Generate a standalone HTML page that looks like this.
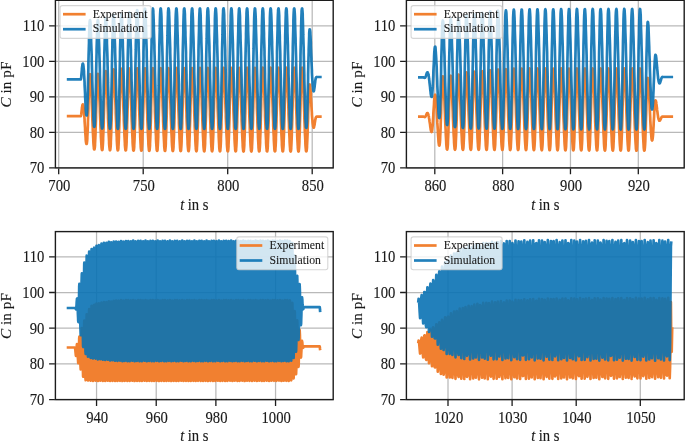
<!DOCTYPE html>
<html lang="en"><head><meta charset="utf-8"><title>C in pF vs t in s</title>
<style>
html,body{margin:0;padding:0;background:#fff;}
body{width:685px;height:441px;overflow:hidden;font-family:"Liberation Serif",serif;}
svg{display:block;will-change:transform;}
</style></head><body>
<svg width="685" height="441" viewBox="0 0 685 441">
<rect width="685" height="441" fill="#fff"/>
<defs>
<clipPath id="c1"><rect x="55.40" y="0.30" width="277.80" height="167.60"/></clipPath>
<clipPath id="c2"><rect x="406.40" y="0.30" width="277.80" height="167.60"/></clipPath>
<clipPath id="c3"><rect x="55.40" y="231.60" width="277.80" height="168.00"/></clipPath>
<clipPath id="c4"><rect x="406.40" y="231.60" width="277.80" height="168.00"/></clipPath>
</defs>
<path d="M58.70 0.30V167.90M143.20 0.30V167.90M227.70 0.30V167.90M312.20 0.30V167.90M55.40 167.90H333.20M55.40 132.38H333.20M55.40 96.85H333.20M55.40 61.33H333.20M55.40 25.80H333.20" stroke="#b9b9b9" stroke-width="1.25" fill="none"/>
<g clip-path="url(#c1)" fill="none" stroke-width="2.70" stroke-linejoin="round" stroke-linecap="butt">
<polyline stroke="#f18030" points="66.8,116.2 66.9,116.2 67.0,116.2 67.1,116.2 67.1,116.2 67.2,116.2 67.3,116.2 67.4,116.2 67.5,116.2 67.6,116.2 67.7,116.2 67.7,116.2 67.8,116.2 67.9,116.2 68.0,116.2 68.1,116.2 68.2,116.2 68.2,116.2 68.3,116.2 68.4,116.2 68.5,116.2 68.6,116.2 68.7,116.2 68.8,116.2 68.8,116.2 68.9,116.2 69.0,116.2 69.1,116.2 69.2,116.2 69.3,116.2 69.3,116.2 69.4,116.2 69.5,116.2 69.6,116.2 69.7,116.2 69.8,116.2 69.9,116.2 69.9,116.2 70.0,116.2 70.1,116.2 70.2,116.2 70.3,116.2 70.4,116.2 70.4,116.2 70.5,116.2 70.6,116.2 70.7,116.2 70.8,116.2 70.9,116.2 71.0,116.2 71.0,116.2 71.1,116.2 71.2,116.2 71.3,116.2 71.4,116.2 71.5,116.2 71.5,116.2 71.6,116.2 71.7,116.2 71.8,116.2 71.9,116.2 72.0,116.2 72.1,116.2 72.1,116.2 72.2,116.2 72.3,116.2 72.4,116.2 72.5,116.2 72.6,116.2 72.6,116.2 72.7,116.2 72.8,116.2 72.9,116.2 73.0,116.2 73.1,116.2 73.1,116.2 73.2,116.2 73.3,116.2 73.4,116.2 73.5,116.2 73.6,116.2 73.7,116.2 73.7,116.2 73.8,116.2 73.9,116.2 74.0,116.2 74.1,116.2 74.2,116.2 74.2,116.2 74.3,116.2 74.4,116.2 74.5,116.2 74.6,116.2 74.7,116.2 74.8,116.2 74.8,116.2 74.9,116.2 75.0,116.2 75.1,116.2 75.2,116.2 75.3,116.2 75.3,116.2 75.4,116.2 75.5,116.2 75.6,116.2 75.7,116.2 75.8,116.2 75.9,116.2 75.9,116.2 76.0,116.2 76.1,116.2 76.2,116.2 76.3,116.2 76.4,116.2 76.4,116.2 76.5,116.2 76.6,116.2 76.7,116.2 76.8,116.2 76.9,116.2 77.0,116.2 77.0,116.2 77.1,116.2 77.2,116.2 77.3,116.2 77.4,116.2 77.5,116.2 77.5,116.2 77.6,116.2 77.7,116.2 77.8,116.2 77.9,116.2 78.0,116.2 78.1,116.2 78.1,116.2 78.2,116.2 78.3,116.2 78.4,116.2 78.5,116.2 78.6,116.2 78.6,116.2 78.7,116.2 78.8,116.2 78.9,116.2 79.0,116.2 79.1,116.2 79.1,116.2 79.2,116.2 79.3,116.2 79.4,116.2 79.5,116.2 79.6,116.2 79.7,116.2 79.7,116.2 79.8,116.2 79.9,116.2 80.0,116.2 80.1,116.2 80.2,116.2 80.2,116.2 80.3,116.2 80.4,116.2 80.5,116.2 80.6,116.2 80.7,116.2 80.8,116.2 80.8,116.1 80.9,115.9 81.0,115.6 81.1,115.2 81.2,114.8 81.3,114.2 81.3,113.6 81.4,112.8 81.5,112.1 81.6,111.3 81.7,110.5 81.8,109.7 81.9,108.9 81.9,108.2 82.0,107.5 82.1,106.9 82.2,106.4 82.3,106.0 82.4,105.6 82.4,105.3 82.5,104.9 82.6,104.7 82.7,104.5 82.8,104.3 82.9,104.3 83.0,104.5 83.0,104.7 83.1,105.1 83.2,105.4 83.3,105.8 83.4,106.2 83.5,106.6 83.5,107.1 83.6,107.6 83.7,108.3 83.8,109.0 83.9,109.9 84.0,110.9 84.0,112.0 84.1,113.2 84.2,114.4 84.3,115.7 84.4,117.0 84.5,118.3 84.6,119.7 84.6,121.1 84.7,122.5 84.8,124.0 84.9,125.4 85.0,126.9 85.1,128.3 85.1,129.8 85.2,131.2 85.3,132.6 85.4,134.1 85.5,135.5 85.6,137.0 85.7,138.3 85.7,139.4 85.8,140.4 85.9,141.3 86.0,142.0 86.1,142.7 86.2,143.1 86.2,143.4 86.3,143.7 86.4,143.9 86.5,144.0 86.6,144.0 86.7,143.9 86.8,143.8 86.8,143.4 86.9,142.9 87.0,142.1 87.1,141.3 87.2,140.1 87.3,138.7 87.3,137.0 87.4,135.2 87.5,133.4 87.6,131.5 87.7,129.5 87.8,127.3 87.9,125.0 87.9,122.6 88.0,120.0 88.1,117.3 88.2,114.6 88.3,111.7 88.4,108.7 88.4,105.6 88.5,102.6 88.6,99.9 88.7,97.4 88.8,95.1 88.9,92.8 89.0,90.6 89.0,88.4 89.1,86.0 89.2,83.5 89.3,81.1 89.4,79.2 89.5,77.7 89.5,76.6 89.6,75.7 89.7,75.0 89.8,74.6 89.9,74.3 90.0,74.1 90.0,74.1 90.1,74.3 90.2,74.6 90.3,74.9 90.4,75.4 90.5,76.2 90.6,77.1 90.6,78.1 90.7,79.5 90.8,81.3 90.9,83.2 91.0,85.3 91.1,87.2 91.1,89.0 91.2,90.8 91.3,92.5 91.4,94.3 91.5,96.0 91.6,97.9 91.7,99.8 91.7,101.9 91.8,104.2 91.9,106.5 92.0,109.0 92.1,111.3 92.2,113.6 92.2,115.8 92.3,118.0 92.4,120.2 92.5,122.3 92.6,124.4 92.7,126.4 92.8,128.3 92.8,130.2 92.9,132.1 93.0,133.9 93.1,135.7 93.2,137.4 93.3,139.1 93.3,140.8 93.4,142.4 93.5,143.9 93.6,145.2 93.7,146.2 93.8,147.1 93.9,147.9 93.9,148.6 94.0,149.0 94.1,149.2 94.2,149.4 94.3,149.5 94.4,149.5 94.4,149.4 94.5,149.2 94.6,148.9 94.7,148.3 94.8,147.5 94.9,146.5 95.0,145.4 95.0,143.9 95.1,142.1 95.2,140.1 95.3,138.0 95.4,135.9 95.5,133.7 95.5,131.4 95.6,128.9 95.7,126.4 95.8,123.7 95.9,120.9 96.0,118.0 96.0,115.0 96.1,112.0 96.2,108.8 96.3,105.5 96.4,102.4 96.5,99.6 96.6,97.1 96.6,94.7 96.7,92.4 96.8,90.2 96.9,87.9 97.0,85.5 97.1,82.9 97.1,80.6 97.2,78.6 97.3,77.2 97.4,76.1 97.5,75.2 97.6,74.6 97.7,74.3 97.7,74.0 97.8,73.8 97.9,73.8 98.0,74.0 98.1,74.3 98.2,74.6 98.2,75.2 98.3,75.9 98.4,76.8 98.5,77.9 98.6,79.4 98.7,81.2 98.8,83.2 98.8,85.3 98.9,87.3 99.0,89.1 99.1,90.9 99.2,92.6 99.3,94.4 99.3,96.2 99.4,98.1 99.5,100.1 99.6,102.2 99.7,104.5 99.8,106.9 99.9,109.4 99.9,111.8 100.0,114.0 100.1,116.3 100.2,118.5 100.3,120.7 100.4,122.8 100.4,124.9 100.5,126.9 100.6,128.9 100.7,130.8 100.8,132.7 100.9,134.5 100.9,136.3 101.0,138.0 101.1,139.8 101.2,141.5 101.3,143.2 101.4,144.6 101.5,145.9 101.5,146.9 101.6,147.8 101.7,148.6 101.8,149.3 101.9,149.7 102.0,149.9 102.0,150.1 102.1,150.1 102.2,150.1 102.3,150.0 102.4,149.8 102.5,149.4 102.6,148.8 102.6,147.9 102.7,146.9 102.8,145.7 102.9,144.2 103.0,142.3 103.1,140.2 103.1,138.1 103.2,135.9 103.3,133.6 103.4,131.2 103.5,128.6 103.6,126.0 103.7,123.2 103.7,120.2 103.8,117.2 103.9,114.1 104.0,111.0 104.1,107.6 104.2,104.2 104.2,101.0 104.3,98.1 104.4,95.5 104.5,93.0 104.6,90.6 104.7,88.2 104.8,85.8 104.8,83.3 104.9,80.6 105.0,78.2 105.1,76.1 105.2,74.7 105.3,73.5 105.3,72.6 105.4,72.0 105.5,71.5 105.6,71.2 105.7,71.0 105.8,71.0 105.9,71.2 105.9,71.4 106.0,71.8 106.1,72.3 106.2,73.1 106.3,74.1 106.4,75.2 106.4,76.7 106.5,78.6 106.6,80.7 106.7,82.9 106.8,84.9 106.9,86.8 106.9,88.6 107.0,90.5 107.1,92.3 107.2,94.2 107.3,96.1 107.4,98.2 107.5,100.4 107.5,102.8 107.6,105.4 107.7,107.9 107.8,110.4 107.9,112.8 108.0,115.1 108.0,117.4 108.1,119.7 108.2,121.9 108.3,124.1 108.4,126.2 108.5,128.3 108.6,130.3 108.6,132.2 108.7,134.1 108.8,136.0 108.9,137.8 109.0,139.6 109.1,141.4 109.1,143.1 109.2,144.6 109.3,145.9 109.4,146.9 109.5,147.9 109.6,148.7 109.7,149.4 109.7,149.8 109.8,150.0 109.9,150.2 110.0,150.3 110.1,150.2 110.2,150.1 110.2,149.9 110.3,149.5 110.4,148.8 110.5,147.9 110.6,146.8 110.7,145.6 110.8,144.0 110.8,142.1 110.9,139.9 111.0,137.7 111.1,135.4 111.2,133.0 111.3,130.5 111.3,127.9 111.4,125.1 111.5,122.3 111.6,119.3 111.7,116.2 111.8,113.0 111.9,109.7 111.9,106.3 112.0,102.8 112.1,99.5 112.2,96.6 112.3,93.9 112.4,91.4 112.4,88.9 112.5,86.5 112.6,84.1 112.7,81.5 112.8,78.8 112.9,76.3 112.9,74.3 113.0,72.9 113.1,71.7 113.2,70.8 113.3,70.2 113.4,69.8 113.5,69.5 113.5,69.3 113.6,69.4 113.7,69.6 113.8,69.9 113.9,70.3 114.0,70.9 114.0,71.7 114.1,72.7 114.2,73.9 114.3,75.5 114.4,77.5 114.5,79.7 114.6,81.9 114.6,83.9 114.7,85.9 114.8,87.8 114.9,89.6 115.0,91.5 115.1,93.5 115.1,95.5 115.2,97.6 115.3,99.9 115.4,102.3 115.5,104.9 115.6,107.5 115.7,110.1 115.7,112.5 115.8,114.8 115.9,117.2 116.0,119.5 116.1,121.8 116.2,124.0 116.2,126.1 116.3,128.2 116.4,130.2 116.5,132.2 116.6,134.2 116.7,136.0 116.8,137.8 116.8,139.7 116.9,141.5 117.0,143.2 117.1,144.8 117.2,146.1 117.3,147.1 117.3,148.0 117.4,148.9 117.5,149.5 117.6,149.9 117.7,150.2 117.8,150.3 117.8,150.4 117.9,150.4 118.0,150.2 118.1,150.0 118.2,149.6 118.3,148.9 118.4,148.0 118.4,146.9 118.5,145.6 118.6,144.0 118.7,142.0 118.8,139.8 118.9,137.5 118.9,135.2 119.0,132.8 119.1,130.2 119.2,127.6 119.3,124.8 119.4,121.9 119.5,118.8 119.5,115.7 119.6,112.5 119.7,109.2 119.8,105.7 119.9,102.2 120.0,98.9 120.0,95.9 120.1,93.2 120.2,90.7 120.3,88.2 120.4,85.8 120.5,83.3 120.6,80.7 120.6,78.0 120.7,75.5 120.8,73.5 120.9,72.1 121.0,70.9 121.1,70.0 121.1,69.5 121.2,69.1 121.3,68.8 121.4,68.6 121.5,68.7 121.6,68.9 121.7,69.2 121.7,69.6 121.8,70.2 121.9,71.1 122.0,72.1 122.1,73.3 122.2,75.0 122.2,77.0 122.3,79.2 122.4,81.5 122.5,83.6 122.6,85.5 122.7,87.4 122.8,89.3 122.8,91.2 122.9,93.2 123.0,95.2 123.1,97.4 123.2,99.7 123.3,102.2 123.3,104.8 123.4,107.4 123.5,110.0 123.6,112.4 123.7,114.8 123.8,117.2 123.8,119.5 123.9,121.8 124.0,124.0 124.1,126.2 124.2,128.3 124.3,130.3 124.4,132.3 124.4,134.3 124.5,136.1 124.6,138.0 124.7,139.8 124.8,141.7 124.9,143.4 124.9,144.9 125.0,146.2 125.1,147.2 125.2,148.2 125.3,149.0 125.4,149.7 125.5,150.0 125.5,150.3 125.6,150.4 125.7,150.5 125.8,150.5 125.9,150.3 126.0,150.1 126.0,149.7 126.1,148.9 126.2,148.0 126.3,146.9 126.4,145.6 126.5,143.9 126.6,141.9 126.6,139.7 126.7,137.4 126.8,135.1 126.9,132.7 127.0,130.1 127.1,127.4 127.1,124.6 127.2,121.7 127.3,118.6 127.4,115.4 127.5,112.2 127.6,108.9 127.7,105.3 127.7,101.8 127.8,98.5 127.9,95.6 128.0,92.9 128.1,90.4 128.2,87.9 128.2,85.5 128.3,83.0 128.4,80.3 128.5,77.6 128.6,75.1 128.7,73.2 128.8,71.8 128.8,70.7 128.9,69.8 129.0,69.2 129.1,68.8 129.2,68.5 129.3,68.4 129.3,68.5 129.4,68.7 129.5,69.0 129.6,69.5 129.7,70.1 129.8,71.0 129.8,72.0 129.9,73.3 130.0,75.0 130.1,77.0 130.2,79.2 130.3,81.5 130.4,83.6 130.4,85.5 130.5,87.4 130.6,89.3 130.7,91.3 130.8,93.2 130.9,95.3 130.9,97.4 131.0,99.8 131.1,102.3 131.2,104.9 131.3,107.6 131.4,110.1 131.5,112.6 131.5,115.0 131.6,117.3 131.7,119.7 131.8,122.0 131.9,124.2 132.0,126.3 132.0,128.4 132.1,130.5 132.2,132.5 132.3,134.5 132.4,136.3 132.5,138.2 132.6,140.0 132.6,141.9 132.7,143.6 132.8,145.1 132.9,146.4 133.0,147.4 133.1,148.4 133.1,149.2 133.2,149.8 133.3,150.2 133.4,150.4 133.5,150.6 133.6,150.6 133.7,150.6 133.7,150.4 133.8,150.2 133.9,149.7 134.0,149.0 134.1,148.0 134.2,146.9 134.2,145.6 134.3,143.9 134.4,141.9 134.5,139.6 134.6,137.3 134.7,135.0 134.7,132.6 134.8,130.0 134.9,127.3 135.0,124.5 135.1,121.5 135.2,118.4 135.3,115.3 135.3,112.0 135.4,108.7 135.5,105.1 135.6,101.6 135.7,98.3 135.8,95.4 135.8,92.7 135.9,90.2 136.0,87.7 136.1,85.3 136.2,82.8 136.3,80.1 136.4,77.4 136.4,75.0 136.5,73.0 136.6,71.7 136.7,70.5 136.8,69.7 136.9,69.1 136.9,68.7 137.0,68.5 137.1,68.3 137.2,68.4 137.3,68.6 137.4,69.0 137.5,69.4 137.5,70.1 137.6,71.0 137.7,72.0 137.8,73.3 137.9,75.0 138.0,77.1 138.0,79.3 138.1,81.6 138.2,83.7 138.3,85.6 138.4,87.5 138.5,89.4 138.6,91.4 138.6,93.3 138.7,95.4 138.8,97.6 138.9,99.9 139.0,102.5 139.1,105.1 139.1,107.7 139.2,110.3 139.3,112.7 139.4,115.1 139.5,117.5 139.6,119.9 139.7,122.2 139.7,124.4 139.8,126.5 139.9,128.6 140.0,130.7 140.1,132.7 140.2,134.6 140.2,136.5 140.3,138.3 140.4,140.2 140.5,142.1 140.6,143.8 140.7,145.3 140.7,146.5 140.8,147.6 140.9,148.5 141.0,149.3 141.1,149.9 141.2,150.3 141.3,150.5 141.3,150.7 141.4,150.7 141.5,150.7 141.6,150.5 141.7,150.2 141.8,149.8 141.8,149.0 141.9,148.1 142.0,146.9 142.1,145.6 142.2,143.9 142.3,141.8 142.4,139.6 142.4,137.3 142.5,135.0 142.6,132.5 142.7,129.9 142.8,127.2 142.9,124.4 142.9,121.4 143.0,118.3 143.1,115.1 143.2,111.8 143.3,108.5 143.4,104.9 143.5,101.4 143.5,98.1 143.6,95.2 143.7,92.6 143.8,90.0 143.9,87.5 144.0,85.1 144.0,82.6 144.1,79.9 144.2,77.2 144.3,74.8 144.4,72.8 144.5,71.5 144.6,70.4 144.6,69.6 144.7,69.0 144.8,68.6 144.9,68.4 145.0,68.3 145.1,68.3 145.1,68.6 145.2,68.9 145.3,69.4 145.4,70.1 145.5,71.0 145.6,72.0 145.7,73.3 145.7,75.1 145.8,77.2 145.9,79.4 146.0,81.6 146.1,83.7 146.2,85.7 146.2,87.6 146.3,89.5 146.4,91.5 146.5,93.4 146.6,95.5 146.7,97.7 146.7,100.1 146.8,102.6 146.9,105.3 147.0,107.9 147.1,110.5 147.2,112.9 147.3,115.3 147.3,117.7 147.4,120.0 147.5,122.3 147.6,124.5 147.7,126.7 147.8,128.8 147.8,130.9 147.9,132.9 148.0,134.8 148.1,136.7 148.2,138.5 148.3,140.4 148.4,142.2 148.4,144.0 148.5,145.5 148.6,146.7 148.7,147.7 148.8,148.7 148.9,149.5 148.9,150.1 149.0,150.4 149.1,150.6 149.2,150.8 149.3,150.8 149.4,150.7 149.5,150.6 149.5,150.3 149.6,149.9 149.7,149.1 149.8,148.1 149.9,146.9 150.0,145.6 150.0,143.8 150.1,141.8 150.2,139.5 150.3,137.2 150.4,134.9 150.5,132.4 150.6,129.8 150.6,127.1 150.7,124.2 150.8,121.2 150.9,118.1 151.0,114.9 151.1,111.7 151.1,108.3 151.2,104.7 151.3,101.2 151.4,98.0 151.5,95.1 151.6,92.4 151.6,89.8 151.7,87.4 151.8,84.9 151.9,82.4 152.0,79.7 152.1,77.0 152.2,74.6 152.2,72.7 152.3,71.4 152.4,70.3 152.5,69.5 152.6,68.9 152.7,68.6 152.7,68.3 152.8,68.2 152.9,68.3 153.0,68.6 153.1,68.9 153.2,69.3 153.3,70.1 153.3,71.0 153.4,72.1 153.5,73.4 153.6,75.2 153.7,77.3 153.8,79.5 153.8,81.7 153.9,83.8 154.0,85.8 154.1,87.7 154.2,89.6 154.3,91.6 154.4,93.5 154.4,95.6 154.5,97.8 154.6,100.2 154.7,102.8 154.8,105.4 154.9,108.1 154.9,110.6 155.0,113.1 155.1,115.5 155.2,117.9 155.3,120.2 155.4,122.5 155.5,124.7 155.5,126.9 155.6,129.0 155.7,131.0 155.8,133.0 155.9,135.0 156.0,136.8 156.0,138.7 156.1,140.6 156.2,142.4 156.3,144.1 156.4,145.6 156.5,146.8 156.6,147.8 156.6,148.8 156.7,149.6 156.8,150.2 156.9,150.5 157.0,150.7 157.1,150.9 157.1,150.9 157.2,150.8 157.3,150.6 157.4,150.4 157.5,149.9 157.6,149.1 157.6,148.1 157.7,147.0 157.8,145.6 157.9,143.8 158.0,141.7 158.1,139.4 158.2,137.1 158.2,134.8 158.3,132.3 158.4,129.7 158.5,126.9 158.6,124.1 158.7,121.1 158.7,118.0 158.8,114.8 158.9,111.5 159.0,108.1 159.1,104.5 159.2,101.0 159.3,97.8 159.3,94.9 159.4,92.2 159.5,89.7 159.6,87.2 159.7,84.7 159.8,82.2 159.8,79.5 159.9,76.8 160.0,74.4 160.1,72.6 160.2,71.3 160.3,70.2 160.4,69.4 160.4,68.9 160.5,68.5 160.6,68.2 160.7,68.1 160.8,68.2 160.9,68.5 160.9,68.9 161.0,69.3 161.1,70.1 161.2,71.0 161.3,72.1 161.4,73.4 161.5,75.2 161.5,77.4 161.6,79.6 161.7,81.8 161.8,83.9 161.9,85.9 162.0,87.8 162.0,89.7 162.1,91.7 162.2,93.7 162.3,95.7 162.4,98.0 162.5,100.4 162.6,102.9 162.6,105.6 162.7,108.2 162.8,110.8 162.9,113.2 163.0,115.6 163.1,118.0 163.1,120.4 163.2,122.7 163.3,124.9 163.4,127.0 163.5,129.1 163.6,131.2 163.6,133.2 163.7,135.2 163.8,137.0 163.9,138.9 164.0,140.8 164.1,142.6 164.2,144.3 164.2,145.8 164.3,147.0 164.4,148.0 164.5,148.9 164.6,149.7 164.7,150.3 164.7,150.6 164.8,150.8 164.9,151.0 165.0,151.0 165.1,150.9 165.2,150.7 165.3,150.4 165.3,149.9 165.4,149.1 165.5,148.1 165.6,147.0 165.7,145.6 165.8,143.7 165.8,141.6 165.9,139.4 166.0,137.0 166.1,134.7 166.2,132.2 166.3,129.6 166.4,126.8 166.4,124.0 166.5,120.9 166.6,117.8 166.7,114.6 166.8,111.3 166.9,107.9 166.9,104.3 167.0,100.8 167.1,97.6 167.2,94.7 167.3,92.0 167.4,89.5 167.5,87.0 167.5,84.6 167.6,82.0 167.7,79.3 167.8,76.6 167.9,74.2 168.0,72.4 168.0,71.1 168.1,70.1 168.2,69.3 168.3,68.8 168.4,68.4 168.5,68.2 168.5,68.1 168.6,68.2 168.7,68.5 168.8,68.8 168.9,69.3 169.0,70.1 169.1,71.0 169.1,72.1 169.2,73.5 169.3,75.3 169.4,77.4 169.5,79.7 169.6,81.9 169.6,84.0 169.7,86.0 169.8,87.9 169.9,89.8 170.0,91.8 170.1,93.8 170.2,95.9 170.2,98.1 170.3,100.5 170.4,103.1 170.5,105.8 170.6,108.4 170.7,110.9 170.7,113.4 170.8,115.8 170.9,118.2 171.0,120.5 171.1,122.8 171.2,125.1 171.3,127.2 171.3,129.3 171.4,131.4 171.5,133.4 171.6,135.3 171.7,137.2 171.8,139.0 171.8,140.9 171.9,142.8 172.0,144.5 172.1,145.9 172.2,147.1 172.3,148.1 172.4,149.0 172.4,149.8 172.5,150.4 172.6,150.7 172.7,150.9 172.8,151.0 172.9,151.1 172.9,151.0 173.0,150.8 173.1,150.5 173.2,150.0 173.3,149.1 173.4,148.1 173.5,147.0 173.5,145.5 173.6,143.7 173.7,141.6 173.8,139.3 173.9,137.0 174.0,134.6 174.0,132.1 174.1,129.4 174.2,126.7 174.3,123.8 174.4,120.8 174.5,117.6 174.5,114.4 174.6,111.1 174.7,107.7 174.8,104.1 174.9,100.6 175.0,97.4 175.1,94.5 175.1,91.9 175.2,89.3 175.3,86.9 175.4,84.4 175.5,81.8 175.6,79.1 175.6,76.4 175.7,74.1 175.8,72.3 175.9,71.0 176.0,70.0 176.1,69.2 176.2,68.7 176.2,68.3 176.3,68.1 176.4,68.0 176.5,68.2 176.6,68.4 176.7,68.8 176.7,69.3 176.8,70.1 176.9,71.0 177.0,72.1 177.1,73.5 177.2,75.4 177.3,77.5 177.3,79.8 177.4,82.0 177.5,84.1 177.6,86.0 177.7,88.0 177.8,89.9 177.8,91.9 177.9,93.9 178.0,96.0 178.1,98.2 178.2,100.7 178.3,103.3 178.4,105.9 178.4,108.6 178.5,111.1 178.6,113.5 178.7,116.0 178.8,118.4 178.9,120.7 178.9,123.0 179.0,125.2 179.1,127.4 179.2,129.5 179.3,131.5 179.4,133.5 179.5,135.5 179.5,137.3 179.6,139.2 179.7,141.1 179.8,142.9 179.9,144.6 180.0,146.1 180.0,147.2 180.1,148.2 180.2,149.2 180.3,149.9 180.4,150.5 180.5,150.8 180.5,151.0 180.6,151.1 180.7,151.1 180.8,151.0 180.9,150.8 181.0,150.5 181.1,150.0 181.1,149.2 181.2,148.1 181.3,146.9 181.4,145.5 181.5,143.6 181.6,141.5 181.6,139.2 181.7,136.9 181.8,134.5 181.9,132.0 182.0,129.3 182.1,126.5 182.2,123.7 182.2,120.6 182.3,117.5 182.4,114.2 182.5,110.9 182.6,107.5 182.7,103.9 182.7,100.4 182.8,97.2 182.9,94.4 183.0,91.7 183.1,89.2 183.2,86.7 183.3,84.2 183.3,81.7 183.4,78.9 183.5,76.2 183.6,73.9 183.7,72.2 183.8,70.9 183.8,69.9 183.9,69.1 184.0,68.6 184.1,68.3 184.2,68.0 184.3,68.0 184.4,68.1 184.4,68.4 184.5,68.8 184.6,69.3 184.7,70.1 184.8,71.0 184.9,72.1 184.9,73.6 185.0,75.5 185.1,77.6 185.2,79.9 185.3,82.1 185.4,84.2 185.4,86.1 185.5,88.1 185.6,90.0 185.7,92.0 185.8,94.0 185.9,96.1 186.0,98.4 186.0,100.8 186.1,103.4 186.2,106.1 186.3,108.7 186.4,111.3 186.5,113.7 186.5,116.1 186.6,118.5 186.7,120.9 186.8,123.2 186.9,125.4 187.0,127.5 187.1,129.6 187.1,131.7 187.2,133.7 187.3,135.6 187.4,137.5 187.5,139.4 187.6,141.3 187.6,143.1 187.7,144.8 187.8,146.2 187.9,147.3 188.0,148.3 188.1,149.3 188.2,150.0 188.2,150.6 188.3,150.8 188.4,151.0 188.5,151.2 188.6,151.2 188.7,151.1 188.7,150.9 188.8,150.6 188.9,150.0 189.0,149.2 189.1,148.1 189.2,146.9 189.3,145.4 189.3,143.6 189.4,141.4 189.5,139.1 189.6,136.8 189.7,134.4 189.8,131.8 189.8,129.2 189.9,126.4 190.0,123.5 190.1,120.5 190.2,117.3 190.3,114.0 190.4,110.7 190.4,107.3 190.5,103.7 190.6,100.2 190.7,97.0 190.8,94.2 190.9,91.5 190.9,89.0 191.0,86.5 191.1,84.1 191.2,81.5 191.3,78.7 191.4,76.0 191.4,73.7 191.5,72.0 191.6,70.8 191.7,69.8 191.8,69.0 191.9,68.6 192.0,68.2 192.0,68.0 192.1,68.0 192.2,68.1 192.3,68.4 192.4,68.8 192.5,69.3 192.5,70.1 192.6,71.1 192.7,72.2 192.8,73.7 192.9,75.6 193.0,77.8 193.1,80.0 193.1,82.2 193.2,84.3 193.3,86.2 193.4,88.2 193.5,90.1 193.6,92.1 193.6,94.1 193.7,96.2 193.8,98.5 193.9,101.0 194.0,103.6 194.1,106.2 194.2,108.9 194.2,111.4 194.3,113.9 194.4,116.3 194.5,118.7 194.6,121.0 194.7,123.3 194.7,125.5 194.8,127.7 194.9,129.8 195.0,131.9 195.1,133.9 195.2,135.8 195.3,137.6 195.3,139.5 195.4,141.4 195.5,143.2 195.6,144.9 195.7,146.3 195.8,147.4 195.8,148.5 195.9,149.4 196.0,150.1 196.1,150.6 196.2,150.9 196.3,151.1 196.4,151.2 196.4,151.2 196.5,151.1 196.6,150.9 196.7,150.6 196.8,150.0 196.9,149.2 196.9,148.1 197.0,146.9 197.1,145.4 197.2,143.5 197.3,141.3 197.4,139.0 197.4,136.7 197.5,134.3 197.6,131.7 197.7,129.0 197.8,126.3 197.9,123.4 198.0,120.3 198.0,117.1 198.1,113.9 198.2,110.5 198.3,107.0 198.4,103.4 198.5,100.0 198.5,96.8 198.6,94.0 198.7,91.4 198.8,88.8 198.9,86.4 199.0,83.9 199.1,81.3 199.1,78.5 199.2,75.9 199.3,73.6 199.4,71.9 199.5,70.7 199.6,69.7 199.6,69.0 199.7,68.5 199.8,68.2 199.9,67.9 200.0,67.9 200.1,68.1 200.2,68.4 200.2,68.8 200.3,69.3 200.4,70.1 200.5,71.1 200.6,72.2 200.7,73.7 200.7,75.7 200.8,77.9 200.9,80.1 201.0,82.4 201.1,84.4 201.2,86.3 201.3,88.3 201.3,90.2 201.4,92.2 201.5,94.2 201.6,96.4 201.7,98.6 201.8,101.1 201.8,103.7 201.9,106.4 202.0,109.1 202.1,111.6 202.2,114.0 202.3,116.4 202.3,118.8 202.4,121.2 202.5,123.5 202.6,125.7 202.7,127.8 202.8,129.9 202.9,132.0 202.9,134.0 203.0,135.9 203.1,137.8 203.2,139.7 203.3,141.6 203.4,143.4 203.4,145.0 203.5,146.4 203.6,147.6 203.7,148.6 203.8,149.5 203.9,150.2 204.0,150.7 204.0,151.0 204.1,151.2 204.2,151.3 204.3,151.3 204.4,151.1 204.5,150.9 204.5,150.6 204.6,150.0 204.7,149.1 204.8,148.1 204.9,146.9 205.0,145.3 205.1,143.4 205.1,141.2 205.2,138.9 205.3,136.6 205.4,134.2 205.5,131.6 205.6,128.9 205.6,126.1 205.7,123.2 205.8,120.1 205.9,116.9 206.0,113.7 206.1,110.4 206.2,106.8 206.2,103.2 206.3,99.8 206.4,96.7 206.5,93.8 206.6,91.2 206.7,88.7 206.7,86.2 206.8,83.7 206.9,81.1 207.0,78.3 207.1,75.7 207.2,73.4 207.3,71.8 207.3,70.6 207.4,69.6 207.5,68.9 207.6,68.5 207.7,68.1 207.8,67.9 207.8,67.9 207.9,68.1 208.0,68.4 208.1,68.8 208.2,69.3 208.3,70.1 208.3,71.1 208.4,72.3 208.5,73.8 208.6,75.8 208.7,78.0 208.8,80.3 208.9,82.5 208.9,84.5 209.0,86.4 209.1,88.4 209.2,90.3 209.3,92.3 209.4,94.3 209.4,96.5 209.5,98.8 209.6,101.3 209.7,103.9 209.8,106.6 209.9,109.2 210.0,111.7 210.0,114.2 210.1,116.6 210.2,119.0 210.3,121.4 210.4,123.6 210.5,125.8 210.5,128.0 210.6,130.1 210.7,132.2 210.8,134.2 210.9,136.1 211.0,137.9 211.1,139.8 211.1,141.7 211.2,143.5 211.3,145.2 211.4,146.6 211.5,147.7 211.6,148.7 211.6,149.6 211.7,150.3 211.8,150.8 211.9,151.0 212.0,151.2 212.1,151.3 212.2,151.3 212.2,151.2 212.3,151.0 212.4,150.6 212.5,150.0 212.6,149.1 212.7,148.0 212.7,146.8 212.8,145.3 212.9,143.3 213.0,141.1 213.1,138.8 213.2,136.5 213.3,134.0 213.3,131.5 213.4,128.8 213.5,126.0 213.6,123.0 213.7,120.0 213.8,116.8 213.8,113.5 213.9,110.2 214.0,106.6 214.1,103.0 214.2,99.6 214.3,96.5 214.3,93.7 214.4,91.0 214.5,88.5 214.6,86.0 214.7,83.6 214.8,80.9 214.9,78.1 214.9,75.5 215.0,73.3 215.1,71.7 215.2,70.5 215.3,69.5 215.4,68.8 215.4,68.4 215.5,68.1 215.6,67.9 215.7,67.9 215.8,68.1 215.9,68.4 216.0,68.7 216.0,69.3 216.1,70.2 216.2,71.2 216.3,72.3 216.4,73.9 216.5,75.9 216.5,78.1 216.6,80.4 216.7,82.6 216.8,84.6 216.9,86.5 217.0,88.5 217.1,90.4 217.1,92.4 217.2,94.5 217.3,96.6 217.4,98.9 217.5,101.4 217.6,104.1 217.6,106.7 217.7,109.4 217.8,111.9 217.9,114.3 218.0,116.8 218.1,119.2 218.2,121.5 218.2,123.8 218.3,126.0 218.4,128.1 218.5,130.2 218.6,132.3 218.7,134.3 218.7,136.2 218.8,138.1 218.9,140.0 219.0,141.9 219.1,143.7 219.2,145.3 219.2,146.7 219.3,147.8 219.4,148.8 219.5,149.7 219.6,150.4 219.7,150.8 219.8,151.1 219.8,151.3 219.9,151.4 220.0,151.4 220.1,151.2 220.2,151.0 220.3,150.7 220.3,150.0 220.4,149.1 220.5,148.0 220.6,146.8 220.7,145.2 220.8,143.2 220.9,141.0 220.9,138.7 221.0,136.3 221.1,133.9 221.2,131.3 221.3,128.6 221.4,125.8 221.4,122.9 221.5,119.8 221.6,116.6 221.7,113.3 221.8,110.0 221.9,106.4 222.0,102.8 222.0,99.4 222.1,96.3 222.2,93.5 222.3,90.9 222.4,88.3 222.5,85.9 222.5,83.4 222.6,80.7 222.7,78.0 222.8,75.3 222.9,73.2 223.0,71.6 223.1,70.4 223.1,69.4 223.2,68.8 223.3,68.4 223.4,68.0 223.5,67.8 223.6,67.9 223.6,68.0 223.7,68.4 223.8,68.8 223.9,69.3 224.0,70.2 224.1,71.2 224.2,72.4 224.2,74.0 224.3,76.0 224.4,78.2 224.5,80.5 224.6,82.7 224.7,84.7 224.7,86.6 224.8,88.6 224.9,90.5 225.0,92.5 225.1,94.6 225.2,96.7 225.2,99.1 225.3,101.6 225.4,104.2 225.5,106.9 225.6,109.5 225.7,112.0 225.8,114.5 225.8,116.9 225.9,119.3 226.0,121.7 226.1,123.9 226.2,126.1 226.3,128.3 226.3,130.4 226.4,132.4 226.5,134.4 226.6,136.4 226.7,138.2 226.8,140.1 226.9,142.0 226.9,143.8 227.0,145.4 227.1,146.8 227.2,147.9 227.3,148.9 227.4,149.7 227.4,150.4 227.5,150.9 227.6,151.1 227.7,151.3 227.8,151.4 227.9,151.4 228.0,151.2 228.0,151.0 228.1,150.7 228.2,150.0 228.3,149.1 228.4,148.0 228.5,146.7 228.5,145.1 228.6,143.1 228.7,140.9 228.8,138.6 228.9,136.2 229.0,133.8 229.1,131.2 229.1,128.5 229.2,125.7 229.3,122.7 229.4,119.6 229.5,116.4 229.6,113.1 229.6,109.8 229.7,106.2 229.8,102.6 229.9,99.2 230.0,96.1 230.1,93.3 230.2,90.7 230.2,88.2 230.3,85.7 230.4,83.2 230.5,80.6 230.6,77.8 230.7,75.2 230.7,73.0 230.8,71.5 230.9,70.3 231.0,69.4 231.1,68.7 231.2,68.3 231.2,68.0 231.3,67.8 231.4,67.8 231.5,68.0 231.6,68.4 231.7,68.8 231.8,69.4 231.8,70.2 231.9,71.3 232.0,72.4 232.1,74.1 232.2,76.1 232.3,78.3 232.3,80.6 232.4,82.8 232.5,84.8 232.6,86.8 232.7,88.7 232.8,90.6 232.9,92.6 232.9,94.7 233.0,96.9 233.1,99.2 233.2,101.7 233.3,104.4 233.4,107.1 233.4,109.7 233.5,112.2 233.6,114.6 233.7,117.1 233.8,119.5 233.9,121.8 234.0,124.1 234.0,126.3 234.1,128.4 234.2,130.5 234.3,132.6 234.4,134.6 234.5,136.5 234.5,138.4 234.6,140.3 234.7,142.1 234.8,143.9 234.9,145.5 235.0,146.9 235.1,147.9 235.1,148.9 235.2,149.8 235.3,150.5 235.4,150.9 235.5,151.2 235.6,151.4 235.6,151.4 235.7,151.4 235.8,151.3 235.9,151.0 236.0,150.7 236.1,150.0 236.1,149.0 236.2,147.9 236.3,146.7 236.4,145.0 236.5,143.0 236.6,140.8 236.7,138.4 236.7,136.1 236.8,133.7 236.9,131.0 237.0,128.3 237.1,125.5 237.2,122.5 237.2,119.4 237.3,116.2 237.4,112.9 237.5,109.6 237.6,106.0 237.7,102.4 237.8,99.0 237.8,95.9 237.9,93.2 238.0,90.5 238.1,88.0 238.2,85.6 238.3,83.1 238.3,80.4 238.4,77.6 238.5,75.0 238.6,72.9 238.7,71.4 238.8,70.3 238.9,69.3 238.9,68.7 239.0,68.3 239.1,68.0 239.2,67.8 239.3,67.8 239.4,68.0 239.4,68.4 239.5,68.8 239.6,69.4 239.7,70.3 239.8,71.3 239.9,72.5 240.0,74.2 240.0,76.2 240.1,78.5 240.2,80.7 240.3,82.9 240.4,84.9 240.5,86.9 240.5,88.8 240.6,90.8 240.7,92.8 240.8,94.8 240.9,97.0 241.0,99.3 241.1,101.9 241.1,104.5 241.2,107.2 241.3,109.9 241.4,112.4 241.5,114.8 241.6,117.2 241.6,119.6 241.7,122.0 241.8,124.2 241.9,126.4 242.0,128.6 242.1,130.7 242.1,132.7 242.2,134.7 242.3,136.6 242.4,138.5 242.5,140.4 242.6,142.3 242.7,144.1 242.7,145.6 242.8,147.0 242.9,148.0 243.0,149.0 243.1,149.9 243.2,150.6 243.2,151.0 243.3,151.2 243.4,151.4 243.5,151.5 243.6,151.4 243.7,151.3 243.8,151.0 243.8,150.7 243.9,150.0 244.0,149.0 244.1,147.9 244.2,146.6 244.3,144.9 244.3,142.9 244.4,140.6 244.5,138.3 244.6,136.0 244.7,133.5 244.8,130.9 244.9,128.2 244.9,125.3 245.0,122.4 245.1,119.2 245.2,116.0 245.3,112.7 245.4,109.3 245.4,105.8 245.5,102.2 245.6,98.8 245.7,95.8 245.8,93.0 245.9,90.4 246.0,87.9 246.0,85.4 246.1,82.9 246.2,80.2 246.3,77.4 246.4,74.9 246.5,72.8 246.5,71.3 246.6,70.2 246.7,69.2 246.8,68.6 246.9,68.2 247.0,67.9 247.1,67.8 247.1,67.8 247.2,68.0 247.3,68.4 247.4,68.8 247.5,69.4 247.6,70.3 247.6,71.4 247.7,72.6 247.8,74.3 247.9,76.3 248.0,78.6 248.1,80.9 248.1,83.0 248.2,85.0 248.3,87.0 248.4,88.9 248.5,90.9 248.6,92.9 248.7,95.0 248.7,97.1 248.8,99.5 248.9,102.0 249.0,104.7 249.1,107.4 249.2,110.0 249.2,112.5 249.3,115.0 249.4,117.4 249.5,119.8 249.6,122.1 249.7,124.4 249.8,126.6 249.8,128.7 249.9,130.8 250.0,132.9 250.1,134.8 250.2,136.8 250.3,138.6 250.3,140.5 250.4,142.4 250.5,144.2 250.6,145.8 250.7,147.1 250.8,148.1 250.9,149.1 250.9,150.0 251.0,150.6 251.1,151.0 251.2,151.2 251.3,151.4 251.4,151.5 251.4,151.4 251.5,151.3 251.6,151.0 251.7,150.6 251.8,149.9 251.9,149.0 252.0,147.8 252.0,146.5 252.1,144.8 252.2,142.8 252.3,140.5 252.4,138.2 252.5,135.9 252.5,133.4 252.6,130.8 252.7,128.0 252.8,125.2 252.9,122.2 253.0,119.1 253.0,115.8 253.1,112.5 253.2,109.1 253.3,105.6 253.4,102.0 253.5,98.6 253.6,95.6 253.6,92.8 253.7,90.2 253.8,87.7 253.9,85.2 254.0,82.7 254.1,80.0 254.1,77.3 254.2,74.7 254.3,72.7 254.4,71.3 254.5,70.1 254.6,69.2 254.7,68.6 254.7,68.2 254.8,67.9 254.9,67.8 255.0,67.8 255.1,68.0 255.2,68.4 255.2,68.8 255.3,69.5 255.4,70.4 255.5,71.4 255.6,72.7 255.7,74.4 255.8,76.5 255.8,78.7 255.9,81.0 256.0,83.1 256.1,85.1 256.2,87.1 256.3,89.0 256.3,91.0 256.4,93.0 256.5,95.1 256.6,97.3 256.7,99.6 256.8,102.2 256.9,104.9 256.9,107.6 257.0,110.2 257.1,112.7 257.2,115.1 257.3,117.5 257.4,119.9 257.4,122.3 257.5,124.5 257.6,126.7 257.7,128.9 257.8,131.0 257.9,133.0 258.0,135.0 258.0,136.9 258.1,138.7 258.2,140.7 258.3,142.5 258.4,144.3 258.5,145.9 258.5,147.1 258.6,148.2 258.7,149.2 258.8,150.0 258.9,150.7 259.0,151.0 259.0,151.3 259.1,151.4 259.2,151.5 259.3,151.5 259.4,151.3 259.5,151.0 259.6,150.6 259.6,149.9 259.7,148.9 259.8,147.8 259.9,146.5 260.0,144.7 260.1,142.7 260.1,140.4 260.2,138.1 260.3,135.7 260.4,133.2 260.5,130.6 260.6,127.9 260.7,125.0 260.7,122.0 260.8,118.9 260.9,115.6 261.0,112.3 261.1,108.9 261.2,105.3 261.2,101.8 261.3,98.4 261.4,95.4 261.5,92.7 261.6,90.1 261.7,87.6 261.8,85.1 261.8,82.6 261.9,79.8 262.0,77.1 262.1,74.6 262.2,72.6 262.3,71.2 262.3,70.0 262.4,69.1 262.5,68.6 262.6,68.2 262.7,67.9 262.8,67.7 262.9,67.8 262.9,68.1 263.0,68.4 263.1,68.8 263.2,69.5 263.3,70.4 263.4,71.5 263.4,72.8 263.5,74.5 263.6,76.6 263.7,78.8 263.8,81.1 263.9,83.3 264.0,85.2 264.0,87.2 264.1,89.1 264.2,91.1 264.3,93.1 264.4,95.2 264.5,97.4 264.5,99.8 264.6,102.4 264.7,105.0 264.8,107.7 264.9,110.3 265.0,112.8 265.0,115.3 265.1,117.7 265.2,120.1 265.3,122.4 265.4,124.7 265.5,126.8 265.6,129.0 265.6,131.1 265.7,133.1 265.8,135.1 265.9,137.0 266.0,138.9 266.1,140.8 266.1,142.7 266.2,144.4 266.3,146.0 266.4,147.2 266.5,148.3 266.6,149.2 266.7,150.1 266.7,150.7 266.8,151.1 266.9,151.3 267.0,151.5 267.1,151.5 267.2,151.5 267.2,151.3 267.3,151.0 267.4,150.6 267.5,149.8 267.6,148.9 267.7,147.7 267.8,146.4 267.8,144.6 267.9,142.6 268.0,140.3 268.1,137.9 268.2,135.6 268.3,133.1 268.3,130.5 268.4,127.7 268.5,124.8 268.6,121.8 268.7,118.7 268.8,115.4 268.9,112.1 268.9,108.7 269.0,105.1 269.1,101.5 269.2,98.2 269.3,95.3 269.4,92.5 269.4,89.9 269.5,87.4 269.6,84.9 269.7,82.4 269.8,79.7 269.9,76.9 269.9,74.4 270.0,72.5 270.1,71.1 270.2,70.0 270.3,69.1 270.4,68.5 270.5,68.1 270.5,67.9 270.6,67.7 270.7,67.8 270.8,68.1 270.9,68.4 271.0,68.9 271.0,69.5 271.1,70.5 271.2,71.5 271.3,72.8 271.4,74.6 271.5,76.7 271.6,79.0 271.6,81.2 271.7,83.4 271.8,85.4 271.9,87.3 272.0,89.3 272.1,91.2 272.1,93.2 272.2,95.3 272.3,97.5 272.4,99.9 272.5,102.5 272.6,105.2 272.7,107.9 272.7,110.5 272.8,113.0 272.9,115.4 273.0,117.8 273.1,120.2 273.2,122.5 273.2,124.8 273.3,127.0 273.4,129.1 273.5,131.2 273.6,133.3 273.7,135.2 273.8,137.1 273.8,139.0 273.9,140.9 274.0,142.8 274.1,144.5 274.2,146.1 274.3,147.3 274.3,148.3 274.4,149.3 274.5,150.1 274.6,150.8 274.7,151.1 274.8,151.3 274.9,151.5 274.9,151.5 275.0,151.5 275.1,151.3 275.2,151.0 275.3,150.6 275.4,149.8 275.4,148.8 275.5,147.7 275.6,146.3 275.7,144.5 275.8,142.4 275.9,140.1 275.9,137.8 276.0,135.4 276.1,132.9 276.2,130.3 276.3,127.5 276.4,124.7 276.5,121.6 276.5,118.5 276.6,115.2 276.7,111.9 276.8,108.5 276.9,104.9 277.0,101.3 277.0,98.0 277.1,95.1 277.2,92.4 277.3,89.8 277.4,87.3 277.5,84.8 277.6,82.3 277.6,79.5 277.7,76.8 277.8,74.3 277.9,72.4 278.0,71.0 278.1,69.9 278.1,69.0 278.2,68.5 278.3,68.1 278.4,67.8 278.5,67.7 278.6,67.8 278.7,68.1 278.7,68.4 278.8,68.9 278.9,69.6 279.0,70.5 279.1,71.6 279.2,72.9 279.2,74.7 279.3,76.8 279.4,79.1 279.5,81.4 279.6,83.5 279.7,85.5 279.8,87.4 279.8,89.4 279.9,91.3 280.0,93.4 280.1,95.5 280.2,97.7 280.3,100.1 280.3,102.7 280.4,105.4 280.5,108.0 280.6,110.6 280.7,113.1 280.8,115.6 280.9,118.0 280.9,120.4 281.0,122.7 281.1,124.9 281.2,127.1 281.3,129.3 281.4,131.3 281.4,133.4 281.5,135.4 281.6,137.2 281.7,139.1 281.8,141.0 281.9,142.9 281.9,144.6 282.0,146.1 282.1,147.4 282.2,148.4 282.3,149.4 282.4,150.2 282.5,150.8 282.5,151.1 282.6,151.3 282.7,151.5 282.8,151.5 282.9,151.5 283.0,151.3 283.0,151.0 283.1,150.5 283.2,149.8 283.3,148.7 283.4,147.6 283.5,146.2 283.6,144.4 283.6,142.3 283.7,140.0 283.8,137.7 283.9,135.3 284.0,132.8 284.1,130.1 284.1,127.4 284.2,124.5 284.3,121.5 284.4,118.3 284.5,115.1 284.6,111.7 284.7,108.3 284.7,104.7 284.8,101.1 284.9,97.8 285.0,94.9 285.1,92.2 285.2,89.6 285.2,87.1 285.3,84.6 285.4,82.1 285.5,79.3 285.6,76.6 285.7,74.1 285.8,72.3 285.8,70.9 285.9,69.8 286.0,69.0 286.1,68.5 286.2,68.1 286.3,67.8 286.3,67.7 286.4,67.8 286.5,68.1 286.6,68.5 286.7,68.9 286.8,69.6 286.8,70.6 286.9,71.7 287.0,73.0 287.1,74.8 287.2,77.0 287.3,79.2 287.4,81.5 287.4,83.6 287.5,85.6 287.6,87.5 287.7,89.5 287.8,91.5 287.9,93.5 287.9,95.6 288.0,97.8 288.1,100.2 288.2,102.8 288.3,105.5 288.4,108.2 288.5,110.8 288.5,113.3 288.6,115.7 288.7,118.1 288.8,120.5 288.9,122.8 289.0,125.1 289.0,127.2 289.1,129.4 289.2,131.5 289.3,133.5 289.4,135.5 289.5,137.4 289.6,139.2 289.6,141.1 289.7,143.0 289.8,144.7 289.9,146.2 290.0,147.4 290.1,148.5 290.1,149.4 290.2,150.2 290.3,150.8 290.4,151.1 290.5,151.4 290.6,151.5 290.7,151.6 290.7,151.5 290.8,151.3 290.9,151.0 291.0,150.5 291.1,149.7 291.2,148.7 291.2,147.5 291.3,146.1 291.4,144.3 291.5,142.2 291.6,139.9 291.7,137.5 291.8,135.2 291.8,132.6 291.9,130.0 292.0,127.2 292.1,124.3 292.2,121.3 292.3,118.1 292.3,114.9 292.4,111.5 292.5,108.1 292.6,104.5 292.7,100.9 292.8,97.7 292.8,94.7 292.9,92.0 293.0,89.5 293.1,87.0 293.2,84.5 293.3,81.9 293.4,79.2 293.4,76.4 293.5,74.0 293.6,72.2 293.7,70.9 293.8,69.8 293.9,68.9 293.9,68.4 294.0,68.1 294.1,67.8 294.2,67.7 294.3,67.8 294.4,68.1 294.5,68.5 294.5,68.9 294.6,69.7 294.7,70.6 294.8,71.7 294.9,73.1 295.0,75.0 295.0,77.1 295.1,79.4 295.2,81.6 295.3,83.7 295.4,85.7 295.5,87.7 295.6,89.6 295.6,91.6 295.7,93.6 295.8,95.7 295.9,98.0 296.0,100.4 296.1,103.0 296.1,105.7 296.2,108.4 296.3,110.9 296.4,113.4 296.5,115.9 296.6,118.3 296.7,120.6 296.7,123.0 296.8,125.2 296.9,127.4 297.0,129.5 297.1,131.6 297.2,133.6 297.2,135.6 297.3,137.5 297.4,139.4 297.5,141.3 297.6,143.1 297.7,144.8 297.8,146.3 297.8,147.5 297.9,148.5 298.0,149.5 298.1,150.3 298.2,150.9 298.3,151.2 298.3,151.4 298.4,151.5 298.5,151.6 298.6,151.5 298.7,151.3 298.8,151.0 298.8,150.5 298.9,149.7 299.0,148.6 299.1,147.5 299.2,146.0 299.3,144.2 299.4,142.0 299.4,139.7 299.5,137.4 299.6,135.0 299.7,132.5 299.8,129.8 299.9,127.0 299.9,124.1 300.0,121.1 300.1,117.9 300.2,114.7 300.3,111.3 300.4,107.9 300.5,104.3 300.5,100.7 300.6,97.5 300.7,94.6 300.8,91.9 300.9,89.3 301.0,86.8 301.0,84.3 301.1,81.8 301.2,79.0 301.3,76.3 301.4,73.9 301.5,72.1 301.6,70.8 301.6,69.7 301.7,68.9 301.8,68.4 301.9,68.1 302.0,67.8 302.1,67.7 302.1,67.9 302.2,68.1 302.3,68.5 302.4,69.0 302.5,69.8 302.6,70.8 302.7,71.9 302.7,73.4 302.8,75.3 302.9,77.5 303.0,79.8 303.1,82.1 303.2,84.3 303.2,86.3 303.3,88.3 303.4,90.3 303.5,92.3 303.6,94.4 303.7,96.6 303.7,98.8 303.8,101.3 303.9,104.0 304.0,106.7 304.1,109.4 304.2,112.0 304.3,114.4 304.3,116.9 304.4,119.3 304.5,121.7 304.6,124.0 304.7,126.2 304.8,128.3 304.8,130.4 304.9,132.5 305.0,134.5 305.1,136.4 305.2,138.2 305.3,140.0 305.4,141.9 305.4,143.6 305.5,145.3 305.6,146.7 305.7,147.8 305.8,148.8 305.9,149.7 305.9,150.4 306.0,150.9 306.1,151.2 306.2,151.4 306.3,151.4 306.4,151.4 306.5,151.3 306.5,151.0 306.6,150.7 306.7,150.1 306.8,149.3 306.9,148.3 307.0,147.1 307.0,145.7 307.1,144.0 307.2,141.9 307.3,139.8 307.4,137.7 307.5,135.5 307.6,133.2 307.6,130.9 307.7,128.4 307.8,125.9 307.9,123.3 308.0,120.6 308.1,117.9 308.1,115.1 308.2,112.3 308.3,109.3 308.4,106.5 308.5,104.0 308.6,101.8 308.7,99.8 308.7,97.9 308.8,96.1 308.9,94.3 309.0,92.5 309.1,90.5 309.2,88.7 309.2,87.1 309.3,86.0 309.4,85.3 309.5,84.8 309.6,84.5 309.7,84.4 309.7,84.4 309.8,84.5 309.9,84.7 310.0,85.1 310.1,85.5 310.2,86.1 310.3,86.8 310.3,87.6 310.4,88.6 310.5,89.6 310.6,90.9 310.7,92.4 310.8,94.1 310.8,95.8 310.9,97.4 311.0,98.9 311.1,100.4 311.2,101.8 311.3,103.1 311.4,104.5 311.4,105.8 311.5,107.2 311.6,108.6 311.7,110.0 311.8,111.5 311.9,113.0 311.9,114.4 312.0,115.7 312.1,116.9 312.2,118.0 312.3,119.1 312.4,120.1 312.5,121.1 312.5,121.9 312.6,122.7 312.7,123.5 312.8,124.2 312.9,124.8 313.0,125.4 313.0,125.8 313.1,126.3 313.2,126.7 313.3,127.1 313.4,127.4 313.5,127.6 313.6,127.7 313.6,127.7 313.7,127.7 313.8,127.6 313.9,127.4 314.0,127.2 314.1,126.8 314.1,126.5 314.2,126.1 314.3,125.7 314.4,125.3 314.5,124.9 314.6,124.4 314.7,123.9 314.7,123.3 314.8,122.8 314.9,122.3 315.0,121.7 315.1,121.1 315.2,120.6 315.2,120.1 315.3,119.7 315.4,119.3 315.5,118.9 315.6,118.5 315.7,118.2 315.7,117.9 315.8,117.7 315.9,117.5 316.0,117.3 316.1,117.2 316.2,117.1 316.3,117.0 316.3,116.9 316.4,116.9 316.5,116.8 316.6,116.8 316.7,116.8 316.8,116.8 316.8,116.7 316.9,116.7 317.0,116.7 317.1,116.7 317.2,116.7 317.3,116.7 317.4,116.7 317.4,116.7 317.5,116.7 317.6,116.7 317.7,116.7 317.8,116.7 317.9,116.7 317.9,116.7 318.0,116.7 318.1,116.7 318.2,116.7 318.3,116.7 318.4,116.7 318.5,116.7 318.5,116.7 318.6,116.7 318.7,116.7 318.8,116.7 318.9,116.7 319.0,116.7 319.0,116.7 319.1,116.7 319.2,116.7 319.3,116.7 319.4,116.7 319.5,116.7 319.6,116.7 319.6,116.7 319.7,116.7 319.8,116.7 319.9,116.7 320.0,116.7 320.1,116.7 320.1,116.7 320.2,116.7 320.3,116.7 320.4,116.7 320.5,116.7 320.6,116.7 320.6,116.7 320.7,116.7 320.8,116.7 320.9,116.7 321.0,116.7 321.1,116.7 321.2,116.7 321.2,116.7 321.3,116.7 321.4,116.7 321.5,116.7 321.6,116.7 321.7,116.7"/>
<polyline stroke="#0a72b4" stroke-opacity="0.90" points="66.8,79.4 66.9,79.4 67.0,79.4 67.1,79.4 67.1,79.4 67.2,79.4 67.3,79.4 67.4,79.4 67.5,79.4 67.6,79.4 67.7,79.4 67.7,79.4 67.8,79.4 67.9,79.4 68.0,79.4 68.1,79.4 68.2,79.4 68.2,79.4 68.3,79.4 68.4,79.4 68.5,79.4 68.6,79.4 68.7,79.4 68.8,79.4 68.8,79.4 68.9,79.4 69.0,79.4 69.1,79.4 69.2,79.4 69.3,79.4 69.3,79.4 69.4,79.4 69.5,79.4 69.6,79.4 69.7,79.4 69.8,79.4 69.9,79.4 69.9,79.4 70.0,79.4 70.1,79.4 70.2,79.4 70.3,79.4 70.4,79.4 70.4,79.4 70.5,79.4 70.6,79.4 70.7,79.4 70.8,79.4 70.9,79.4 71.0,79.4 71.0,79.4 71.1,79.4 71.2,79.4 71.3,79.4 71.4,79.4 71.5,79.4 71.5,79.4 71.6,79.4 71.7,79.4 71.8,79.4 71.9,79.4 72.0,79.4 72.1,79.4 72.1,79.4 72.2,79.4 72.3,79.4 72.4,79.4 72.5,79.4 72.6,79.4 72.6,79.4 72.7,79.4 72.8,79.4 72.9,79.4 73.0,79.4 73.1,79.4 73.1,79.4 73.2,79.4 73.3,79.4 73.4,79.4 73.5,79.4 73.6,79.4 73.7,79.4 73.7,79.4 73.8,79.4 73.9,79.4 74.0,79.4 74.1,79.4 74.2,79.4 74.2,79.4 74.3,79.4 74.4,79.4 74.5,79.4 74.6,79.4 74.7,79.4 74.8,79.4 74.8,79.4 74.9,79.4 75.0,79.4 75.1,79.4 75.2,79.4 75.3,79.4 75.3,79.4 75.4,79.4 75.5,79.4 75.6,79.4 75.7,79.4 75.8,79.4 75.9,79.4 75.9,79.4 76.0,79.4 76.1,79.4 76.2,79.4 76.3,79.4 76.4,79.4 76.4,79.4 76.5,79.4 76.6,79.4 76.7,79.4 76.8,79.4 76.9,79.4 77.0,79.4 77.0,79.4 77.1,79.4 77.2,79.4 77.3,79.4 77.4,79.4 77.5,79.4 77.5,79.4 77.6,79.4 77.7,79.4 77.8,79.4 77.9,79.4 78.0,79.4 78.1,79.4 78.1,79.4 78.2,79.4 78.3,79.4 78.4,79.4 78.5,79.4 78.6,79.4 78.6,79.4 78.7,79.4 78.8,79.4 78.9,79.4 79.0,79.4 79.1,79.4 79.1,79.4 79.2,79.4 79.3,79.4 79.4,79.4 79.5,79.4 79.6,79.4 79.7,79.4 79.7,79.4 79.8,79.4 79.9,79.4 80.0,79.4 80.1,79.4 80.2,79.4 80.2,79.4 80.3,79.4 80.4,79.4 80.5,79.4 80.6,79.4 80.7,79.4 80.8,79.4 80.8,79.3 80.9,79.0 81.0,78.7 81.1,78.2 81.2,77.6 81.3,76.9 81.3,76.0 81.4,75.0 81.5,74.0 81.6,72.9 81.7,71.9 81.8,70.8 81.9,69.8 81.9,68.8 82.0,67.9 82.1,67.1 82.2,66.5 82.3,65.9 82.4,65.4 82.4,64.8 82.5,64.4 82.6,64.0 82.7,63.7 82.8,63.5 82.9,63.5 83.0,63.6 83.0,63.9 83.1,64.4 83.2,64.8 83.3,65.2 83.4,65.7 83.5,66.3 83.5,66.9 83.6,67.6 83.7,68.4 83.8,69.3 83.9,70.3 84.0,71.6 84.0,73.0 84.1,74.6 84.2,76.2 84.3,77.8 84.4,79.5 84.5,81.2 84.6,83.0 84.6,84.8 84.7,86.6 84.8,88.5 84.9,90.3 85.0,92.2 85.1,94.1 85.1,96.0 85.2,97.9 85.3,99.7 85.4,101.6 85.5,103.6 85.6,105.5 85.7,107.2 85.7,108.8 85.8,110.1 85.9,111.3 86.0,112.4 86.1,113.3 86.2,114.0 86.2,114.4 86.3,114.9 86.4,115.2 86.5,115.4 86.6,115.5 86.7,115.5 86.8,115.4 86.8,114.9 86.9,114.2 87.0,113.3 87.1,112.2 87.2,110.7 87.3,108.7 87.3,106.5 87.4,104.1 87.5,101.7 87.6,99.1 87.7,96.3 87.8,93.4 87.9,90.3 87.9,87.0 88.0,83.5 88.1,79.8 88.2,76.0 88.3,72.1 88.4,68.0 88.4,63.7 88.5,59.6 88.6,55.9 88.7,52.4 88.8,49.2 88.9,46.1 89.0,43.0 89.0,39.9 89.1,36.6 89.2,33.1 89.3,29.9 89.4,27.1 89.5,25.1 89.5,23.5 89.6,22.3 89.7,21.4 89.8,20.8 89.9,20.4 90.0,20.1 90.0,20.2 90.1,20.4 90.2,20.8 90.3,21.3 90.4,22.0 90.5,23.0 90.6,24.3 90.6,25.8 90.7,27.7 90.8,30.2 90.9,33.0 91.0,35.9 91.1,38.6 91.1,41.1 91.2,43.6 91.3,46.1 91.4,48.5 91.5,51.0 91.6,53.6 91.7,56.4 91.7,59.3 91.8,62.5 91.9,65.9 92.0,69.3 92.1,72.7 92.2,75.9 92.2,79.0 92.3,82.1 92.4,85.2 92.5,88.2 92.6,91.1 92.7,93.9 92.8,96.7 92.8,99.4 92.9,102.1 93.0,104.7 93.1,107.1 93.2,109.5 93.3,112.0 93.3,114.4 93.4,116.8 93.5,118.9 93.6,120.6 93.7,122.1 93.8,123.4 93.9,124.5 93.9,125.5 94.0,126.1 94.1,126.4 94.2,126.7 94.3,126.8 94.4,126.8 94.4,126.7 94.5,126.4 94.6,126.0 94.7,125.2 94.8,124.1 94.9,122.7 95.0,121.1 95.0,119.1 95.1,116.6 95.2,113.8 95.3,110.8 95.4,107.8 95.5,104.7 95.5,101.4 95.6,98.0 95.7,94.4 95.8,90.6 95.9,86.7 96.0,82.5 96.0,78.4 96.1,74.1 96.2,69.5 96.3,64.9 96.4,60.5 96.5,56.6 96.6,53.0 96.6,49.6 96.7,46.4 96.8,43.2 96.9,40.0 97.0,36.6 97.1,33.0 97.1,29.7 97.2,26.9 97.3,25.0 97.4,23.4 97.5,22.2 97.6,21.3 97.7,20.8 97.7,20.4 97.8,20.1 97.9,20.2 98.0,20.4 98.1,20.8 98.2,21.3 98.2,22.1 98.3,23.2 98.4,24.5 98.5,26.1 98.6,28.2 98.7,30.8 98.8,33.6 98.8,36.6 98.9,39.4 99.0,42.0 99.1,44.5 99.2,47.0 99.3,49.5 99.3,52.1 99.4,54.8 99.5,57.6 99.6,60.6 99.7,63.8 99.8,67.3 99.9,70.7 99.9,74.1 100.0,77.4 100.1,80.5 100.2,83.7 100.3,86.8 100.4,89.8 100.4,92.8 100.5,95.6 100.6,98.4 100.7,101.2 100.8,103.8 100.9,106.4 100.9,108.9 101.0,111.3 101.1,113.8 101.2,116.3 101.3,118.6 101.4,120.7 101.5,122.5 101.5,123.9 101.6,125.2 101.7,126.3 101.8,127.2 101.9,127.8 102.0,128.1 102.0,128.4 102.1,128.5 102.2,128.4 102.3,128.2 102.4,127.9 102.5,127.5 102.6,126.6 102.6,125.4 102.7,123.9 102.8,122.3 102.9,120.1 103.0,117.5 103.1,114.6 103.1,111.5 103.2,108.5 103.3,105.3 103.4,101.8 103.5,98.3 103.6,94.5 103.7,90.7 103.7,86.6 103.8,82.3 103.9,78.0 104.0,73.6 104.1,68.9 104.2,64.1 104.2,59.6 104.3,55.6 104.4,51.9 104.5,48.4 104.6,45.1 104.7,41.8 104.8,38.5 104.8,34.9 104.9,31.3 105.0,27.8 105.1,25.0 105.2,23.0 105.3,21.4 105.3,20.1 105.4,19.3 105.5,18.7 105.6,18.3 105.7,18.0 105.8,18.0 105.9,18.3 105.9,18.7 106.0,19.2 106.1,20.0 106.2,21.1 106.3,22.4 106.4,24.0 106.4,26.2 106.5,28.8 106.6,31.8 106.7,34.8 106.8,37.6 106.9,40.2 106.9,42.8 107.0,45.4 107.1,47.9 107.2,50.6 107.3,53.3 107.4,56.2 107.5,59.2 107.5,62.6 107.6,66.1 107.7,69.7 107.8,73.2 107.9,76.5 108.0,79.7 108.0,82.9 108.1,86.1 108.2,89.2 108.3,92.3 108.4,95.2 108.5,98.0 108.6,100.8 108.6,103.6 108.7,106.2 108.8,108.8 108.9,111.3 109.0,113.8 109.1,116.3 109.1,118.7 109.2,120.9 109.3,122.7 109.4,124.1 109.5,125.4 109.6,126.6 109.7,127.5 109.7,128.1 109.8,128.4 109.9,128.6 110.0,128.7 110.1,128.7 110.2,128.5 110.2,128.2 110.3,127.7 110.4,126.7 110.5,125.4 110.6,123.9 110.7,122.2 110.8,120.0 110.8,117.2 110.9,114.2 111.0,111.0 111.1,107.9 111.2,104.5 111.3,101.0 111.3,97.3 111.4,93.5 111.5,89.4 111.6,85.2 111.7,80.8 111.8,76.3 111.9,71.8 111.9,66.9 112.0,62.0 112.1,57.4 112.2,53.3 112.3,49.5 112.4,45.9 112.4,42.5 112.5,39.1 112.6,35.7 112.7,32.0 112.8,28.2 112.9,24.7 112.9,21.8 113.0,19.8 113.1,18.2 113.2,16.9 113.3,16.1 113.4,15.5 113.5,15.1 113.5,14.8 113.6,14.9 113.7,15.1 113.8,15.6 113.9,16.1 114.0,17.0 114.0,18.2 114.1,19.6 114.2,21.2 114.3,23.5 114.4,26.3 114.5,29.3 114.6,32.4 114.6,35.4 114.7,38.1 114.8,40.7 114.9,43.4 115.0,46.0 115.1,48.8 115.1,51.6 115.2,54.5 115.3,57.8 115.4,61.2 115.5,64.9 115.6,68.5 115.7,72.1 115.7,75.5 115.8,78.8 115.9,82.1 116.0,85.4 116.1,88.6 116.2,91.7 116.2,94.7 116.3,97.6 116.4,100.5 116.5,103.3 116.6,106.0 116.7,108.6 116.8,111.2 116.8,113.8 116.9,116.3 117.0,118.8 117.1,120.9 117.2,122.7 117.3,124.2 117.3,125.5 117.4,126.7 117.5,127.6 117.6,128.2 117.7,128.5 117.8,128.7 117.8,128.8 117.9,128.8 118.0,128.5 118.1,128.2 118.2,127.7 118.3,126.7 118.4,125.4 118.4,123.8 118.5,122.1 118.6,119.7 118.7,116.9 118.8,113.9 118.9,110.6 118.9,107.4 119.0,104.1 119.1,100.5 119.2,96.7 119.3,92.8 119.4,88.7 119.5,84.4 119.5,80.0 119.6,75.5 119.7,70.8 119.8,65.9 119.9,61.0 120.0,56.3 120.0,52.2 120.1,48.4 120.2,44.8 120.3,41.4 120.4,38.0 120.5,34.5 120.6,30.8 120.6,27.0 120.7,23.4 120.8,20.6 120.9,18.6 121.0,17.0 121.1,15.8 121.1,14.9 121.2,14.4 121.3,14.0 121.4,13.7 121.5,13.8 121.6,14.1 121.7,14.5 121.7,15.1 121.8,16.0 121.9,17.2 122.0,18.6 122.1,20.3 122.2,22.7 122.2,25.5 122.3,28.6 122.4,31.7 122.5,34.7 122.6,37.4 122.7,40.1 122.8,42.7 122.8,45.4 122.9,48.2 123.0,51.0 123.1,54.1 123.2,57.3 123.3,60.8 123.3,64.5 123.4,68.2 123.5,71.8 123.6,75.2 123.7,78.6 123.8,81.9 123.8,85.2 123.9,88.4 124.0,91.5 124.1,94.6 124.2,97.5 124.3,100.4 124.4,103.2 124.4,106.0 124.5,108.6 124.6,111.2 124.7,113.8 124.8,116.4 124.9,118.8 124.9,121.0 125.0,122.8 125.1,124.2 125.2,125.6 125.3,126.7 125.4,127.6 125.5,128.2 125.5,128.5 125.6,128.7 125.7,128.8 125.8,128.7 125.9,128.5 126.0,128.2 126.0,127.6 126.1,126.6 126.2,125.2 126.3,123.7 126.4,121.9 126.5,119.5 126.6,116.6 126.6,113.5 126.7,110.3 126.8,107.0 126.9,103.6 127.0,99.9 127.1,96.1 127.1,92.2 127.2,88.0 127.3,83.7 127.4,79.2 127.5,74.6 127.6,69.9 127.7,64.9 127.7,59.9 127.8,55.2 127.9,51.1 128.0,47.2 128.1,43.6 128.2,40.1 128.2,36.7 128.3,33.2 128.4,29.4 128.5,25.5 128.6,22.0 128.7,19.2 128.8,17.2 128.8,15.6 128.9,14.4 129.0,13.5 129.1,13.0 129.2,12.5 129.3,12.3 129.3,12.4 129.4,12.7 129.5,13.2 129.6,13.7 129.7,14.7 129.8,15.9 129.8,17.4 129.9,19.1 130.0,21.5 130.1,24.4 130.2,27.5 130.3,30.7 130.4,33.6 130.4,36.4 130.5,39.1 130.6,41.8 130.7,44.5 130.8,47.3 130.9,50.2 130.9,53.2 131.0,56.5 131.1,60.1 131.2,63.8 131.3,67.6 131.4,71.2 131.5,74.7 131.5,78.1 131.6,81.5 131.7,84.8 131.8,88.0 131.9,91.2 132.0,94.2 132.0,97.2 132.1,100.2 132.2,103.0 132.3,105.8 132.4,108.4 132.5,111.0 132.6,113.7 132.6,116.3 132.7,118.8 132.8,121.0 132.9,122.8 133.0,124.2 133.1,125.6 133.1,126.8 133.2,127.7 133.3,128.2 133.4,128.5 133.5,128.7 133.6,128.8 133.7,128.7 133.7,128.5 133.8,128.1 133.9,127.5 134.0,126.5 134.1,125.1 134.2,123.5 134.2,121.6 134.3,119.2 134.4,116.2 134.5,113.0 134.6,109.7 134.7,106.4 134.7,102.9 134.8,99.2 134.9,95.3 135.0,91.3 135.1,87.0 135.2,82.6 135.3,78.0 135.3,73.3 135.4,68.5 135.5,63.4 135.6,58.4 135.7,53.6 135.8,49.4 135.8,45.5 135.9,41.9 136.0,38.3 136.1,34.8 136.2,31.2 136.3,27.3 136.4,23.4 136.4,19.9 136.5,17.0 136.6,15.1 136.7,13.4 136.8,12.2 136.9,11.4 136.9,10.8 137.0,10.4 137.1,10.2 137.2,10.3 137.3,10.6 137.4,11.1 137.5,11.7 137.5,12.6 137.6,13.9 137.7,15.4 137.8,17.2 137.9,19.7 138.0,22.6 138.0,25.8 138.1,29.1 138.2,32.1 138.3,34.9 138.4,37.6 138.5,40.4 138.6,43.1 138.6,46.0 138.7,48.9 138.8,52.1 138.9,55.5 139.0,59.1 139.1,62.9 139.1,66.7 139.2,70.4 139.3,73.9 139.4,77.4 139.5,80.8 139.6,84.2 139.7,87.5 139.7,90.7 139.8,93.8 139.9,96.9 140.0,99.8 140.1,102.7 140.2,105.5 140.2,108.2 140.3,110.9 140.4,113.6 140.5,116.3 140.6,118.8 140.7,121.0 140.7,122.8 140.8,124.2 140.9,125.6 141.0,126.8 141.1,127.7 141.2,128.2 141.3,128.5 141.3,128.7 141.4,128.8 141.5,128.7 141.6,128.5 141.7,128.1 141.8,127.5 141.8,126.4 141.9,124.9 142.0,123.3 142.1,121.4 142.2,118.9 142.3,115.9 142.4,112.6 142.4,109.2 142.5,105.9 142.6,102.3 142.7,98.5 142.8,94.6 142.9,90.5 142.9,86.2 143.0,81.6 143.1,77.0 143.2,72.3 143.3,67.4 143.4,62.2 143.5,57.1 143.5,52.3 143.6,48.1 143.7,44.2 143.8,40.5 143.9,36.9 144.0,33.3 144.0,29.7 144.1,25.7 144.2,21.8 144.3,18.2 144.4,15.4 144.5,13.5 144.6,11.9 144.6,10.7 144.7,9.9 144.8,9.3 144.9,8.9 145.0,8.7 145.1,8.9 145.1,9.2 145.2,9.7 145.3,10.4 145.4,11.4 145.5,12.7 145.6,14.2 145.7,16.1 145.7,18.7 145.8,21.7 145.9,25.0 146.0,28.2 146.1,31.2 146.2,34.1 146.2,36.9 146.3,39.6 146.4,42.5 146.5,45.4 146.6,48.4 146.7,51.5 146.7,55.0 146.8,58.7 146.9,62.5 147.0,66.4 147.1,70.1 147.2,73.6 147.3,77.2 147.3,80.6 147.4,84.0 147.5,87.4 147.6,90.6 147.7,93.7 147.8,96.8 147.8,99.8 147.9,102.7 148.0,105.5 148.1,108.3 148.2,110.9 148.3,113.7 148.4,116.3 148.4,118.8 148.5,121.0 148.6,122.8 148.7,124.3 148.8,125.7 148.9,126.9 148.9,127.7 149.0,128.2 149.1,128.5 149.2,128.8 149.3,128.8 149.4,128.7 149.5,128.4 149.5,128.1 149.6,127.4 149.7,126.3 149.8,124.8 149.9,123.2 150.0,121.2 150.0,118.6 150.1,115.6 150.2,112.3 150.3,109.0 150.4,105.6 150.5,102.0 150.6,98.2 150.6,94.2 150.7,90.1 150.8,85.7 150.9,81.2 151.0,76.5 151.1,71.8 151.1,66.9 151.2,61.7 151.3,56.6 151.4,51.8 151.5,47.6 151.6,43.7 151.6,40.0 151.7,36.4 151.8,32.9 151.9,29.2 152.0,25.2 152.1,21.3 152.2,17.8 152.2,15.0 152.3,13.1 152.4,11.5 152.5,10.3 152.6,9.6 152.7,9.0 152.7,8.6 152.8,8.5 152.9,8.6 153.0,9.0 153.1,9.5 153.2,10.2 153.3,11.2 153.3,12.5 153.4,14.1 153.5,16.0 153.6,18.6 153.7,21.7 153.8,24.9 153.8,28.2 153.9,31.2 154.0,34.1 154.1,36.9 154.2,39.6 154.3,42.5 154.4,45.4 154.4,48.4 154.5,51.6 154.6,55.1 154.7,58.8 154.8,62.6 154.9,66.5 154.9,70.2 155.0,73.8 155.1,77.3 155.2,80.7 155.3,84.2 155.4,87.5 155.5,90.7 155.5,93.9 155.6,96.9 155.7,99.9 155.8,102.8 155.9,105.7 156.0,108.4 156.0,111.1 156.1,113.8 156.2,116.5 156.3,119.0 156.4,121.1 156.5,122.9 156.6,124.4 156.6,125.7 156.7,126.9 156.8,127.8 156.9,128.2 157.0,128.5 157.1,128.8 157.1,128.8 157.2,128.7 157.3,128.4 157.4,128.1 157.5,127.3 157.6,126.2 157.6,124.7 157.7,123.1 157.8,121.1 157.9,118.5 158.0,115.4 158.1,112.1 158.2,108.7 158.2,105.4 158.3,101.7 158.4,97.9 158.5,93.9 158.6,89.8 158.7,85.4 158.7,80.9 158.8,76.2 158.9,71.4 159.0,66.5 159.1,61.3 159.2,56.2 159.3,51.5 159.3,47.3 159.4,43.4 159.5,39.7 159.6,36.1 159.7,32.6 159.8,28.9 159.8,24.9 159.9,21.0 160.0,17.5 160.1,14.8 160.2,12.9 160.3,11.4 160.4,10.2 160.4,9.4 160.5,8.9 160.6,8.5 160.7,8.4 160.8,8.6 160.9,8.9 160.9,9.5 161.0,10.1 161.1,11.2 161.2,12.6 161.3,14.1 161.4,16.1 161.5,18.7 161.5,21.8 161.6,25.1 161.7,28.3 161.8,31.3 161.9,34.2 162.0,37.0 162.0,39.8 162.1,42.6 162.2,45.5 162.3,48.6 162.4,51.8 162.5,55.3 162.6,59.0 162.6,62.9 162.7,66.7 162.8,70.4 162.9,73.9 163.0,77.5 163.1,80.9 163.1,84.4 163.2,87.7 163.3,90.9 163.4,94.0 163.5,97.1 163.6,100.1 163.6,103.0 163.7,105.8 163.8,108.5 163.9,111.2 164.0,114.0 164.1,116.6 164.2,119.1 164.2,121.3 164.3,123.0 164.4,124.5 164.5,125.8 164.6,127.0 164.7,127.8 164.7,128.2 164.8,128.6 164.9,128.8 165.0,128.8 165.1,128.7 165.2,128.4 165.3,128.0 165.3,127.3 165.4,126.1 165.5,124.6 165.6,123.0 165.7,120.9 165.8,118.3 165.8,115.2 165.9,111.9 166.0,108.5 166.1,105.1 166.2,101.5 166.3,97.7 166.4,93.7 166.4,89.5 166.5,85.2 166.6,80.6 166.7,75.9 166.8,71.2 166.9,66.2 166.9,61.0 167.0,55.9 167.1,51.2 167.2,47.1 167.3,43.2 167.4,39.5 167.5,35.9 167.5,32.3 167.6,28.7 167.7,24.7 167.8,20.8 167.9,17.3 168.0,14.7 168.0,12.8 168.1,11.3 168.2,10.1 168.3,9.4 168.4,8.9 168.5,8.5 168.5,8.4 168.6,8.6 168.7,9.0 168.8,9.5 168.9,10.2 169.0,11.3 169.1,12.6 169.1,14.2 169.2,16.2 169.3,18.9 169.4,22.0 169.5,25.3 169.6,28.5 169.6,31.5 169.7,34.3 169.8,37.1 169.9,39.9 170.0,42.8 170.1,45.7 170.2,48.7 170.2,52.0 170.3,55.5 170.4,59.2 170.5,63.1 170.6,66.9 170.7,70.6 170.7,74.2 170.8,77.7 170.9,81.1 171.0,84.6 171.1,87.9 171.2,91.1 171.3,94.2 171.3,97.3 171.4,100.3 171.5,103.2 171.6,106.0 171.7,108.7 171.8,111.4 171.8,114.1 171.9,116.8 172.0,119.2 172.1,121.4 172.2,123.1 172.3,124.5 172.4,125.9 172.4,127.0 172.5,127.8 172.6,128.3 172.7,128.6 172.8,128.8 172.9,128.8 172.9,128.7 173.0,128.4 173.1,128.0 173.2,127.2 173.3,126.0 173.4,124.5 173.5,122.9 173.5,120.8 173.6,118.1 173.7,115.0 173.8,111.7 173.9,108.4 174.0,104.9 174.0,101.3 174.1,97.4 174.2,93.4 174.3,89.3 174.4,84.9 174.5,80.3 174.5,75.6 174.6,70.9 174.7,65.9 174.8,60.7 174.9,55.6 175.0,51.0 175.1,46.8 175.1,42.9 175.2,39.3 175.3,35.7 175.4,32.1 175.5,28.4 175.6,24.4 175.6,20.5 175.7,17.1 175.8,14.6 175.9,12.7 176.0,11.2 176.1,10.1 176.2,9.4 176.2,8.9 176.3,8.5 176.4,8.4 176.5,8.6 176.6,9.0 176.7,9.5 176.7,10.2 176.8,11.3 176.9,12.7 177.0,14.3 177.1,16.4 177.2,19.1 177.3,22.2 177.3,25.5 177.4,28.7 177.5,31.7 177.6,34.5 177.7,37.3 177.8,40.1 177.8,42.9 177.9,45.9 178.0,48.9 178.1,52.2 178.2,55.7 178.3,59.5 178.4,63.3 178.4,67.2 178.5,70.8 178.6,74.4 178.7,77.9 178.8,81.4 178.9,84.8 178.9,88.1 179.0,91.3 179.1,94.4 179.2,97.5 179.3,100.5 179.4,103.4 179.5,106.2 179.5,108.9 179.6,111.6 179.7,114.3 179.8,116.9 179.9,119.4 180.0,121.5 180.0,123.2 180.1,124.6 180.2,126.0 180.3,127.1 180.4,127.9 180.5,128.3 180.5,128.6 180.6,128.8 180.7,128.8 180.8,128.7 180.9,128.4 181.0,128.0 181.1,127.2 181.1,126.0 181.2,124.4 181.3,122.8 181.4,120.6 181.5,117.9 181.6,114.8 181.6,111.5 181.7,108.2 181.8,104.7 181.9,101.1 182.0,97.2 182.1,93.2 182.2,89.0 182.2,84.6 182.3,80.0 182.4,75.3 182.5,70.6 182.6,65.6 182.7,60.4 182.7,55.3 182.8,50.7 182.9,46.6 183.0,42.7 183.1,39.0 183.2,35.5 183.3,31.9 183.3,28.2 183.4,24.2 183.5,20.3 183.6,16.9 183.7,14.4 183.8,12.6 183.8,11.1 183.9,10.0 184.0,9.3 184.1,8.8 184.2,8.5 184.3,8.4 184.4,8.6 184.4,9.0 184.5,9.6 184.6,10.3 184.7,11.4 184.8,12.8 184.9,14.4 184.9,16.5 185.0,19.3 185.1,22.4 185.2,25.7 185.3,28.9 185.4,31.9 185.4,34.7 185.5,37.5 185.6,40.3 185.7,43.1 185.8,46.1 185.9,49.1 186.0,52.4 186.0,55.9 186.1,59.7 186.2,63.6 186.3,67.4 186.4,71.1 186.5,74.6 186.5,78.1 186.6,81.6 186.7,85.0 186.8,88.3 186.9,91.5 187.0,94.6 187.1,97.6 187.1,100.6 187.2,103.5 187.3,106.3 187.4,109.0 187.5,111.7 187.6,114.5 187.6,117.1 187.7,119.5 187.8,121.6 187.9,123.2 188.0,124.7 188.1,126.0 188.2,127.2 188.2,127.9 188.3,128.3 188.4,128.6 188.5,128.8 188.6,128.8 188.7,128.6 188.7,128.3 188.8,127.9 188.9,127.1 189.0,125.9 189.1,124.3 189.2,122.6 189.3,120.5 189.3,117.8 189.4,114.6 189.5,111.3 189.6,108.0 189.7,104.5 189.8,100.8 189.8,97.0 189.9,92.9 190.0,88.8 190.1,84.3 190.2,79.8 190.3,75.1 190.4,70.3 190.4,65.2 190.5,60.0 190.6,55.0 190.7,50.4 190.8,46.3 190.9,42.5 190.9,38.8 191.0,35.3 191.1,31.7 191.2,27.9 191.3,24.0 191.4,20.1 191.4,16.8 191.5,14.3 191.6,12.5 191.7,11.0 191.8,10.0 191.9,9.3 192.0,8.8 192.0,8.5 192.1,8.4 192.2,8.6 192.3,9.1 192.4,9.6 192.5,10.4 192.5,11.5 192.6,12.9 192.7,14.5 192.8,16.7 192.9,19.4 193.0,22.6 193.1,25.9 193.1,29.1 193.2,32.0 193.3,34.9 193.4,37.6 193.5,40.4 193.6,43.3 193.6,46.2 193.7,49.3 193.8,52.6 193.9,56.1 194.0,59.9 194.1,63.8 194.2,67.6 194.2,71.3 194.3,74.8 194.4,78.3 194.5,81.8 194.6,85.2 194.7,88.5 194.7,91.7 194.8,94.8 194.9,97.8 195.0,100.8 195.1,103.7 195.2,106.5 195.3,109.2 195.3,111.9 195.4,114.6 195.5,117.3 195.6,119.7 195.7,121.7 195.8,123.3 195.8,124.8 195.9,126.1 196.0,127.2 196.1,127.9 196.2,128.3 196.3,128.6 196.4,128.8 196.4,128.8 196.5,128.6 196.6,128.3 196.7,127.9 196.8,127.0 196.9,125.8 196.9,124.2 197.0,122.5 197.1,120.3 197.2,117.6 197.3,114.4 197.4,111.1 197.4,107.8 197.5,104.3 197.6,100.6 197.7,96.7 197.8,92.7 197.9,88.5 198.0,84.1 198.0,79.5 198.1,74.8 198.2,70.0 198.3,64.9 198.4,59.7 198.5,54.7 198.5,50.2 198.6,46.1 198.7,42.3 198.8,38.6 198.9,35.0 199.0,31.5 199.1,27.7 199.1,23.7 199.2,19.9 199.3,16.6 199.4,14.2 199.5,12.4 199.6,11.0 199.6,9.9 199.7,9.3 199.8,8.8 199.9,8.5 200.0,8.4 200.1,8.7 200.2,9.1 200.2,9.6 200.3,10.4 200.4,11.6 200.5,13.0 200.6,14.6 200.7,16.8 200.7,19.6 200.8,22.8 200.9,26.1 201.0,29.3 201.1,32.2 201.2,35.0 201.3,37.8 201.3,40.6 201.4,43.5 201.5,46.4 201.6,49.5 201.7,52.8 201.8,56.4 201.8,60.2 201.9,64.0 202.0,67.8 202.1,71.5 202.2,75.0 202.3,78.5 202.3,82.0 202.4,85.4 202.5,88.7 202.6,91.9 202.7,95.0 202.8,98.0 202.9,101.0 202.9,103.9 203.0,106.7 203.1,109.3 203.2,112.1 203.3,114.8 203.4,117.4 203.4,119.8 203.5,121.8 203.6,123.4 203.7,124.9 203.8,126.2 203.9,127.3 204.0,128.0 204.0,128.3 204.1,128.6 204.2,128.8 204.3,128.8 204.4,128.6 204.5,128.3 204.5,127.9 204.6,127.0 204.7,125.7 204.8,124.1 204.9,122.4 205.0,120.2 205.1,117.4 205.1,114.2 205.2,110.9 205.3,107.6 205.4,104.1 205.5,100.4 205.6,96.5 205.6,92.4 205.7,88.2 205.8,83.8 205.9,79.2 206.0,74.5 206.1,69.7 206.2,64.6 206.2,59.4 206.3,54.4 206.4,49.9 206.5,45.9 206.6,42.0 206.7,38.4 206.7,34.8 206.8,31.3 206.9,27.5 207.0,23.5 207.1,19.7 207.2,16.4 207.3,14.1 207.3,12.3 207.4,10.9 207.5,9.9 207.6,9.2 207.7,8.7 207.8,8.4 207.8,8.4 207.9,8.7 208.0,9.1 208.1,9.7 208.2,10.5 208.3,11.7 208.3,13.1 208.4,14.7 208.5,17.0 208.6,19.8 208.7,23.0 208.8,26.3 208.9,29.4 208.9,32.4 209.0,35.2 209.1,38.0 209.2,40.8 209.3,43.6 209.4,46.6 209.4,49.7 209.5,53.0 209.6,56.6 209.7,60.4 209.8,64.2 209.9,68.1 210.0,71.7 210.0,75.2 210.1,78.7 210.2,82.2 210.3,85.6 210.4,88.9 210.5,92.0 210.5,95.1 210.6,98.2 210.7,101.2 210.8,104.0 210.9,106.8 211.0,109.5 211.1,112.2 211.1,114.9 211.2,117.6 211.3,119.9 211.4,121.9 211.5,123.5 211.6,125.0 211.6,126.3 211.7,127.3 211.8,128.0 211.9,128.4 212.0,128.6 212.1,128.8 212.2,128.8 212.2,128.6 212.3,128.3 212.4,127.8 212.5,126.9 212.6,125.6 212.7,124.0 212.7,122.3 212.8,120.0 212.9,117.2 213.0,114.0 213.1,110.7 213.2,107.3 213.3,103.9 213.3,100.1 213.4,96.2 213.5,92.2 213.6,88.0 213.7,83.5 213.8,78.9 213.8,74.2 213.9,69.4 214.0,64.3 214.1,59.1 214.2,54.1 214.3,49.7 214.3,45.6 214.4,41.8 214.5,38.2 214.6,34.6 214.7,31.0 214.8,27.2 214.9,23.2 214.9,19.4 215.0,16.3 215.1,14.0 215.2,12.2 215.3,10.8 215.4,9.8 215.4,9.2 215.5,8.7 215.6,8.4 215.7,8.4 215.8,8.7 215.9,9.2 216.0,9.7 216.0,10.5 216.1,11.7 216.2,13.2 216.3,14.9 216.4,17.1 216.5,20.0 216.5,23.2 216.6,26.5 216.7,29.6 216.8,32.5 216.9,35.4 217.0,38.1 217.1,41.0 217.1,43.8 217.2,46.8 217.3,49.9 217.4,53.2 217.5,56.8 217.6,60.6 217.6,64.5 217.7,68.3 217.8,71.9 217.9,75.4 218.0,78.9 218.1,82.4 218.2,85.8 218.2,89.1 218.3,92.2 218.4,95.3 218.5,98.4 218.6,101.3 218.7,104.2 218.7,107.0 218.8,109.7 218.9,112.4 219.0,115.1 219.1,117.7 219.2,120.1 219.2,122.0 219.3,123.6 219.4,125.0 219.5,126.3 219.6,127.4 219.7,128.0 219.8,128.4 219.8,128.7 219.9,128.8 220.0,128.8 220.1,128.6 220.2,128.3 220.3,127.8 220.3,126.8 220.4,125.5 220.5,123.9 220.6,122.2 220.7,119.9 220.8,117.0 220.9,113.8 220.9,110.5 221.0,107.1 221.1,103.6 221.2,99.9 221.3,96.0 221.4,92.0 221.4,87.7 221.5,83.3 221.6,78.6 221.7,73.9 221.8,69.1 221.9,64.0 222.0,58.8 222.0,53.9 222.1,49.4 222.2,45.4 222.3,41.6 222.4,38.0 222.5,34.4 222.5,30.8 222.6,27.0 222.7,23.0 222.8,19.2 222.9,16.1 223.0,13.9 223.1,12.1 223.1,10.7 223.2,9.8 223.3,9.2 223.4,8.7 223.5,8.4 223.6,8.4 223.6,8.7 223.7,9.2 223.8,9.7 223.9,10.6 224.0,11.8 224.1,13.3 224.2,15.0 224.2,17.3 224.3,20.2 224.4,23.4 224.5,26.7 224.6,29.8 224.7,32.7 224.7,35.5 224.8,38.3 224.9,41.1 225.0,44.0 225.1,47.0 225.2,50.1 225.2,53.4 225.3,57.0 225.4,60.8 225.5,64.7 225.6,68.5 225.7,72.1 225.8,75.6 225.8,79.1 225.9,82.6 226.0,86.0 226.1,89.2 226.2,92.4 226.3,95.5 226.3,98.5 226.4,101.5 226.5,104.4 226.6,107.1 226.7,109.8 226.8,112.6 226.9,115.3 226.9,117.9 227.0,120.2 227.1,122.1 227.2,123.7 227.3,125.1 227.4,126.4 227.4,127.4 227.5,128.1 227.6,128.4 227.7,128.7 227.8,128.8 227.9,128.8 228.0,128.6 228.0,128.2 228.1,127.7 228.2,126.8 228.3,125.4 228.4,123.8 228.5,122.1 228.5,119.7 228.6,116.9 228.7,113.6 228.8,110.3 228.9,106.9 229.0,103.4 229.1,99.7 229.1,95.8 229.2,91.7 229.3,87.5 229.4,83.0 229.5,78.4 229.6,73.6 229.6,68.8 229.7,63.7 229.8,58.5 229.9,53.6 230.0,49.2 230.1,45.2 230.2,41.4 230.2,37.8 230.3,34.2 230.4,30.6 230.5,26.8 230.6,22.8 230.7,19.0 230.7,15.9 230.8,13.8 230.9,12.0 231.0,10.7 231.1,9.7 231.2,9.1 231.2,8.7 231.3,8.4 231.4,8.4 231.5,8.7 231.6,9.2 231.7,9.8 231.8,10.7 231.8,11.9 231.9,13.4 232.0,15.1 232.1,17.4 232.2,20.4 232.3,23.6 232.3,26.9 232.4,30.0 232.5,32.9 232.6,35.7 232.7,38.5 232.8,41.3 232.9,44.2 232.9,47.1 233.0,50.3 233.1,53.6 233.2,57.3 233.3,61.1 233.4,64.9 233.4,68.7 233.5,72.3 233.6,75.9 233.7,79.3 233.8,82.8 233.9,86.2 234.0,89.4 234.0,92.6 234.1,95.7 234.2,98.7 234.3,101.7 234.4,104.5 234.5,107.3 234.5,110.0 234.6,112.7 234.7,115.4 234.8,118.0 234.9,120.3 235.0,122.2 235.1,123.8 235.1,125.2 235.2,126.5 235.3,127.5 235.4,128.1 235.5,128.4 235.6,128.7 235.6,128.8 235.7,128.8 235.8,128.5 235.9,128.2 236.0,127.7 236.1,126.7 236.1,125.3 236.2,123.7 236.3,121.9 236.4,119.6 236.5,116.7 236.6,113.4 236.7,110.1 236.7,106.7 236.8,103.2 236.9,99.5 237.0,95.5 237.1,91.5 237.2,87.2 237.2,82.7 237.3,78.1 237.4,73.4 237.5,68.5 237.6,63.4 237.7,58.2 237.8,53.3 237.8,48.9 237.9,44.9 238.0,41.2 238.1,37.5 238.2,34.0 238.3,30.4 238.3,26.5 238.4,22.5 238.5,18.8 238.6,15.8 238.7,13.7 238.8,12.0 238.9,10.6 238.9,9.7 239.0,9.1 239.1,8.7 239.2,8.4 239.3,8.5 239.4,8.8 239.4,9.2 239.5,9.8 239.6,10.7 239.7,12.0 239.8,13.5 239.9,15.2 240.0,17.6 240.0,20.5 240.1,23.8 240.2,27.0 240.3,30.2 240.4,33.1 240.5,35.9 240.5,38.6 240.6,41.5 240.7,44.3 240.8,47.3 240.9,50.5 241.0,53.8 241.1,57.5 241.1,61.3 241.2,65.2 241.3,69.0 241.4,72.5 241.5,76.1 241.6,79.6 241.6,83.0 241.7,86.4 241.8,89.6 241.9,92.8 242.0,95.9 242.1,98.9 242.1,101.9 242.2,104.7 242.3,107.5 242.4,110.1 242.5,112.9 242.6,115.6 242.7,118.1 242.7,120.4 242.8,122.3 242.9,123.9 243.0,125.3 243.1,126.5 243.2,127.5 243.2,128.1 243.3,128.4 243.4,128.7 243.5,128.8 243.6,128.8 243.7,128.5 243.8,128.2 243.8,127.6 243.9,126.6 244.0,125.3 244.1,123.6 244.2,121.8 244.3,119.4 244.3,116.5 244.4,113.2 244.5,109.9 244.6,106.5 244.7,103.0 244.8,99.2 244.9,95.3 244.9,91.2 245.0,86.9 245.1,82.4 245.2,77.8 245.3,73.1 245.4,68.2 245.4,63.1 245.5,57.9 245.6,53.0 245.7,48.7 245.8,44.7 245.9,40.9 246.0,37.3 246.0,33.8 246.1,30.2 246.2,26.3 246.3,22.3 246.4,18.6 246.5,15.6 246.5,13.5 246.6,11.9 246.7,10.5 246.8,9.6 246.9,9.1 247.0,8.6 247.1,8.4 247.1,8.5 247.2,8.8 247.3,9.3 247.4,9.9 247.5,10.8 247.6,12.1 247.6,13.6 247.7,15.3 247.8,17.8 247.9,20.7 248.0,24.0 248.1,27.2 248.1,30.4 248.2,33.2 248.3,36.0 248.4,38.8 248.5,41.6 248.6,44.5 248.7,47.5 248.7,50.6 248.8,54.0 248.9,57.7 249.0,61.5 249.1,65.4 249.2,69.2 249.2,72.7 249.3,76.3 249.4,79.8 249.5,83.2 249.6,86.6 249.7,89.8 249.8,93.0 249.8,96.1 249.9,99.1 250.0,102.0 250.1,104.9 250.2,107.6 250.3,110.3 250.3,113.0 250.4,115.7 250.5,118.3 250.6,120.6 250.7,122.4 250.8,124.0 250.9,125.4 250.9,126.6 251.0,127.6 251.1,128.1 251.2,128.5 251.3,128.7 251.4,128.8 251.4,128.7 251.5,128.5 251.6,128.2 251.7,127.6 251.8,126.6 251.9,125.2 252.0,123.5 252.0,121.7 252.1,119.2 252.2,116.3 252.3,113.0 252.4,109.7 252.5,106.3 252.5,102.8 252.6,99.0 252.7,95.0 252.8,91.0 252.9,86.7 253.0,82.2 253.0,77.5 253.1,72.8 253.2,67.9 253.3,62.7 253.4,57.6 253.5,52.7 253.6,48.4 253.6,44.5 253.7,40.7 253.8,37.1 253.9,33.6 254.0,29.9 254.1,26.0 254.1,22.1 254.2,18.4 254.3,15.5 254.4,13.4 254.5,11.8 254.6,10.5 254.7,9.6 254.7,9.0 254.8,8.6 254.9,8.4 255.0,8.5 255.1,8.8 255.2,9.3 255.2,9.9 255.3,10.9 255.4,12.1 255.5,13.7 255.6,15.5 255.7,17.9 255.8,20.9 255.8,24.2 255.9,27.4 256.0,30.5 256.1,33.4 256.2,36.2 256.3,39.0 256.3,41.8 256.4,44.7 256.5,47.7 256.6,50.8 256.7,54.3 256.8,57.9 256.9,61.8 256.9,65.6 257.0,69.4 257.1,73.0 257.2,76.5 257.3,80.0 257.4,83.4 257.4,86.8 257.5,90.0 257.6,93.2 257.7,96.2 257.8,99.3 257.9,102.2 258.0,105.1 258.0,107.8 258.1,110.5 258.2,113.2 258.3,115.9 258.4,118.4 258.5,120.7 258.5,122.5 258.6,124.0 258.7,125.5 258.8,126.7 258.9,127.6 259.0,128.1 259.0,128.5 259.1,128.7 259.2,128.8 259.3,128.7 259.4,128.5 259.5,128.1 259.6,127.5 259.6,126.5 259.7,125.1 259.8,123.4 259.9,121.6 260.0,119.1 260.1,116.1 260.1,112.8 260.2,109.5 260.3,106.1 260.4,102.5 260.5,98.8 260.6,94.8 260.7,90.7 260.7,86.4 260.8,81.9 260.9,77.2 261.0,72.5 261.1,67.6 261.2,62.4 261.2,57.3 261.3,52.5 261.4,48.2 261.5,44.2 261.6,40.5 261.7,36.9 261.8,33.3 261.8,29.7 261.9,25.8 262.0,21.8 262.1,18.2 262.2,15.3 262.3,13.3 262.3,11.7 262.4,10.4 262.5,9.6 262.6,9.0 262.7,8.6 262.8,8.4 262.9,8.5 262.9,8.8 263.0,9.3 263.1,10.0 263.2,10.9 263.3,12.2 263.4,13.8 263.4,15.6 263.5,18.1 263.6,21.1 263.7,24.4 263.8,27.6 263.9,30.7 264.0,33.6 264.0,36.4 264.1,39.2 264.2,42.0 264.3,44.9 264.4,47.9 264.5,51.0 264.5,54.5 264.6,58.2 264.7,62.0 264.8,65.9 264.9,69.6 265.0,73.2 265.0,76.7 265.1,80.2 265.2,83.6 265.3,87.0 265.4,90.2 265.5,93.3 265.6,96.4 265.6,99.4 265.7,102.4 265.8,105.2 265.9,107.9 266.0,110.6 266.1,113.4 266.1,116.1 266.2,118.6 266.3,120.8 266.4,122.6 266.5,124.1 266.6,125.5 266.7,126.7 266.7,127.7 266.8,128.2 266.9,128.5 267.0,128.7 267.1,128.8 267.2,128.7 267.2,128.5 267.3,128.1 267.4,127.5 267.5,126.4 267.6,125.0 267.7,123.3 267.8,121.4 267.8,118.9 267.9,115.9 268.0,112.6 268.1,109.3 268.2,105.9 268.3,102.3 268.3,98.5 268.4,94.6 268.5,90.5 268.6,86.1 268.7,81.6 268.8,77.0 268.9,72.2 268.9,67.3 269.0,62.1 269.1,57.0 269.2,52.2 269.3,47.9 269.4,44.0 269.4,40.3 269.5,36.7 269.6,33.1 269.7,29.5 269.8,25.6 269.9,21.6 269.9,18.0 270.0,15.2 270.1,13.2 270.2,11.6 270.3,10.3 270.4,9.5 270.5,9.0 270.5,8.6 270.6,8.4 270.7,8.5 270.8,8.9 270.9,9.4 271.0,10.0 271.0,11.0 271.1,12.3 271.2,13.9 271.3,15.7 271.4,18.3 271.5,21.3 271.6,24.6 271.6,27.8 271.7,30.9 271.8,33.7 271.9,36.5 272.0,39.3 272.1,42.1 272.1,45.0 272.2,48.1 272.3,51.2 272.4,54.7 272.5,58.4 272.6,62.2 272.7,66.1 272.7,69.8 272.8,73.4 272.9,76.9 273.0,80.4 273.1,83.8 273.2,87.2 273.2,90.4 273.3,93.5 273.4,96.6 273.5,99.6 273.6,102.6 273.7,105.4 273.8,108.1 273.8,110.8 273.9,113.5 274.0,116.2 274.1,118.7 274.2,120.9 274.3,122.7 274.3,124.2 274.4,125.6 274.5,126.8 274.6,127.7 274.7,128.2 274.8,128.5 274.9,128.7 274.9,128.8 275.0,128.7 275.1,128.5 275.2,128.1 275.3,127.4 275.4,126.3 275.4,124.9 275.5,123.2 275.6,121.3 275.7,118.7 275.8,115.7 275.9,112.4 275.9,109.1 276.0,105.7 276.1,102.1 276.2,98.3 276.3,94.3 276.4,90.2 276.5,85.9 276.5,81.3 276.6,76.7 276.7,71.9 276.8,67.0 276.9,61.8 277.0,56.7 277.0,51.9 277.1,47.7 277.2,43.8 277.3,40.1 277.4,36.5 277.5,32.9 277.6,29.3 277.6,25.3 277.7,21.4 277.8,17.8 277.9,15.0 278.0,13.1 278.1,11.5 278.1,10.3 278.2,9.5 278.3,9.0 278.4,8.6 278.5,8.4 278.6,8.5 278.7,8.9 278.7,9.4 278.8,10.1 278.9,11.1 279.0,12.4 279.1,14.0 279.2,15.9 279.2,18.4 279.3,21.5 279.4,24.8 279.5,28.0 279.6,31.1 279.7,33.9 279.8,36.7 279.8,39.5 279.9,42.3 280.0,45.2 280.1,48.2 280.2,51.4 280.3,54.9 280.3,58.6 280.4,62.5 280.5,66.3 280.6,70.0 280.7,73.6 280.8,77.1 280.9,80.6 280.9,84.0 281.0,87.4 281.1,90.6 281.2,93.7 281.3,96.8 281.4,99.8 281.4,102.7 281.5,105.6 281.6,108.3 281.7,111.0 281.8,113.7 281.9,116.4 281.9,118.9 282.0,121.1 282.1,122.8 282.2,124.3 282.3,125.7 282.4,126.9 282.5,127.7 282.5,128.2 282.6,128.5 282.7,128.8 282.8,128.8 282.9,128.7 283.0,128.4 283.0,128.1 283.1,127.4 283.2,126.3 283.3,124.8 283.4,123.1 283.5,121.2 283.6,118.6 283.6,115.5 283.7,112.2 283.8,108.9 283.9,105.5 284.0,101.9 284.1,98.1 284.1,94.1 284.2,90.0 284.3,85.6 284.4,81.1 284.5,76.4 284.6,71.6 284.7,66.7 284.7,61.5 284.8,56.4 284.9,51.7 285.0,47.5 285.1,43.5 285.2,39.8 285.2,36.3 285.3,32.7 285.4,29.0 285.5,25.1 285.6,21.1 285.7,17.6 285.8,14.9 285.8,13.0 285.9,11.4 286.0,10.2 286.1,9.5 286.2,8.9 286.3,8.5 286.3,8.4 286.4,8.5 286.5,8.9 286.6,9.4 286.7,10.1 286.8,11.1 286.8,12.5 286.9,14.1 287.0,16.0 287.1,18.6 287.2,21.7 287.3,24.9 287.4,28.2 287.4,31.2 287.5,34.1 287.6,36.9 287.7,39.7 287.8,42.5 287.9,45.4 287.9,48.4 288.0,51.6 288.1,55.1 288.2,58.8 288.3,62.7 288.4,66.5 288.5,70.3 288.5,73.8 288.6,77.3 288.7,80.8 288.8,84.2 288.9,87.6 289.0,90.8 289.0,93.9 289.1,97.0 289.2,100.0 289.3,102.9 289.4,105.7 289.5,108.4 289.6,111.1 289.6,113.9 289.7,116.5 289.8,119.0 289.9,121.2 290.0,122.9 290.1,124.4 290.1,125.8 290.2,126.9 290.3,127.8 290.4,128.2 290.5,128.5 290.6,128.8 290.7,128.8 290.7,128.7 290.8,128.4 290.9,128.0 291.0,127.3 291.1,126.2 291.2,124.7 291.2,123.0 291.3,121.0 291.4,118.4 291.5,115.3 291.6,112.0 291.7,108.7 291.8,105.3 291.8,101.7 291.9,97.8 292.0,93.8 292.1,89.7 292.2,85.3 292.3,80.8 292.3,76.1 292.4,71.4 292.5,66.4 292.6,61.2 292.7,56.1 292.8,51.4 292.8,47.2 292.9,43.3 293.0,39.6 293.1,36.0 293.2,32.5 293.3,28.8 293.4,24.8 293.4,20.9 293.5,17.4 293.6,14.8 293.7,12.9 293.8,11.3 293.9,10.2 293.9,9.4 294.0,8.9 294.1,8.5 294.2,8.4 294.3,8.6 294.4,9.0 294.5,9.5 294.5,10.2 294.6,11.2 294.7,12.6 294.8,14.2 294.9,16.1 295.0,18.8 295.0,21.9 295.1,25.1 295.2,28.4 295.3,31.4 295.4,34.2 295.5,37.0 295.6,39.8 295.6,42.7 295.7,45.6 295.8,48.6 295.9,51.8 296.0,55.3 296.1,59.1 296.1,62.9 296.2,66.8 296.3,70.5 296.4,74.0 296.5,77.5 296.6,81.0 296.7,84.4 296.7,87.8 296.8,91.0 296.9,94.1 297.0,97.2 297.1,100.2 297.2,103.1 297.2,105.9 297.3,108.6 297.4,111.3 297.5,114.0 297.6,116.7 297.7,119.2 297.8,121.3 297.8,123.0 297.9,124.5 298.0,125.8 298.1,127.0 298.2,127.8 298.3,128.3 298.3,128.6 298.4,128.8 298.5,128.8 298.6,128.7 298.7,128.4 298.8,128.0 298.8,127.3 298.9,126.1 299.0,124.6 299.1,122.9 299.2,120.9 299.3,118.2 299.4,115.2 299.4,111.8 299.5,108.5 299.6,105.1 299.7,101.4 299.8,97.6 299.9,93.6 299.9,89.4 300.0,85.1 300.1,80.5 300.2,75.8 300.3,71.1 300.4,66.1 300.5,60.9 300.5,55.8 300.6,51.1 300.7,47.0 300.8,43.1 300.9,39.4 301.0,35.8 301.0,32.3 301.1,28.6 301.2,24.6 301.3,20.7 301.4,17.2 301.5,14.6 301.6,12.8 301.6,11.3 301.7,10.1 301.8,9.4 301.9,8.9 302.0,8.5 302.1,8.4 302.1,8.6 302.2,9.0 302.3,9.5 302.4,10.3 302.5,11.4 302.6,12.8 302.7,14.4 302.7,16.5 302.8,19.2 302.9,22.4 303.0,25.7 303.1,29.0 303.2,32.1 303.2,34.9 303.3,37.8 303.4,40.6 303.5,43.5 303.6,46.5 303.7,49.6 303.7,52.9 303.8,56.4 303.9,60.2 304.0,64.1 304.1,67.9 304.2,71.6 304.3,75.1 304.3,78.6 304.4,82.1 304.5,85.5 304.6,88.8 304.7,91.9 304.8,95.0 304.8,98.0 304.9,100.9 305.0,103.8 305.1,106.5 305.2,109.1 305.3,111.7 305.4,114.3 305.4,116.9 305.5,119.2 305.6,121.2 305.7,122.8 305.8,124.2 305.9,125.4 305.9,126.5 306.0,127.2 306.1,127.5 306.2,127.7 306.3,127.8 306.4,127.8 306.5,127.5 306.5,127.1 306.6,126.6 306.7,125.8 306.8,124.5 306.9,123.0 307.0,121.3 307.0,119.3 307.1,116.7 307.2,113.8 307.3,110.6 307.4,107.5 307.5,104.4 307.6,101.0 307.6,97.6 307.7,94.0 307.8,90.3 307.9,86.5 308.0,82.6 308.1,78.6 308.1,74.5 308.2,70.4 308.3,66.1 308.4,62.0 308.5,58.3 308.6,55.1 308.7,52.1 308.7,49.3 308.8,46.7 308.9,44.1 309.0,41.4 309.1,38.5 309.2,35.8 309.2,33.5 309.3,31.9 309.4,30.9 309.5,30.1 309.6,29.5 309.7,29.4 309.7,29.3 309.8,29.4 309.9,29.7 310.0,30.2 310.1,30.9 310.2,31.7 310.3,32.6 310.3,33.8 310.4,35.2 310.5,36.7 310.6,38.5 310.7,40.7 310.8,43.1 310.8,45.5 310.9,47.9 311.0,50.1 311.1,52.2 311.2,54.2 311.3,56.1 311.4,58.1 311.4,60.0 311.5,62.0 311.6,64.0 311.7,66.0 311.8,68.2 311.9,70.3 311.9,72.3 312.0,74.2 312.1,75.9 312.2,77.5 312.3,79.1 312.4,80.6 312.5,81.9 312.5,83.2 312.6,84.3 312.7,85.4 312.8,86.4 312.9,87.2 313.0,88.0 313.0,88.7 313.1,89.4 313.2,90.0 313.3,90.5 313.4,91.0 313.5,91.3 313.6,91.4 313.6,91.4 313.7,91.4 313.8,91.2 313.9,91.0 314.0,90.6 314.1,90.2 314.1,89.8 314.2,89.3 314.3,88.7 314.4,88.1 314.5,87.5 314.6,86.9 314.7,86.2 314.7,85.5 314.8,84.8 314.9,84.1 315.0,83.3 315.1,82.6 315.2,81.9 315.2,81.2 315.3,80.6 315.4,80.1 315.5,79.6 315.6,79.1 315.7,78.7 315.7,78.4 315.8,78.1 315.9,77.8 316.0,77.6 316.1,77.5 316.2,77.3 316.3,77.2 316.3,77.2 316.4,77.1 316.5,77.1 316.6,77.0 316.7,77.0 316.8,77.0 316.8,77.0 316.9,77.0 317.0,77.0 317.1,77.0 317.2,77.0 317.3,77.0 317.4,77.0 317.4,77.0 317.5,77.0 317.6,77.0 317.7,77.0 317.8,77.0 317.9,77.0 317.9,77.0 318.0,77.0 318.1,77.0 318.2,77.0 318.3,77.0 318.4,77.0 318.5,77.0 318.5,77.0 318.6,77.0 318.7,77.0 318.8,77.0 318.9,77.0 319.0,77.0 319.0,77.0 319.1,77.0 319.2,77.0 319.3,77.0 319.4,77.0 319.5,77.0 319.6,77.0 319.6,77.0 319.7,77.0 319.8,77.0 319.9,77.0 320.0,77.0 320.1,77.0 320.1,77.0 320.2,77.0 320.3,77.0 320.4,77.0 320.5,77.0 320.6,77.0 320.6,77.0 320.7,77.0 320.8,77.0 320.9,77.0 321.0,77.0 321.1,77.0 321.2,77.0 321.2,77.0 321.3,77.0 321.4,77.0 321.5,77.0 321.6,77.0 321.7,77.0"/>
</g>
<rect x="55.40" y="0.30" width="277.80" height="167.60" fill="none" stroke="#1c1c1c" stroke-width="1.4"/>
<path d="M58.70 168.40v5.8M143.20 168.40v5.8M227.70 168.40v5.8M312.20 168.40v5.8M54.90 167.90h-5.8M54.90 132.38h-5.8M54.90 96.85h-5.8M54.90 61.33h-5.8M54.90 25.80h-5.8" stroke="#1c1c1c" stroke-width="1.3" fill="none"/>
<g font-family="'Liberation Serif', serif" font-size="14.67" fill="#1a1a1a" stroke="#1a1a1a" stroke-width="0.12">
<text transform="translate(59.30 190.90) scale(1 1.090)" text-anchor="middle" word-spacing="-0.2">700</text>
<text transform="translate(143.80 190.90) scale(1 1.090)" text-anchor="middle" word-spacing="-0.2">750</text>
<text transform="translate(228.30 190.90) scale(1 1.090)" text-anchor="middle" word-spacing="-0.2">800</text>
<text transform="translate(312.80 190.90) scale(1 1.090)" text-anchor="middle" word-spacing="-0.2">850</text>
<text transform="translate(44.30 173.30) scale(1 1.090)" text-anchor="end" word-spacing="-0.2">70</text>
<text transform="translate(44.30 137.78) scale(1 1.090)" text-anchor="end" word-spacing="-0.2">80</text>
<text transform="translate(44.30 102.25) scale(1 1.090)" text-anchor="end" word-spacing="-0.2">90</text>
<text transform="translate(44.30 66.73) scale(1 1.090)" text-anchor="end" word-spacing="-0.2">100</text>
<text transform="translate(44.30 31.20) scale(1 1.090)" text-anchor="end" word-spacing="-0.2">110</text>
<text transform="translate(194.30 209.70) scale(1 1.090)" text-anchor="middle" word-spacing="-0.2"><tspan font-style="italic">t</tspan> in s</text>
<text transform="translate(10.70 84.60) rotate(-90) scale(1.035 1)" text-anchor="middle" word-spacing="0.2"><tspan font-style="italic">C</tspan> in pF</text>
</g>
<rect x="60.10" y="5.60" width="91.00" height="32.80" rx="2.2" ry="2.2" fill="#fff" fill-opacity="0.8" stroke="#ccc" stroke-opacity="0.8" stroke-width="1.07"/>
<path d="M63.00 14.20h22.6" stroke="#f18030" stroke-width="2.70"/>
<path d="M63.00 29.20h22.6" stroke="#0a72b4" stroke-opacity="0.90" stroke-width="2.70"/>
<g font-family="'Liberation Serif', serif" font-size="11.73" fill="#1a1a1a" stroke="#1a1a1a" stroke-width="0.1">
<text x="92.80" y="17.50">Experiment</text>
<text x="92.80" y="32.40">Simulation</text>
</g>
<path d="M434.80 0.30V167.90M502.63 0.30V167.90M570.47 0.30V167.90M638.30 0.30V167.90M406.40 167.90H684.20M406.40 132.38H684.20M406.40 96.85H684.20M406.40 61.33H684.20M406.40 25.80H684.20" stroke="#b9b9b9" stroke-width="1.25" fill="none"/>
<g clip-path="url(#c2)" fill="none" stroke-width="2.70" stroke-linejoin="round" stroke-linecap="butt">
<polyline stroke="#f18030" points="418.0,116.6 418.2,116.6 418.4,116.6 418.5,116.6 418.7,116.6 418.9,116.6 419.0,116.6 419.2,116.6 419.4,116.6 419.5,116.6 419.7,116.6 419.9,116.6 420.0,116.6 420.2,116.6 420.4,116.6 420.6,116.6 420.7,116.6 420.9,116.6 421.1,116.6 421.2,116.6 421.4,116.6 421.6,116.6 421.7,116.6 421.9,116.6 422.1,116.6 422.3,116.6 422.4,116.6 422.6,116.6 422.8,116.6 422.9,116.6 423.1,116.6 423.3,116.6 423.4,116.6 423.6,116.6 423.8,116.7 423.9,116.8 424.1,116.9 424.3,116.9 424.5,117.0 424.6,117.0 424.8,117.1 425.0,117.0 425.1,116.9 425.3,116.8 425.5,116.5 425.6,116.2 425.8,115.9 426.0,115.6 426.2,115.1 426.3,114.6 426.5,114.2 426.7,113.9 426.8,113.6 427.0,113.3 427.2,113.2 427.3,113.1 427.5,113.0 427.7,113.1 427.8,113.4 428.0,113.8 428.2,114.3 428.4,114.8 428.5,115.3 428.7,116.0 428.9,116.8 429.0,117.9 429.2,118.9 429.4,120.0 429.5,121.2 429.7,122.4 429.9,123.5 430.1,124.8 430.2,126.0 430.4,127.3 430.6,128.5 430.7,129.5 430.9,130.3 431.1,131.0 431.2,131.4 431.4,131.8 431.6,132.0 431.7,131.9 431.9,131.5 432.1,130.7 432.3,129.4 432.4,127.9 432.6,126.1 432.8,124.0 432.9,121.6 433.1,118.8 433.3,115.8 433.4,112.6 433.6,109.8 433.8,107.2 434.0,104.6 434.1,101.7 434.3,99.0 434.5,97.3 434.6,96.1 434.8,95.3 435.0,94.8 435.1,94.7 435.3,94.9 435.5,95.5 435.6,96.7 435.8,98.8 436.0,101.0 436.2,103.0 436.3,105.1 436.5,107.3 436.7,109.8 436.8,112.9 437.0,116.2 437.2,119.3 437.3,122.4 437.5,125.4 437.7,128.4 437.9,131.2 438.0,134.0 438.2,136.7 438.4,139.5 438.5,141.7 438.7,143.4 438.9,144.6 439.0,145.3 439.2,145.6 439.4,145.6 439.5,145.3 439.7,144.2 439.9,142.5 440.1,139.7 440.2,136.1 440.4,132.4 440.6,128.1 440.7,123.4 440.9,118.2 441.1,112.6 441.2,106.6 441.4,101.1 441.6,96.4 441.8,92.1 441.9,87.6 442.1,82.9 442.3,79.7 442.4,77.7 442.6,76.8 442.8,76.3 442.9,76.4 443.1,77.0 443.3,78.3 443.4,80.2 443.6,83.3 443.8,87.2 444.0,90.9 444.1,94.2 444.3,97.7 444.5,101.4 444.6,105.6 444.8,110.3 445.0,114.8 445.1,119.1 445.3,123.3 445.5,127.3 445.7,131.0 445.8,134.6 446.0,138.0 446.2,141.3 446.3,144.3 446.5,146.5 446.7,148.1 446.8,149.1 447.0,149.5 447.2,149.6 447.3,149.3 447.5,148.4 447.7,146.6 447.9,144.1 448.0,140.3 448.2,136.2 448.4,131.8 448.5,126.9 448.7,121.5 448.9,115.8 449.0,109.7 449.2,103.5 449.4,98.3 449.6,93.7 449.7,89.3 449.9,84.5 450.1,80.3 450.2,77.9 450.4,76.4 450.6,75.7 450.7,75.6 450.9,76.0 451.1,76.9 451.2,78.5 451.4,81.0 451.6,84.7 451.8,88.6 451.9,92.1 452.1,95.6 452.3,99.2 452.4,103.1 452.6,107.7 452.8,112.4 452.9,116.8 453.1,121.1 453.3,125.2 453.5,129.1 453.6,132.8 453.8,136.3 454.0,139.6 454.1,142.9 454.3,145.5 454.5,147.4 454.6,148.8 454.8,149.5 455.0,149.7 455.1,149.6 455.3,149.1 455.5,147.7 455.7,145.6 455.8,142.4 456.0,138.3 456.2,134.1 456.3,129.3 456.5,124.1 456.7,118.5 456.8,112.6 457.0,106.1 457.2,100.3 457.4,95.4 457.5,90.9 457.7,86.2 457.9,81.4 458.0,78.0 458.2,76.0 458.4,75.0 458.5,74.5 458.7,74.6 458.9,75.2 459.1,76.5 459.2,78.4 459.4,81.6 459.6,85.6 459.7,89.4 459.9,92.9 460.1,96.4 460.2,100.2 460.4,104.5 460.6,109.3 460.7,113.9 460.9,118.3 461.1,122.6 461.3,126.7 461.4,130.5 461.6,134.2 461.8,137.7 461.9,141.1 462.1,144.2 462.3,146.5 462.4,148.2 462.6,149.3 462.8,149.7 463.0,149.8 463.1,149.4 463.3,148.6 463.5,146.7 463.6,144.1 463.8,140.3 464.0,136.0 464.1,131.4 464.3,126.3 464.5,120.7 464.6,114.8 464.8,108.4 465.0,101.9 465.2,96.4 465.3,91.6 465.5,87.0 465.7,82.0 465.8,77.5 466.0,74.9 466.2,73.3 466.3,72.6 466.5,72.3 466.7,72.8 466.9,73.6 467.0,75.3 467.2,77.8 467.4,81.7 467.5,85.9 467.7,89.5 467.9,93.1 468.0,96.9 468.2,101.0 468.4,105.7 468.5,110.7 468.7,115.3 468.9,119.8 469.1,124.1 469.2,128.1 469.4,132.0 469.6,135.6 469.7,139.1 469.9,142.6 470.1,145.4 470.2,147.4 470.4,148.9 470.6,149.5 470.8,149.8 470.9,149.7 471.1,149.2 471.3,147.8 471.4,145.6 471.6,142.3 471.8,138.1 471.9,133.7 472.1,128.8 472.3,123.4 472.4,117.5 472.6,111.4 472.8,104.7 473.0,98.6 473.1,93.5 473.3,88.8 473.5,84.0 473.6,78.9 473.8,75.3 474.0,73.3 474.1,72.2 474.3,71.7 474.5,71.8 474.7,72.4 474.8,73.7 475.0,75.7 475.2,79.0 475.3,83.2 475.5,87.2 475.7,90.8 475.8,94.5 476.0,98.4 476.2,102.9 476.3,107.9 476.5,112.7 476.7,117.3 476.9,121.7 477.0,125.9 477.2,129.9 477.4,133.7 477.5,137.3 477.7,140.8 477.9,144.0 478.0,146.4 478.2,148.2 478.4,149.3 478.6,149.8 478.7,149.9 478.9,149.5 479.1,148.7 479.2,146.8 479.4,144.2 479.6,140.3 479.7,136.0 479.9,131.3 480.1,126.2 480.2,120.5 480.4,114.5 480.6,108.0 480.8,101.4 480.9,95.8 481.1,90.9 481.3,86.3 481.4,81.2 481.6,76.6 481.8,73.9 481.9,72.3 482.1,71.5 482.3,71.3 482.5,71.7 482.6,72.6 482.8,74.3 483.0,76.8 483.1,80.7 483.3,84.9 483.5,88.6 483.6,92.3 483.8,96.0 484.0,100.2 484.1,105.0 484.3,110.0 484.5,114.7 484.7,119.2 484.8,123.6 485.0,127.7 485.2,131.6 485.3,135.4 485.5,138.9 485.7,142.4 485.8,145.3 486.0,147.3 486.2,148.9 486.4,149.6 486.5,149.9 486.7,149.8 486.9,149.3 487.0,147.9 487.2,145.7 487.4,142.4 487.5,138.1 487.7,133.7 487.9,128.7 488.0,123.2 488.2,117.3 488.4,111.0 488.6,104.2 488.7,97.9 488.9,92.7 489.1,87.9 489.2,83.0 489.4,77.9 489.6,74.1 489.7,71.9 489.9,70.8 490.1,70.2 490.3,70.4 490.4,71.0 490.6,72.3 490.8,74.3 490.9,77.5 491.1,81.8 491.3,85.8 491.4,89.5 491.6,93.3 491.8,97.2 491.9,101.8 492.1,106.8 492.3,111.8 492.5,116.4 492.6,121.0 492.8,125.3 493.0,129.4 493.1,133.3 493.3,136.9 493.5,140.5 493.6,143.8 493.8,146.3 494.0,148.1 494.2,149.3 494.3,149.8 494.5,149.9 494.7,149.6 494.8,148.7 495.0,146.9 495.2,144.3 495.3,140.4 495.5,135.9 495.7,131.1 495.8,125.9 496.0,120.1 496.2,113.9 496.4,107.4 496.5,100.6 496.7,94.8 496.9,89.8 497.0,85.0 497.2,79.8 497.4,75.1 497.5,72.3 497.7,70.5 497.9,69.8 498.1,69.5 498.2,69.9 498.4,70.8 498.6,72.5 498.7,75.0 498.9,78.9 499.1,83.3 499.2,87.1 499.4,90.9 499.6,94.7 499.8,98.9 499.9,103.8 500.1,109.0 500.3,113.8 500.4,118.4 500.6,122.9 500.8,127.1 500.9,131.2 501.1,135.0 501.3,138.6 501.4,142.2 501.6,145.2 501.8,147.2 502.0,148.9 502.1,149.6 502.3,149.9 502.5,149.8 502.6,149.4 502.8,148.0 503.0,145.8 503.1,142.5 503.3,138.2 503.5,133.6 503.7,128.6 503.8,123.1 504.0,117.1 504.2,110.7 504.3,103.9 504.5,97.4 504.7,92.1 504.8,87.2 505.0,82.3 505.2,77.1 505.3,73.2 505.5,71.0 505.7,69.8 505.9,69.2 506.0,69.3 506.2,69.9 506.4,71.2 506.5,73.2 506.7,76.5 506.9,80.8 507.0,84.9 507.2,88.7 507.4,92.4 507.6,96.5 507.7,101.0 507.9,106.2 508.1,111.2 508.2,115.9 508.4,120.5 508.6,124.9 508.7,129.0 508.9,133.0 509.1,136.7 509.2,140.3 509.4,143.7 509.6,146.2 509.8,148.1 509.9,149.4 510.1,149.9 510.3,150.0 510.4,149.7 510.6,148.9 510.8,147.0 510.9,144.4 511.1,140.5 511.3,136.0 511.5,131.2 511.6,125.9 511.8,120.1 512.0,113.9 512.1,107.3 512.3,100.3 512.5,94.5 512.6,89.4 512.8,84.6 513.0,79.3 513.1,74.4 513.3,71.5 513.5,69.7 513.7,68.9 513.8,68.6 514.0,69.1 514.2,69.9 514.3,71.6 514.5,74.1 514.7,78.0 514.8,82.4 515.0,86.3 515.2,90.1 515.4,94.0 515.5,98.2 515.7,103.2 515.9,108.4 516.0,113.3 516.2,118.0 516.4,122.5 516.5,126.8 516.7,130.9 516.9,134.7 517.0,138.4 517.2,142.0 517.4,145.1 517.6,147.2 517.7,148.9 517.9,149.7 518.1,150.0 518.2,149.9 518.4,149.5 518.6,148.1 518.7,145.9 518.9,142.7 519.1,138.3 519.3,133.7 519.4,128.7 519.6,123.1 519.8,117.0 519.9,110.6 520.1,103.7 520.3,97.2 520.4,91.8 520.6,86.9 520.8,81.9 520.9,76.6 521.1,72.6 521.3,70.3 521.5,69.1 521.6,68.5 521.8,68.6 522.0,69.2 522.1,70.4 522.3,72.5 522.5,75.7 522.6,80.0 522.8,84.2 523.0,88.0 523.2,91.9 523.3,95.9 523.5,100.5 523.7,105.7 523.8,110.8 524.0,115.5 524.2,120.2 524.3,124.6 524.5,128.8 524.7,132.8 524.8,136.5 525.0,140.2 525.2,143.7 525.4,146.2 525.5,148.1 525.7,149.4 525.9,149.9 526.0,150.1 526.2,149.8 526.4,149.0 526.5,147.2 526.7,144.6 526.9,140.7 527.1,136.2 527.2,131.4 527.4,126.1 527.6,120.3 527.7,114.0 527.9,107.4 528.1,100.5 528.2,94.5 528.4,89.4 528.6,84.5 528.7,79.3 528.9,74.4 529.1,71.4 529.3,69.6 529.4,68.7 529.6,68.4 529.8,68.8 529.9,69.7 530.1,71.3 530.3,73.8 530.4,77.7 530.6,82.1 530.8,86.1 531.0,89.9 531.1,93.8 531.3,98.0 531.5,103.0 531.6,108.2 531.8,113.1 532.0,117.8 532.1,122.4 532.3,126.7 532.5,130.8 532.6,134.7 532.8,138.3 533.0,142.0 533.2,145.1 533.3,147.2 533.5,148.9 533.7,149.8 533.8,150.1 534.0,150.1 534.2,149.6 534.3,148.3 534.5,146.1 534.7,142.9 534.9,138.6 535.0,134.0 535.2,128.9 535.4,123.4 535.5,117.4 535.7,111.0 535.9,104.1 536.0,97.4 536.2,92.0 536.4,87.1 536.5,82.1 536.7,76.8 536.9,72.7 537.1,70.4 537.2,69.1 537.4,68.5 537.6,68.6 537.7,69.2 537.9,70.4 538.1,72.4 538.2,75.5 538.4,79.9 538.6,84.1 538.8,87.9 538.9,91.7 539.1,95.8 539.3,100.3 539.4,105.5 539.6,110.6 539.8,115.4 539.9,120.1 540.1,124.5 540.3,128.7 540.5,132.7 540.6,136.5 540.8,140.2 541.0,143.6 541.1,146.2 541.3,148.2 541.5,149.5 541.6,150.0 541.8,150.2 542.0,149.9 542.1,149.2 542.3,147.4 542.5,144.9 542.7,141.0 542.8,136.5 543.0,131.7 543.2,126.4 543.3,120.6 543.5,114.3 543.7,107.7 543.8,100.8 544.0,94.7 544.2,89.6 544.4,84.8 544.5,79.6 544.7,74.6 544.9,71.5 545.0,69.6 545.2,68.8 545.4,68.4 545.5,68.8 545.7,69.6 545.9,71.3 546.0,73.7 546.2,77.6 546.4,82.0 546.6,86.0 546.7,89.8 546.9,93.7 547.1,97.9 547.2,102.8 547.4,108.0 547.6,112.9 547.7,117.7 547.9,122.3 548.1,126.6 548.3,130.7 548.4,134.6 548.6,138.3 548.8,141.9 548.9,145.1 549.1,147.3 549.3,149.0 549.4,149.9 549.6,150.2 549.8,150.2 549.9,149.7 550.1,148.5 550.3,146.3 550.5,143.2 550.6,138.9 550.8,134.3 551.0,129.2 551.1,123.7 551.3,117.7 551.5,111.3 551.6,104.4 551.8,97.7 552.0,92.2 552.2,87.3 552.3,82.4 552.5,77.0 552.7,72.8 552.8,70.5 553.0,69.2 553.2,68.5 553.3,68.5 553.5,69.1 553.7,70.3 553.8,72.3 554.0,75.4 554.2,79.7 554.4,84.0 554.5,87.8 554.7,91.6 554.9,95.6 555.0,100.2 555.2,105.3 555.4,110.5 555.5,115.3 555.7,120.0 555.9,124.4 556.1,128.6 556.2,132.6 556.4,136.4 556.6,140.1 556.7,143.6 556.9,146.3 557.1,148.2 557.2,149.6 557.4,150.1 557.6,150.3 557.7,150.0 557.9,149.3 558.1,147.6 558.3,145.1 558.4,141.3 558.6,136.7 558.8,132.0 558.9,126.7 559.1,120.9 559.3,114.7 559.4,108.1 559.6,101.1 559.8,95.0 560.0,89.8 560.1,85.0 560.3,79.8 560.5,74.7 560.6,71.6 560.8,69.7 561.0,68.8 561.1,68.4 561.3,68.8 561.5,69.6 561.6,71.2 561.8,73.6 562.0,77.4 562.2,81.8 562.3,85.8 562.5,89.6 562.7,93.5 562.8,97.7 563.0,102.6 563.2,107.9 563.3,112.8 563.5,117.6 563.7,122.2 563.9,126.5 564.0,130.6 564.2,134.5 564.4,138.2 564.5,141.9 564.7,145.1 564.9,147.3 565.0,149.0 565.2,149.9 565.4,150.3 565.5,150.3 565.7,149.9 565.9,148.6 566.1,146.5 566.2,143.4 566.4,139.2 566.6,134.6 566.7,129.5 566.9,124.0 567.1,118.0 567.2,111.6 567.4,104.7 567.6,98.0 567.8,92.5 567.9,87.5 568.1,82.6 568.3,77.2 568.4,72.9 568.6,70.5 568.8,69.2 568.9,68.5 569.1,68.5 569.3,69.1 569.4,70.2 569.6,72.2 569.8,75.3 570.0,79.5 570.1,83.8 570.3,87.7 570.5,91.5 570.6,95.5 570.8,100.0 571.0,105.2 571.1,110.3 571.3,115.1 571.5,119.8 571.7,124.3 571.8,128.5 572.0,132.6 572.2,136.3 572.3,140.0 572.5,143.6 572.7,146.3 572.8,148.2 573.0,149.7 573.2,150.2 573.3,150.4 573.5,150.2 573.7,149.5 573.9,147.7 574.0,145.3 574.2,141.5 574.4,137.0 574.5,132.3 574.7,127.0 574.9,121.2 575.0,115.0 575.2,108.4 575.4,101.4 575.6,95.3 575.7,90.1 575.9,85.2 576.1,80.0 576.2,74.9 576.4,71.7 576.6,69.7 576.7,68.8 576.9,68.4 577.1,68.8 577.2,69.5 577.4,71.1 577.6,73.4 577.8,77.2 577.9,81.7 578.1,85.7 578.3,89.5 578.4,93.4 578.6,97.6 578.8,102.5 578.9,107.7 579.1,112.7 579.3,117.4 579.5,122.0 579.6,126.4 579.8,130.5 580.0,134.5 580.1,138.1 580.3,141.8 580.5,145.1 580.6,147.3 580.8,149.1 581.0,150.0 581.2,150.4 581.3,150.4 581.5,150.0 581.7,148.8 581.8,146.7 582.0,143.7 582.2,139.4 582.3,134.8 582.5,129.8 582.7,124.3 582.8,118.3 583.0,111.9 583.2,105.0 583.4,98.3 583.5,92.7 583.7,87.7 583.9,82.8 584.0,77.5 584.2,73.1 584.4,70.6 584.5,69.2 584.7,68.6 584.9,68.5 585.1,69.1 585.2,70.2 585.4,72.1 585.6,75.1 585.7,79.4 585.9,83.7 586.1,87.5 586.2,91.4 586.4,95.4 586.6,99.9 586.7,105.0 586.9,110.2 587.1,115.0 587.3,119.7 587.4,124.2 587.6,128.4 587.8,132.5 587.9,136.3 588.1,140.0 588.3,143.5 588.4,146.3 588.6,148.3 588.8,149.7 589.0,150.3 589.1,150.5 589.3,150.3 589.5,149.6 589.6,147.9 589.8,145.5 590.0,141.8 590.1,137.3 590.3,132.5 590.5,127.3 590.6,121.5 590.8,115.3 591.0,108.7 591.2,101.7 591.3,95.5 591.5,90.3 591.7,85.4 591.8,80.3 592.0,75.1 592.2,71.8 592.3,69.8 592.5,68.9 592.7,68.4 592.9,68.7 593.0,69.5 593.2,71.0 593.4,73.3 593.5,77.1 593.7,81.5 593.9,85.6 594.0,89.4 594.2,93.3 594.4,97.5 594.5,102.3 594.7,107.5 594.9,112.5 595.1,117.3 595.2,121.9 595.4,126.3 595.6,130.4 595.7,134.4 595.9,138.1 596.1,141.8 596.2,145.0 596.4,147.3 596.6,149.1 596.8,150.1 596.9,150.5 597.1,150.5 597.3,150.1 597.4,149.0 597.6,146.9 597.8,143.9 597.9,139.7 598.1,135.1 598.3,130.1 598.4,124.6 598.6,118.6 598.8,112.2 599.0,105.4 599.1,98.6 599.3,92.9 599.5,87.9 599.6,83.0 599.8,77.7 600.0,73.2 600.1,70.7 600.3,69.2 600.5,68.6 600.7,68.5 600.8,69.1 601.0,70.1 601.2,72.0 601.3,75.0 601.5,79.2 601.7,83.5 601.8,87.4 602.0,91.2 602.2,95.2 602.3,99.7 602.5,104.8 602.7,110.0 602.9,114.9 603.0,119.6 603.2,124.1 603.4,128.3 603.5,132.4 603.7,136.2 603.9,139.9 604.0,143.5 604.2,146.3 604.4,148.3 604.6,149.7 604.7,150.3 604.9,150.6 605.1,150.4 605.2,149.7 605.4,148.1 605.6,145.7 605.7,142.0 605.9,137.5 606.1,132.8 606.2,127.5 606.4,121.8 606.6,115.6 606.8,109.0 606.9,102.0 607.1,95.8 607.3,90.5 607.4,85.6 607.6,80.5 607.8,75.3 607.9,71.9 608.1,69.9 608.3,68.9 608.5,68.4 608.6,68.7 608.8,69.5 609.0,71.0 609.1,73.2 609.3,76.9 609.5,81.4 609.6,85.4 609.8,89.2 610.0,93.1 610.1,97.3 610.3,102.1 610.5,107.4 610.7,112.4 610.8,117.2 611.0,121.8 611.2,126.2 611.3,130.3 611.5,134.3 611.7,138.0 611.8,141.7 612.0,145.0 612.2,147.3 612.4,149.1 612.5,150.1 612.7,150.5 612.9,150.6 613.0,150.2 613.2,149.1 613.4,147.0 613.5,144.1 613.7,139.9 613.9,135.3 614.0,130.3 614.2,124.9 614.4,118.9 614.6,112.5 614.7,105.7 614.9,98.8 615.1,93.2 615.2,88.1 615.4,83.3 615.6,77.9 615.7,73.3 615.9,70.8 616.1,69.3 616.3,68.6 616.4,68.5 616.6,69.0 616.8,70.1 616.9,72.0 617.1,74.8 617.3,79.0 617.4,83.4 617.6,87.3 617.8,91.1 617.9,95.1 618.1,99.5 618.3,104.6 618.5,109.8 618.6,114.7 618.8,119.4 619.0,123.9 619.1,128.2 619.3,132.3 619.5,136.1 619.6,139.8 619.8,143.4 620.0,146.2 620.2,148.2 620.3,149.8 620.5,150.4 620.7,150.6 620.8,150.4 621.0,149.8 621.2,148.2 621.3,145.9 621.5,142.2 621.7,137.7 621.9,133.0 622.0,127.8 622.2,122.1 622.4,115.9 622.5,109.3 622.7,102.3 622.9,96.0 623.0,90.7 623.2,85.8 623.4,80.7 623.5,75.5 623.7,72.0 623.9,69.9 624.1,68.9 624.2,68.4 624.4,68.7 624.6,69.4 624.7,70.9 624.9,73.1 625.1,76.7 625.2,81.2 625.4,85.3 625.6,89.1 625.8,93.0 625.9,97.1 626.1,101.9 626.3,107.2 626.4,112.2 626.6,117.0 626.8,121.6 626.9,126.0 627.1,130.2 627.3,134.2 627.4,137.9 627.6,141.6 627.8,144.9 628.0,147.2 628.1,149.1 628.3,150.2 628.5,150.6 628.6,150.6 628.8,150.2 629.0,149.2 629.1,147.2 629.3,144.3 629.5,140.1 629.7,135.6 629.8,130.6 630.0,125.1 630.2,119.2 630.3,112.8 630.5,106.0 630.7,99.1 630.8,93.4 631.0,88.3 631.2,83.5 631.3,78.1 631.5,73.5 631.7,70.9 631.9,69.3 632.0,68.6 632.2,68.5 632.4,69.0 632.5,70.0 632.7,71.9 632.9,74.7 633.0,78.9 633.2,83.2 633.4,87.1 633.6,90.9 633.7,94.9 633.9,99.4 634.1,104.4 634.2,109.7 634.4,114.5 634.6,119.3 634.7,123.8 634.9,128.1 635.1,132.1 635.2,136.0 635.4,139.7 635.6,143.3 635.8,146.2 635.9,148.2 636.1,149.7 636.3,150.4 636.4,150.7 636.6,150.5 636.8,149.9 636.9,148.3 637.1,146.0 637.3,142.4 637.5,137.9 637.6,133.2 637.8,128.0 638.0,122.3 638.1,116.1 638.3,109.6 638.5,102.6 638.6,96.2 638.8,90.9 639.0,86.0 639.1,80.9 639.3,75.7 639.5,72.1 639.7,70.0 639.8,68.9 640.0,68.4 640.2,68.7 640.3,69.4 640.5,70.8 640.7,73.1 640.8,76.7 641.0,81.2 641.2,85.3 641.4,89.2 641.5,93.1 641.7,97.3 641.9,102.1 642.0,107.4 642.2,112.5 642.4,117.3 642.5,121.9 642.7,126.3 642.9,130.4 643.0,134.4 643.2,138.0 643.4,141.7 643.6,145.0 643.7,147.3 643.9,149.1 644.1,150.2 644.2,150.6 644.4,150.6 644.6,150.3 644.7,149.3 644.9,147.3 645.1,144.6 645.3,140.7 645.4,136.4 645.6,131.8 645.8,126.7 645.9,121.3 646.1,115.5 646.3,109.4 646.4,103.3 646.6,98.2 646.8,93.9 646.9,89.7 647.1,85.3 647.3,81.4 647.5,79.4 647.6,78.3 647.8,78.0 648.0,78.1 648.1,78.8 648.3,79.9 648.5,81.8 648.6,84.3 648.8,88.0 649.0,91.8 649.2,95.2 649.3,98.5 649.5,101.8 649.7,105.4 649.8,109.4 650.0,113.4 650.2,117.1 650.3,120.6 650.5,123.9 650.7,126.9 650.8,129.7 651.0,132.2 651.2,134.6 651.4,136.8 651.5,138.5 651.7,139.6 651.9,140.3 652.0,140.5 652.2,140.4 652.4,140.0 652.5,139.3 652.7,138.1 652.9,136.4 653.1,134.1 653.2,131.3 653.4,128.5 653.6,125.6 653.7,122.5 653.9,119.3 654.1,116.0 654.2,112.7 654.4,109.8 654.6,107.6 654.7,105.6 654.9,103.8 655.1,101.9 655.3,100.8 655.4,100.4 655.6,100.4 655.8,100.7 655.9,101.2 656.1,101.9 656.3,102.8 656.4,103.9 656.6,105.4 656.8,107.0 657.0,108.5 657.1,109.9 657.3,111.1 657.5,112.4 657.6,113.6 657.8,114.9 658.0,116.1 658.1,117.1 658.3,117.9 658.5,118.6 658.6,119.2 658.8,119.7 659.0,120.1 659.2,120.4 659.3,120.7 659.5,120.7 659.7,120.7 659.8,120.6 660.0,120.4 660.2,120.1 660.3,119.8 660.5,119.5 660.7,119.1 660.9,118.7 661.0,118.3 661.2,117.9 661.4,117.6 661.5,117.3 661.7,117.1 661.9,116.9 662.0,116.8 662.2,116.7 662.4,116.7 662.6,116.7 662.7,116.7 662.9,116.7 663.1,116.7 663.2,116.7 663.4,116.7 663.6,116.7 663.7,116.7 663.9,116.7 664.1,116.7 664.2,116.7 664.4,116.7 664.6,116.7 664.8,116.7 664.9,116.7 665.1,116.7 665.3,116.7 665.4,116.7 665.6,116.7 665.8,116.7 665.9,116.7 666.1,116.7 666.3,116.7 666.5,116.7 666.6,116.7 666.8,116.7 667.0,116.7 667.1,116.7 667.3,116.7 667.5,116.7 667.6,116.7 667.8,116.7 668.0,116.7 668.1,116.7 668.3,116.7 668.5,116.7 668.7,116.7 668.8,116.7 669.0,116.7 669.2,116.7 669.3,116.7 669.5,116.7 669.7,116.7 669.8,116.7 670.0,116.7 670.2,116.7 670.4,116.7 670.5,116.7 670.7,116.7 670.9,116.7 671.0,116.7 671.2,116.7 671.4,116.7 671.5,116.7 671.7,116.7 671.9,116.7 672.0,116.7 672.2,116.7 672.4,116.7 672.6,116.7 672.7,116.7 672.9,116.7 673.1,116.7"/>
<polyline stroke="#0a72b4" stroke-opacity="0.90" points="418.0,77.3 418.2,77.3 418.4,77.3 418.5,77.3 418.7,77.3 418.9,77.3 419.0,77.3 419.2,77.3 419.4,77.3 419.5,77.3 419.7,77.3 419.9,77.3 420.0,77.3 420.2,77.3 420.4,77.3 420.6,77.3 420.7,77.3 420.9,77.3 421.1,77.3 421.2,77.3 421.4,77.3 421.6,77.3 421.7,77.3 421.9,77.3 422.1,77.3 422.3,77.3 422.4,77.3 422.6,77.3 422.8,77.3 422.9,77.3 423.1,77.3 423.3,77.3 423.4,77.3 423.6,77.4 423.8,77.5 423.9,77.5 424.1,77.7 424.3,77.7 424.5,77.8 424.6,77.9 424.8,77.9 425.0,77.8 425.1,77.6 425.3,77.4 425.5,77.1 425.6,76.7 425.8,76.2 426.0,75.8 426.2,75.2 426.3,74.5 426.5,73.9 426.7,73.5 426.8,73.1 427.0,72.7 427.2,72.5 427.3,72.3 427.5,72.3 427.7,72.3 427.8,72.7 428.0,73.2 428.2,73.8 428.4,74.4 428.5,75.1 428.7,75.9 428.9,77.0 429.0,78.3 429.2,79.7 429.4,81.1 429.5,82.6 429.7,84.2 429.9,85.7 430.1,87.3 430.2,88.9 430.4,90.6 430.6,92.2 430.7,93.5 430.9,94.7 431.1,95.6 431.2,96.2 431.4,96.7 431.6,96.9 431.7,96.9 431.9,96.4 432.1,95.4 432.3,93.7 432.4,91.6 432.6,89.2 432.8,86.4 432.9,83.2 433.1,79.5 433.3,75.4 433.4,71.1 433.6,67.3 433.8,63.7 434.0,60.2 434.1,56.2 434.3,52.5 434.5,50.2 434.6,48.5 434.8,47.4 435.0,46.7 435.1,46.6 435.3,46.7 435.5,47.6 435.6,49.3 435.8,52.1 436.0,55.2 436.2,58.0 436.3,60.8 436.5,63.9 436.7,67.5 436.8,71.8 437.0,76.3 437.2,80.7 437.3,85.0 437.5,89.3 437.7,93.4 437.9,97.5 438.0,101.4 438.2,105.3 438.4,109.1 438.5,112.3 438.7,114.6 438.9,116.5 439.0,117.4 439.2,117.9 439.4,118.0 439.5,117.6 439.7,116.0 439.9,113.6 440.1,109.8 440.2,104.8 440.4,99.5 440.6,93.5 440.7,86.9 440.9,79.6 441.1,71.8 441.2,63.3 441.4,55.6 441.6,49.0 441.8,42.9 441.9,36.5 442.1,29.9 442.3,25.3 442.4,22.6 442.6,21.2 442.8,20.5 442.9,20.7 443.1,21.5 443.3,23.2 443.4,25.9 443.6,30.3 443.8,35.9 444.0,41.0 444.1,45.8 444.3,50.7 444.5,55.9 444.6,61.9 444.8,68.6 445.0,75.0 445.1,81.1 445.3,87.1 445.5,92.8 445.7,98.1 445.8,103.3 446.0,108.1 446.2,112.9 446.3,117.2 446.5,120.4 446.7,122.8 446.8,124.3 447.0,124.9 447.2,125.1 447.3,124.7 447.5,123.4 447.7,120.9 447.9,117.4 448.0,112.1 448.2,106.2 448.4,99.9 448.5,92.9 448.7,85.2 448.9,77.0 449.0,68.2 449.2,59.2 449.4,51.8 449.6,45.2 449.7,38.8 449.9,31.9 450.1,25.8 450.2,22.3 450.4,20.1 450.6,19.2 450.7,18.9 450.9,19.6 451.1,20.8 451.2,23.2 451.4,26.7 451.6,32.2 451.8,37.9 451.9,43.0 452.1,48.0 452.3,53.2 452.4,59.0 452.6,65.7 452.8,72.5 452.9,78.9 453.1,85.2 453.3,91.2 453.5,96.8 453.6,102.2 453.8,107.3 454.0,112.2 454.1,117.0 454.3,120.9 454.5,123.6 454.6,125.7 454.8,126.7 455.0,127.1 455.1,126.9 455.3,126.2 455.5,124.1 455.7,121.1 455.8,116.5 456.0,110.6 456.2,104.4 456.3,97.5 456.5,90.0 456.7,81.8 456.8,73.2 457.0,63.8 457.2,55.3 457.4,48.2 457.5,41.6 457.7,34.9 457.9,27.8 458.0,22.9 458.2,20.0 458.4,18.6 458.5,17.8 458.7,18.1 458.9,19.0 459.1,20.8 459.2,23.6 459.4,28.3 459.6,34.2 459.7,39.7 459.9,44.8 460.1,50.0 460.2,55.5 460.4,61.8 460.6,68.9 460.7,75.6 460.9,82.1 461.1,88.3 461.3,94.3 461.4,99.9 461.6,105.3 461.8,110.3 461.9,115.3 462.1,119.9 462.3,123.2 462.4,125.8 462.6,127.3 462.8,127.9 463.0,128.1 463.1,127.6 463.3,126.3 463.5,123.7 463.6,119.9 463.8,114.4 464.0,108.2 464.1,101.4 464.3,94.1 464.5,86.0 464.6,77.3 464.8,68.1 465.0,58.6 465.2,50.6 465.3,43.7 465.5,37.0 465.7,29.7 465.8,23.1 466.0,19.3 466.2,17.0 466.3,16.0 466.5,15.7 466.7,16.3 466.9,17.6 467.0,20.0 467.2,23.7 467.4,29.3 467.5,35.3 467.7,40.7 467.9,45.9 468.0,51.3 468.2,57.3 468.4,64.3 468.5,71.5 468.7,78.2 468.9,84.7 469.1,91.0 469.2,96.9 469.4,102.5 469.6,107.8 469.7,112.9 469.9,117.9 470.1,122.0 470.2,124.9 470.4,127.1 470.6,128.1 470.8,128.5 470.9,128.3 471.1,127.6 471.3,125.5 471.4,122.4 471.6,117.6 471.8,111.4 471.9,105.0 472.1,97.8 472.3,90.0 472.4,81.4 472.6,72.4 472.8,62.7 473.0,53.7 473.1,46.2 473.3,39.4 473.5,32.4 473.6,25.0 473.8,19.7 474.0,16.7 474.1,15.1 474.3,14.3 474.5,14.5 474.7,15.4 474.8,17.3 475.0,20.2 475.2,25.0 475.3,31.1 475.5,36.9 475.7,42.2 475.8,47.6 476.0,53.3 476.2,59.8 476.3,67.1 476.5,74.2 476.7,80.8 476.9,87.3 477.0,93.5 477.2,99.4 477.4,104.9 477.5,110.1 477.7,115.3 477.9,120.1 478.0,123.5 478.2,126.2 478.4,127.8 478.6,128.5 478.7,128.6 478.9,128.1 479.1,126.9 479.2,124.1 479.4,120.3 479.6,114.6 479.7,108.2 479.9,101.4 480.1,93.8 480.2,85.5 480.4,76.5 480.6,67.1 480.8,57.3 480.9,49.1 481.1,41.9 481.3,35.0 481.4,27.5 481.6,20.7 481.8,16.7 481.9,14.3 482.1,13.2 482.3,12.9 482.5,13.5 482.6,14.7 482.8,17.2 483.0,20.9 483.1,26.6 483.3,32.8 483.5,38.3 483.6,43.7 483.8,49.2 484.0,55.4 484.1,62.5 484.3,69.8 484.5,76.7 484.7,83.4 484.8,89.9 485.0,96.0 485.2,101.8 485.3,107.2 485.5,112.5 485.7,117.6 485.8,121.9 486.0,124.9 486.2,127.2 486.4,128.2 486.5,128.7 486.7,128.5 486.9,127.8 487.0,125.7 487.2,122.5 487.4,117.7 487.5,111.4 487.7,104.8 487.9,97.4 488.0,89.4 488.2,80.6 488.4,71.4 488.6,61.3 488.7,52.1 488.9,44.3 489.1,37.3 489.2,30.1 489.4,22.5 489.6,17.0 489.7,13.8 489.9,12.1 490.1,11.3 490.3,11.5 490.4,12.4 490.6,14.3 490.8,17.3 490.9,22.1 491.1,28.4 491.3,34.3 491.4,39.8 491.6,45.3 491.8,51.2 491.9,57.9 492.1,65.3 492.3,72.6 492.5,79.5 492.6,86.2 492.8,92.5 493.0,98.5 493.1,104.2 493.3,109.6 493.5,114.9 493.6,119.8 493.8,123.4 494.0,126.1 494.2,127.9 494.3,128.6 494.5,128.7 494.7,128.3 494.8,127.0 495.0,124.3 495.2,120.5 495.3,114.7 495.5,108.2 495.7,101.2 495.8,93.4 496.0,85.0 496.2,75.9 496.4,66.3 496.5,56.3 496.7,47.8 496.9,40.5 497.0,33.5 497.2,25.9 497.4,18.9 497.5,14.7 497.7,12.2 497.9,11.1 498.1,10.7 498.2,11.4 498.4,12.6 498.6,15.1 498.7,18.8 498.9,24.6 499.1,31.0 499.2,36.6 499.4,42.1 499.6,47.8 499.8,54.0 499.9,61.2 500.1,68.7 500.3,75.7 500.4,82.6 500.6,89.2 500.8,95.3 500.9,101.3 501.1,106.8 501.3,112.1 501.4,117.4 501.6,121.8 501.8,124.8 502.0,127.2 502.1,128.3 502.3,128.8 502.5,128.6 502.6,127.9 502.8,125.9 503.0,122.7 503.1,117.9 503.3,111.6 503.5,104.9 503.7,97.5 503.8,89.4 504.0,80.6 504.2,71.3 504.3,61.2 504.5,51.8 504.7,44.0 504.8,36.9 505.0,29.7 505.2,21.9 505.3,16.2 505.5,13.0 505.7,11.3 505.9,10.4 506.0,10.6 506.2,11.5 506.4,13.3 506.5,16.3 506.7,21.1 506.9,27.4 507.0,33.4 507.2,39.0 507.4,44.5 507.6,50.4 507.7,57.1 507.9,64.6 508.1,72.0 508.2,78.9 508.4,85.7 508.6,92.1 508.7,98.1 508.9,103.9 509.1,109.3 509.2,114.7 509.4,119.7 509.6,123.4 509.8,126.1 509.9,128.0 510.1,128.7 510.3,128.9 510.4,128.4 510.6,127.2 510.8,124.5 510.9,120.7 511.1,114.9 511.3,108.3 511.5,101.3 511.6,93.5 511.8,85.1 512.0,75.9 512.1,66.2 512.3,56.1 512.5,47.4 512.6,40.0 512.8,32.9 513.0,25.3 513.1,18.1 513.3,13.8 513.5,11.2 513.7,10.1 513.8,9.6 514.0,10.3 514.2,11.5 514.3,14.0 514.5,17.6 514.7,23.4 514.8,29.9 515.0,35.6 515.2,41.1 515.4,46.8 515.5,53.1 515.7,60.3 515.9,67.9 516.0,75.1 516.2,82.0 516.4,88.6 516.5,94.9 516.7,100.9 516.9,106.5 517.0,111.9 517.2,117.2 517.4,121.7 517.6,124.8 517.7,127.2 517.9,128.4 518.1,128.9 518.2,128.8 518.4,128.1 518.6,126.1 518.7,122.9 518.9,118.2 519.1,111.8 519.3,105.1 519.4,97.6 519.6,89.5 519.8,80.6 519.9,71.2 520.1,61.1 520.3,51.5 520.4,43.6 520.6,36.4 520.8,29.2 520.9,21.4 521.1,15.5 521.3,12.2 521.5,10.4 521.6,9.5 521.8,9.6 522.0,10.5 522.1,12.3 522.3,15.3 522.5,20.0 522.6,26.4 522.8,32.5 523.0,38.1 523.2,43.7 523.3,49.6 523.5,56.3 523.7,63.9 523.8,71.4 524.0,78.3 524.2,85.2 524.3,91.7 524.5,97.8 524.7,103.6 524.8,109.1 525.0,114.5 525.2,119.6 525.4,123.3 525.5,126.1 525.7,128.0 525.9,128.8 526.0,129.0 526.2,128.5 526.4,127.4 526.5,124.7 526.7,121.0 526.9,115.2 527.1,108.6 527.2,101.6 527.4,93.8 527.6,85.3 527.7,76.1 527.9,66.4 528.1,56.2 528.2,47.5 528.4,40.0 528.6,32.9 528.7,25.3 528.9,18.0 529.1,13.6 529.3,11.0 529.4,9.8 529.6,9.3 529.8,9.9 529.9,11.1 530.1,13.6 530.3,17.1 530.4,22.9 530.6,29.4 530.8,35.2 531.0,40.7 531.1,46.4 531.3,52.7 531.5,59.9 531.6,67.5 531.8,74.7 532.0,81.7 532.1,88.3 532.3,94.6 532.5,100.7 532.6,106.3 532.8,111.7 533.0,117.1 533.2,121.6 533.3,124.8 533.5,127.3 533.7,128.5 533.8,129.0 534.0,128.9 534.2,128.2 534.3,126.3 534.5,123.2 534.7,118.5 534.9,112.1 535.0,105.4 535.2,98.0 535.4,89.9 535.5,81.0 535.7,71.6 535.9,61.5 536.0,51.8 536.2,43.8 536.4,36.6 536.5,29.3 536.7,21.5 536.9,15.5 537.1,12.1 537.2,10.2 537.4,9.3 537.6,9.4 537.7,10.3 537.9,12.1 538.1,15.0 538.2,19.7 538.4,26.0 538.6,32.2 538.8,37.8 538.9,43.4 539.1,49.3 539.3,56.0 539.4,63.6 539.6,71.1 539.8,78.1 539.9,84.9 540.1,91.4 540.3,97.6 540.5,103.5 540.6,109.0 540.8,114.4 541.0,119.5 541.1,123.3 541.3,126.1 541.5,128.1 541.6,128.8 541.8,129.1 542.0,128.7 542.1,127.6 542.3,124.9 542.5,121.3 542.7,115.6 542.8,109.0 543.0,101.9 543.2,94.2 543.3,85.7 543.5,76.5 543.7,66.8 543.8,56.6 544.0,47.8 544.2,40.2 544.4,33.1 544.5,25.5 544.7,18.2 544.9,13.7 545.0,10.9 545.2,9.7 545.4,9.2 545.5,9.7 545.7,10.9 545.9,13.3 546.0,16.9 546.2,22.6 546.4,29.1 546.6,34.9 546.7,40.4 546.9,46.2 547.1,52.4 547.2,59.6 547.4,67.2 547.6,74.5 547.7,81.4 547.9,88.1 548.1,94.4 548.3,100.5 548.4,106.2 548.6,111.6 548.8,117.0 548.9,121.6 549.1,124.8 549.3,127.3 549.4,128.6 549.6,129.1 549.8,129.0 549.9,128.4 550.1,126.5 550.3,123.4 550.5,118.8 550.6,112.5 550.8,105.7 551.0,98.3 551.1,90.2 551.3,81.4 551.5,72.0 551.6,61.9 551.8,52.1 552.0,44.0 552.2,36.8 552.3,29.6 552.5,21.7 552.7,15.6 552.8,12.1 553.0,10.2 553.2,9.3 553.3,9.3 553.5,10.2 553.7,11.9 553.8,14.8 554.0,19.4 554.2,25.7 554.4,31.9 554.5,37.5 554.7,43.1 554.9,49.0 555.0,55.7 555.2,63.3 555.4,70.8 555.5,77.8 555.7,84.7 555.9,91.2 556.1,97.4 556.2,103.3 556.4,108.8 556.6,114.2 556.7,119.4 556.9,123.3 557.1,126.1 557.2,128.1 557.4,128.9 557.6,129.2 557.7,128.8 557.9,127.8 558.1,125.2 558.3,121.5 558.4,115.9 558.6,109.3 558.8,102.3 558.9,94.5 559.1,86.1 559.3,76.9 559.4,67.2 559.6,57.0 559.8,48.1 560.0,40.5 560.1,33.4 560.3,25.8 560.5,18.3 560.6,13.7 560.8,10.9 561.0,9.6 561.1,9.1 561.3,9.6 561.5,10.8 561.6,13.2 561.8,16.6 562.0,22.3 562.2,28.8 562.3,34.6 562.5,40.2 562.7,45.9 562.8,52.1 563.0,59.3 563.2,66.9 563.3,74.2 563.5,81.2 563.7,87.9 563.9,94.2 564.0,100.3 564.2,106.0 564.4,111.4 564.5,116.8 564.7,121.5 564.9,124.7 565.0,127.3 565.2,128.6 565.4,129.2 565.5,129.1 565.7,128.5 565.9,126.7 566.1,123.6 566.2,119.1 566.4,112.8 566.6,106.1 566.7,98.7 566.9,90.6 567.1,81.8 567.2,72.4 567.4,62.3 567.6,52.4 567.8,44.3 567.9,37.0 568.1,29.9 568.3,22.0 568.4,15.7 568.6,12.2 568.8,10.2 568.9,9.2 569.1,9.2 569.3,10.1 569.4,11.7 569.6,14.6 569.8,19.1 570.0,25.4 570.1,31.6 570.3,37.3 570.5,42.9 570.6,48.8 570.8,55.4 571.0,63.0 571.1,70.5 571.3,77.6 571.5,84.5 571.7,91.0 571.8,97.2 572.0,103.1 572.2,108.7 572.3,114.1 572.5,119.3 572.7,123.2 572.8,126.1 573.0,128.2 573.2,129.0 573.3,129.3 573.5,128.9 573.7,127.9 573.9,125.4 574.0,121.8 574.2,116.3 574.4,109.6 574.5,102.7 574.7,94.9 574.9,86.5 575.0,77.3 575.2,67.7 575.4,57.4 575.6,48.4 575.7,40.8 575.9,33.6 576.1,26.1 576.2,18.6 576.4,13.8 576.6,11.0 576.7,9.6 576.9,9.0 577.1,9.5 577.2,10.7 577.4,13.0 577.6,16.4 577.8,22.0 577.9,28.5 578.1,34.4 578.3,39.9 578.4,45.6 578.6,51.8 578.8,59.0 578.9,66.6 579.1,73.9 579.3,80.9 579.5,87.7 579.6,94.0 579.8,100.1 580.0,105.9 580.1,111.3 580.3,116.7 580.5,121.4 580.6,124.7 580.8,127.3 581.0,128.7 581.2,129.3 581.3,129.2 581.5,128.6 581.7,126.9 581.8,123.8 582.0,119.4 582.2,113.1 582.3,106.4 582.5,99.0 582.7,91.0 582.8,82.2 583.0,72.8 583.2,62.7 583.4,52.8 583.5,44.6 583.7,37.3 583.9,30.1 584.0,22.2 584.2,15.8 584.4,12.2 584.5,10.2 584.7,9.2 584.9,9.1 585.1,10.0 585.2,11.6 585.4,14.4 585.6,18.8 585.7,25.1 585.9,31.4 586.1,37.0 586.2,42.6 586.4,48.5 586.6,55.1 586.7,62.7 586.9,70.2 587.1,77.3 587.3,84.2 587.4,90.8 587.6,97.0 587.8,103.0 587.9,108.5 588.1,113.9 588.3,119.1 588.4,123.2 588.6,126.1 588.8,128.2 589.0,129.1 589.1,129.4 589.3,129.0 589.5,128.1 589.6,125.6 589.8,122.1 590.0,116.6 590.1,109.9 590.3,103.0 590.5,95.3 590.6,86.9 590.8,77.7 591.0,68.1 591.2,57.8 591.3,48.7 591.5,41.0 591.7,33.9 591.8,26.3 592.0,18.8 592.2,13.9 592.3,11.0 592.5,9.6 592.7,9.0 592.9,9.4 593.0,10.5 593.2,12.8 593.4,16.2 593.5,21.7 593.7,28.2 593.9,34.1 594.0,39.7 594.2,45.4 594.4,51.6 594.5,58.7 594.7,66.4 594.9,73.7 595.1,80.7 595.2,87.4 595.4,93.8 595.6,99.9 595.7,105.7 595.9,111.1 596.1,116.5 596.2,121.3 596.4,124.7 596.6,127.3 596.8,128.8 596.9,129.3 597.1,129.3 597.3,128.7 597.4,127.1 597.6,124.0 597.8,119.7 597.9,113.5 598.1,106.8 598.3,99.4 598.4,91.4 598.6,82.6 598.8,73.2 599.0,63.1 599.1,53.2 599.3,44.9 599.5,37.6 599.6,30.4 599.8,22.5 600.0,16.0 600.1,12.3 600.3,10.2 600.5,9.2 600.7,9.1 600.8,9.9 601.0,11.5 601.2,14.3 601.3,18.5 601.5,24.8 601.7,31.1 601.8,36.8 602.0,42.4 602.2,48.3 602.3,54.8 602.5,62.3 602.7,70.0 602.9,77.1 603.0,84.0 603.2,90.6 603.4,96.8 603.5,102.8 603.7,108.4 603.9,113.8 604.0,119.0 604.2,123.1 604.4,126.0 604.6,128.2 604.7,129.1 604.9,129.5 605.1,129.1 605.2,128.2 605.4,125.8 605.6,122.3 605.7,116.9 605.9,110.3 606.1,103.3 606.2,95.6 606.4,87.3 606.6,78.1 606.8,68.5 606.9,58.2 607.1,49.0 607.3,41.3 607.4,34.2 607.6,26.6 607.8,19.0 607.9,14.0 608.1,11.0 608.3,9.6 608.5,9.0 608.6,9.4 608.8,10.4 609.0,12.7 609.1,16.0 609.3,21.4 609.5,27.9 609.6,33.9 609.8,39.5 610.0,45.2 610.1,51.3 610.3,58.4 610.5,66.1 610.7,73.4 610.8,80.4 611.0,87.2 611.2,93.6 611.3,99.7 611.5,105.5 611.7,110.9 611.8,116.4 612.0,121.2 612.2,124.6 612.4,127.3 612.5,128.8 612.7,129.4 612.9,129.4 613.0,128.8 613.2,127.2 613.4,124.2 613.5,120.0 613.7,113.8 613.9,107.1 614.0,99.7 614.2,91.7 614.4,82.9 614.6,73.6 614.7,63.6 614.9,53.5 615.1,45.2 615.2,37.9 615.4,30.7 615.6,22.8 615.7,16.1 615.9,12.4 616.1,10.2 616.3,9.2 616.4,9.0 616.6,9.8 616.8,11.3 616.9,14.1 617.1,18.3 617.3,24.5 617.4,30.9 617.6,36.6 617.8,42.2 617.9,48.0 618.1,54.6 618.3,62.0 618.5,69.7 618.6,76.8 618.8,83.7 619.0,90.4 619.1,96.6 619.3,102.6 619.5,108.2 619.6,113.6 619.8,118.9 620.0,123.0 620.2,126.0 620.3,128.2 620.5,129.1 620.7,129.5 620.8,129.2 621.0,128.3 621.2,125.9 621.3,122.5 621.5,117.2 621.7,110.6 621.9,103.7 622.0,96.0 622.2,87.6 622.4,78.5 622.5,68.9 622.7,58.6 622.9,49.4 623.0,41.6 623.2,34.4 623.4,27.0 623.5,19.3 623.7,14.2 623.9,11.1 624.1,9.6 624.2,8.9 624.4,9.3 624.6,10.4 624.7,12.5 624.9,15.8 625.1,21.1 625.2,27.6 625.4,33.6 625.6,39.2 625.8,44.9 625.9,51.0 626.1,58.1 626.3,65.8 626.4,73.1 626.6,80.2 626.8,87.0 626.9,93.4 627.1,99.5 627.3,105.3 627.4,110.8 627.6,116.2 627.8,121.1 628.0,124.5 628.1,127.2 628.3,128.8 628.5,129.4 628.6,129.5 628.8,128.9 629.0,127.4 629.1,124.4 629.3,120.2 629.5,114.1 629.7,107.4 629.8,100.1 630.0,92.1 630.2,83.3 630.3,74.0 630.5,64.0 630.7,53.9 630.8,45.5 631.0,38.1 631.2,31.0 631.3,23.1 631.5,16.3 631.7,12.5 631.9,10.2 632.0,9.2 632.2,9.0 632.4,9.8 632.5,11.2 632.7,14.0 632.9,18.1 633.0,24.2 633.2,30.6 633.4,36.3 633.6,41.9 633.7,47.8 633.9,54.3 634.1,61.7 634.2,69.4 634.4,76.5 634.6,83.5 634.7,90.1 634.9,96.4 635.1,102.4 635.2,108.0 635.4,113.4 635.6,118.7 635.8,122.9 635.9,125.9 636.1,128.2 636.3,129.1 636.4,129.5 636.6,129.3 636.8,128.4 636.9,126.1 637.1,122.7 637.3,117.4 637.5,110.9 637.6,104.0 637.8,96.3 638.0,88.0 638.1,78.9 638.3,69.3 638.5,59.0 638.6,49.7 638.8,41.9 639.0,34.7 639.1,27.3 639.3,19.5 639.5,14.3 639.7,11.2 639.8,9.7 640.0,9.0 640.2,9.3 640.3,10.3 640.5,12.5 640.7,15.7 640.8,21.0 641.0,27.6 641.2,33.7 641.4,39.3 641.5,45.1 641.7,51.3 641.9,58.3 642.0,66.0 642.2,73.4 642.4,80.5 642.5,87.3 642.7,93.7 642.9,99.8 643.0,105.6 643.2,111.0 643.4,116.3 643.6,121.1 643.7,124.6 643.9,127.2 644.1,128.8 644.2,129.4 644.4,129.5 644.6,128.9 644.7,127.4 644.9,124.5 645.1,120.5 645.3,114.7 645.4,108.3 645.6,101.4 645.8,93.9 645.9,85.9 646.1,77.3 646.3,68.3 646.4,59.2 646.6,51.7 646.8,45.3 646.9,39.2 647.1,32.6 647.3,27.0 647.5,24.0 647.6,22.3 647.8,21.9 648.0,22.1 648.1,23.1 648.3,24.7 648.5,27.3 648.6,31.0 648.8,36.3 649.0,41.8 649.2,46.6 649.3,51.2 649.5,56.0 649.7,61.1 649.8,66.8 650.0,72.5 650.2,77.7 650.3,82.6 650.5,87.1 650.7,91.3 650.8,95.1 651.0,98.6 651.2,101.8 651.4,104.8 651.5,107.1 651.7,108.5 651.9,109.4 652.0,109.5 652.2,109.3 652.4,108.6 652.5,107.7 652.7,105.9 652.9,103.6 653.1,100.4 653.2,96.6 653.4,92.7 653.6,88.7 653.7,84.5 653.9,80.1 654.1,75.7 654.2,71.2 654.4,67.4 654.6,64.4 654.7,61.8 654.9,59.3 655.1,56.8 655.3,55.3 655.4,54.8 655.6,54.9 655.8,55.2 655.9,55.9 656.1,56.8 656.3,58.1 656.4,59.6 656.6,61.7 656.8,64.0 657.0,66.1 657.1,68.0 657.3,69.7 657.5,71.4 657.6,73.2 657.8,75.1 658.0,76.7 658.1,78.1 658.3,79.3 658.5,80.4 658.6,81.2 658.8,82.0 659.0,82.5 659.2,83.0 659.3,83.3 659.5,83.4 659.7,83.4 659.8,83.2 660.0,82.8 660.2,82.4 660.3,82.0 660.5,81.4 660.7,80.8 660.9,80.2 661.0,79.6 661.2,79.0 661.4,78.5 661.5,78.0 661.7,77.7 661.9,77.4 662.0,77.1 662.2,77.0 662.4,77.0 662.6,76.9 662.7,77.0 662.9,77.0 663.1,77.0 663.2,77.0 663.4,77.0 663.6,77.0 663.7,77.0 663.9,77.0 664.1,77.0 664.2,77.0 664.4,77.0 664.6,77.0 664.8,77.0 664.9,77.0 665.1,77.0 665.3,77.0 665.4,77.0 665.6,77.0 665.8,77.0 665.9,77.0 666.1,77.0 666.3,77.0 666.5,77.0 666.6,77.0 666.8,77.0 667.0,77.0 667.1,77.0 667.3,77.0 667.5,77.0 667.6,77.0 667.8,77.0 668.0,77.0 668.1,77.0 668.3,77.0 668.5,77.0 668.7,77.0 668.8,77.0 669.0,77.0 669.2,77.0 669.3,77.0 669.5,77.0 669.7,77.0 669.8,77.0 670.0,77.0 670.2,77.0 670.4,77.0 670.5,77.0 670.7,77.0 670.9,77.0 671.0,77.0 671.2,77.0 671.4,77.0 671.5,77.0 671.7,77.0 671.9,77.0 672.0,77.0 672.2,77.0 672.4,77.0 672.6,77.0 672.7,77.0 672.9,77.0 673.1,77.0"/>
</g>
<rect x="406.40" y="0.30" width="277.80" height="167.60" fill="none" stroke="#1c1c1c" stroke-width="1.4"/>
<path d="M434.80 168.40v5.8M502.63 168.40v5.8M570.47 168.40v5.8M638.30 168.40v5.8M405.90 167.90h-5.8M405.90 132.38h-5.8M405.90 96.85h-5.8M405.90 61.33h-5.8M405.90 25.80h-5.8" stroke="#1c1c1c" stroke-width="1.3" fill="none"/>
<g font-family="'Liberation Serif', serif" font-size="14.67" fill="#1a1a1a" stroke="#1a1a1a" stroke-width="0.12">
<text transform="translate(435.40 190.90) scale(1 1.090)" text-anchor="middle" word-spacing="-0.2">860</text>
<text transform="translate(503.23 190.90) scale(1 1.090)" text-anchor="middle" word-spacing="-0.2">880</text>
<text transform="translate(571.07 190.90) scale(1 1.090)" text-anchor="middle" word-spacing="-0.2">900</text>
<text transform="translate(638.90 190.90) scale(1 1.090)" text-anchor="middle" word-spacing="-0.2">920</text>
<text transform="translate(395.30 173.30) scale(1 1.090)" text-anchor="end" word-spacing="-0.2">70</text>
<text transform="translate(395.30 137.78) scale(1 1.090)" text-anchor="end" word-spacing="-0.2">80</text>
<text transform="translate(395.30 102.25) scale(1 1.090)" text-anchor="end" word-spacing="-0.2">90</text>
<text transform="translate(395.30 66.73) scale(1 1.090)" text-anchor="end" word-spacing="-0.2">100</text>
<text transform="translate(395.30 31.20) scale(1 1.090)" text-anchor="end" word-spacing="-0.2">110</text>
<text transform="translate(545.30 209.70) scale(1 1.090)" text-anchor="middle" word-spacing="-0.2"><tspan font-style="italic">t</tspan> in s</text>
<text transform="translate(361.70 84.60) rotate(-90) scale(1.035 1)" text-anchor="middle" word-spacing="0.2"><tspan font-style="italic">C</tspan> in pF</text>
</g>
<rect x="411.10" y="5.60" width="91.00" height="32.80" rx="2.2" ry="2.2" fill="#fff" fill-opacity="0.8" stroke="#ccc" stroke-opacity="0.8" stroke-width="1.07"/>
<path d="M414.00 14.20h22.6" stroke="#f18030" stroke-width="2.70"/>
<path d="M414.00 29.20h22.6" stroke="#0a72b4" stroke-opacity="0.90" stroke-width="2.70"/>
<g font-family="'Liberation Serif', serif" font-size="11.73" fill="#1a1a1a" stroke="#1a1a1a" stroke-width="0.1">
<text x="443.80" y="17.50">Experiment</text>
<text x="443.80" y="32.40">Simulation</text>
</g>
<path d="M96.55 231.60V399.60M156.22 231.60V399.60M215.88 231.60V399.60M275.55 231.60V399.60M55.40 399.60H333.20M55.40 363.90H333.20M55.40 328.20H333.20M55.40 292.50H333.20M55.40 256.80H333.20" stroke="#b9b9b9" stroke-width="1.25" fill="none"/>
<g clip-path="url(#c3)" fill="none" stroke-width="2.70" stroke-linejoin="round" stroke-linecap="butt">
<polyline stroke="#f18030" points="66.7,347.5 66.9,347.5 67.0,347.5 67.2,347.5 67.3,347.5 67.5,347.5 67.6,347.5 67.8,347.5 67.9,347.5 68.1,347.5 68.2,347.5 68.4,347.5 68.5,347.5 68.7,347.5 68.8,347.5 69.0,347.5 69.1,347.5 69.3,347.5 69.4,347.5 69.6,347.5 69.7,347.5 69.8,347.5 70.0,347.5 70.1,347.5 70.3,347.5 70.4,347.5 70.6,347.5 70.7,347.5 70.9,347.5 71.0,347.5 71.2,347.5 71.3,347.5 71.5,347.5 71.6,347.5 71.8,347.5 71.9,347.5 72.1,347.5 72.2,347.5 72.4,347.5 72.5,347.5 72.7,347.5 72.8,347.5 73.0,347.5 73.1,347.5 73.3,347.5 73.4,347.5 73.6,347.5 73.7,347.5 73.9,347.5 74.0,347.5 74.2,347.5 74.3,347.5 74.5,347.5 74.6,347.5 74.8,347.5 74.9,347.7 75.1,348.1 75.2,349.0 75.4,350.3 75.5,351.8 75.7,353.6 75.8,355.0 76.0,355.9 76.1,355.9 76.3,354.5 76.4,352.3 76.6,349.4 76.7,346.8 76.9,344.7 77.0,344.0 77.2,344.3 77.3,346.3 77.5,348.5 77.6,351.5 77.8,354.7 77.9,357.8 78.1,360.7 78.2,362.6 78.4,363.2 78.5,362.5 78.6,359.4 78.8,354.8 78.9,348.8 79.1,343.5 79.2,338.5 79.4,336.6 79.5,336.6 79.7,339.0 79.8,343.1 80.0,347.6 80.1,353.3 80.3,358.6 80.4,363.6 80.6,367.6 80.7,369.3 80.9,369.2 81.0,365.7 81.2,359.2 81.3,350.6 81.5,341.4 81.6,333.5 81.8,328.8 81.9,328.1 82.1,330.2 82.2,336.5 82.4,342.8 82.5,351.1 82.7,359.1 82.8,366.3 83.0,372.8 83.1,376.2 83.3,376.7 83.4,373.9 83.6,366.1 83.7,355.3 83.9,342.3 84.0,331.9 84.2,322.9 84.3,320.5 84.5,321.8 84.6,328.3 84.8,336.2 84.9,345.6 85.1,355.9 85.2,365.1 85.4,373.2 85.5,378.8 85.7,380.2 85.8,378.3 86.0,370.7 86.1,359.2 86.3,344.6 86.4,331.1 86.6,319.3 86.7,314.4 86.9,314.4 87.0,319.2 87.2,328.6 87.3,337.8 87.5,349.6 87.6,360.3 87.7,369.6 87.9,377.3 88.0,380.4 88.2,380.1 88.3,374.5 88.5,363.2 88.6,348.7 88.8,332.6 88.9,320.0 89.1,310.8 89.2,309.2 89.4,312.0 89.5,321.3 89.7,330.8 89.8,342.7 90.0,354.6 90.1,365.2 90.3,374.4 90.4,379.8 90.6,380.6 90.7,377.4 90.9,367.4 91.0,353.6 91.2,336.4 91.3,322.2 91.5,309.7 91.6,305.9 91.8,307.0 91.9,314.2 92.1,324.7 92.2,335.8 92.4,348.9 92.5,360.5 92.7,370.6 92.8,378.2 93.0,380.8 93.1,379.5 93.3,371.9 93.4,359.1 93.6,342.8 93.7,326.2 93.9,312.8 94.0,305.2 94.2,304.8 94.3,309.0 94.5,319.8 94.6,330.2 94.8,343.3 94.9,355.7 95.1,366.6 95.2,375.9 95.4,380.4 95.5,380.6 95.7,376.0 95.8,364.5 96.0,349.3 96.1,331.4 96.3,317.7 96.4,306.2 96.5,303.5 96.7,305.8 96.8,314.7 97.0,325.3 97.1,337.4 97.3,350.7 97.4,362.3 97.6,372.4 97.7,379.2 97.9,380.9 98.0,378.6 98.2,369.4 98.3,355.7 98.5,338.3 98.6,322.4 98.8,308.8 98.9,303.3 99.1,303.6 99.2,309.5 99.4,320.7 99.5,331.6 99.7,345.3 99.8,357.7 100.0,368.4 100.1,377.2 100.3,380.7 100.4,380.3 100.6,374.1 100.7,361.5 100.9,345.4 101.0,327.6 101.2,313.9 101.3,304.0 101.5,302.5 101.6,305.8 101.8,316.1 101.9,326.7 102.1,339.7 102.2,352.8 102.4,364.2 102.5,374.2 102.7,380.0 102.8,380.9 103.0,377.4 103.1,366.8 103.3,352.1 103.4,334.0 103.6,319.1 103.7,306.0 103.9,302.1 104.0,303.4 104.2,311.0 104.3,322.2 104.5,333.8 104.6,347.6 104.8,359.8 104.9,370.3 105.1,378.3 105.2,381.0 105.4,379.7 105.5,371.8 105.6,358.4 105.8,341.5 105.9,324.2 106.1,310.3 106.2,302.5 106.4,302.1 106.5,306.5 106.7,317.7 106.8,328.5 107.0,342.2 107.1,355.0 107.3,366.2 107.4,375.9 107.6,380.5 107.7,380.7 107.9,376.0 108.0,364.1 108.2,348.5 108.3,330.1 108.5,315.9 108.6,304.0 108.8,301.3 108.9,303.7 109.1,312.9 109.2,323.8 109.4,336.3 109.5,349.9 109.7,361.9 109.8,372.3 110.0,379.3 110.1,381.0 110.3,378.7 110.4,369.2 110.6,355.1 110.7,337.3 110.9,321.0 111.0,307.1 111.2,301.5 111.3,301.8 111.5,307.9 111.6,319.4 111.8,330.6 111.9,344.6 112.1,357.2 112.2,368.1 112.4,377.2 112.5,380.8 112.7,380.4 112.8,374.0 113.0,361.1 113.1,344.7 113.3,326.5 113.4,312.5 113.6,302.4 113.7,300.9 113.9,304.3 114.0,314.9 114.2,325.6 114.3,338.9 114.4,352.3 114.6,364.0 114.7,374.1 114.9,380.1 115.0,380.9 115.2,377.4 115.3,366.6 115.5,351.6 115.6,333.1 115.8,317.9 115.9,304.6 116.1,300.6 116.2,302.0 116.4,309.8 116.5,321.1 116.7,333.0 116.8,347.0 117.0,359.4 117.1,370.1 117.3,378.2 117.4,381.0 117.6,379.7 117.7,371.6 117.9,358.0 118.0,340.8 118.2,323.3 118.3,309.1 118.5,301.2 118.6,300.7 118.8,305.3 118.9,316.7 119.1,327.6 119.2,341.6 119.4,354.6 119.5,366.0 119.7,375.8 119.8,380.5 120.0,380.7 120.1,375.9 120.3,363.8 120.4,348.0 120.6,329.3 120.7,314.9 120.9,302.9 121.0,300.1 121.2,302.6 121.3,311.9 121.5,323.0 121.6,335.7 121.8,349.5 121.9,361.6 122.1,372.2 122.2,379.3 122.4,381.0 122.5,378.6 122.7,369.0 122.8,354.8 123.0,336.8 123.1,320.3 123.3,306.2 123.4,300.5 123.5,300.9 123.7,307.0 123.8,318.6 124.0,330.0 124.1,344.1 124.3,357.0 124.4,368.0 124.6,377.1 124.7,380.8 124.9,380.4 125.0,373.9 125.2,360.9 125.3,344.3 125.5,326.0 125.6,311.8 125.8,301.6 125.9,300.1 126.1,303.6 126.2,314.3 126.4,325.1 126.5,338.6 126.7,352.0 126.8,363.8 127.0,374.1 127.1,380.1 127.3,380.9 127.4,377.4 127.6,366.5 127.7,351.4 127.9,332.8 128.0,317.5 128.2,304.1 128.3,300.1 128.5,301.5 128.6,309.3 128.8,320.7 128.9,332.7 129.1,346.8 129.2,359.3 129.4,370.1 129.5,378.2 129.7,381.0 129.8,379.7 130.0,371.6 130.1,357.9 130.3,340.7 130.4,323.0 130.6,308.8 130.7,300.9 130.9,300.4 131.0,305.0 131.2,316.5 131.3,327.5 131.5,341.4 131.6,354.5 131.8,366.0 131.9,375.8 132.1,380.5 132.2,380.7 132.3,375.9 132.5,363.8 132.6,347.9 132.8,329.2 132.9,314.8 133.1,302.7 133.2,300.0 133.4,302.4 133.5,311.8 133.7,322.9 133.8,335.6 134.0,349.5 134.1,361.6 134.3,372.1 134.4,379.2 134.6,381.0 134.7,378.6 134.9,369.0 135.0,354.8 135.2,336.7 135.3,320.2 135.5,306.1 135.6,300.5 135.8,300.8 135.9,307.0 136.1,318.6 136.2,330.0 136.4,344.1 136.5,356.9 136.7,368.0 136.8,377.1 137.0,380.8 137.1,380.4 137.3,373.9 137.4,360.9 137.6,344.3 137.7,326.0 137.9,311.8 138.0,301.6 138.2,300.1 138.3,303.6 138.5,314.3 138.6,325.1 138.8,338.6 138.9,352.0 139.1,363.8 139.2,374.1 139.4,380.1 139.5,380.9 139.7,377.4 139.8,366.5 140.0,351.4 140.1,332.8 140.3,317.5 140.4,304.1 140.6,300.1 140.7,301.5 140.9,309.3 141.0,320.7 141.2,332.7 141.3,346.8 141.4,359.3 141.6,370.1 141.7,378.2 141.9,381.0 142.0,379.7 142.2,371.6 142.3,357.9 142.5,340.7 142.6,323.0 142.8,308.8 142.9,300.9 143.1,300.4 143.2,305.0 143.4,316.5 143.5,327.5 143.7,341.4 143.8,354.5 144.0,366.0 144.1,375.8 144.3,380.5 144.4,380.7 144.6,375.9 144.7,363.8 144.9,347.9 145.0,329.2 145.2,314.8 145.3,302.7 145.5,300.0 145.6,302.4 145.8,311.8 145.9,322.9 146.1,335.6 146.2,349.5 146.4,361.6 146.5,372.1 146.7,379.2 146.8,381.0 147.0,378.6 147.1,369.0 147.3,354.8 147.4,336.7 147.6,320.2 147.7,306.1 147.9,300.5 148.0,300.8 148.2,307.0 148.3,318.6 148.5,330.0 148.6,344.1 148.8,356.9 148.9,368.0 149.1,377.1 149.2,380.8 149.4,380.4 149.5,373.9 149.7,360.9 149.8,344.3 150.0,326.0 150.1,311.8 150.2,301.6 150.4,300.1 150.5,303.6 150.7,314.3 150.8,325.1 151.0,338.6 151.1,352.0 151.3,363.8 151.4,374.1 151.6,380.0 151.7,380.9 151.9,377.4 152.0,366.5 152.2,351.4 152.3,332.8 152.5,317.5 152.6,304.1 152.8,300.1 152.9,301.5 153.1,309.3 153.2,320.7 153.4,332.7 153.5,346.8 153.7,359.3 153.8,370.1 154.0,378.2 154.1,381.0 154.3,379.7 154.4,371.6 154.6,357.9 154.7,340.7 154.9,323.0 155.0,308.8 155.2,300.9 155.3,300.4 155.5,305.0 155.6,316.5 155.8,327.5 155.9,341.4 156.1,354.5 156.2,365.9 156.4,375.8 156.5,380.5 156.7,380.7 156.8,375.9 157.0,363.8 157.1,347.9 157.3,329.2 157.4,314.8 157.6,302.7 157.7,300.0 157.9,302.4 158.0,311.8 158.2,322.9 158.3,335.6 158.5,349.5 158.6,361.6 158.8,372.1 158.9,379.2 159.1,381.0 159.2,378.6 159.3,369.0 159.5,354.7 159.6,336.7 159.8,320.2 159.9,306.1 160.1,300.5 160.2,300.8 160.4,307.0 160.5,318.6 160.7,330.0 160.8,344.1 161.0,356.9 161.1,368.0 161.3,377.1 161.4,380.8 161.6,380.4 161.7,373.9 161.9,360.9 162.0,344.3 162.2,326.0 162.3,311.8 162.5,301.6 162.6,300.1 162.8,303.6 162.9,314.3 163.1,325.1 163.2,338.6 163.4,352.0 163.5,363.8 163.7,374.1 163.8,380.0 164.0,380.9 164.1,377.4 164.3,366.5 164.4,351.4 164.6,332.8 164.7,317.5 164.9,304.1 165.0,300.1 165.2,301.5 165.3,309.3 165.5,320.7 165.6,332.7 165.8,346.8 165.9,359.3 166.1,370.1 166.2,378.2 166.4,381.0 166.5,379.7 166.7,371.6 166.8,357.9 167.0,340.7 167.1,323.0 167.3,308.8 167.4,300.9 167.6,300.4 167.7,305.0 167.9,316.5 168.0,327.5 168.1,341.4 168.3,354.5 168.4,365.9 168.6,375.8 168.7,380.5 168.9,380.7 169.0,375.9 169.2,363.8 169.3,347.9 169.5,329.2 169.6,314.8 169.8,302.7 169.9,300.0 170.1,302.4 170.2,311.8 170.4,322.9 170.5,335.6 170.7,349.4 170.8,361.6 171.0,372.1 171.1,379.2 171.3,381.0 171.4,378.6 171.6,369.0 171.7,354.7 171.9,336.7 172.0,320.2 172.2,306.1 172.3,300.5 172.5,300.8 172.6,307.0 172.8,318.6 172.9,330.0 173.1,344.1 173.2,356.9 173.4,368.0 173.5,377.1 173.7,380.8 173.8,380.4 174.0,373.9 174.1,360.9 174.3,344.3 174.4,326.0 174.6,311.8 174.7,301.6 174.9,300.1 175.0,303.6 175.2,314.3 175.3,325.1 175.5,338.6 175.6,352.0 175.8,363.8 175.9,374.1 176.1,380.0 176.2,380.9 176.4,377.4 176.5,366.5 176.7,351.4 176.8,332.8 177.0,317.5 177.1,304.1 177.2,300.1 177.4,301.5 177.5,309.3 177.7,320.7 177.8,332.7 178.0,346.8 178.1,359.3 178.3,370.1 178.4,378.2 178.6,381.0 178.7,379.6 178.9,371.6 179.0,357.9 179.2,340.7 179.3,323.0 179.5,308.8 179.6,300.9 179.8,300.4 179.9,305.0 180.1,316.5 180.2,327.5 180.4,341.4 180.5,354.5 180.7,365.9 180.8,375.8 181.0,380.5 181.1,380.7 181.3,375.9 181.4,363.8 181.6,347.9 181.7,329.2 181.9,314.8 182.0,302.7 182.2,300.0 182.3,302.4 182.5,311.8 182.6,322.9 182.8,335.6 182.9,349.4 183.1,361.6 183.2,372.1 183.4,379.2 183.5,381.0 183.7,378.6 183.8,369.0 184.0,354.7 184.1,336.7 184.3,320.2 184.4,306.1 184.6,300.5 184.7,300.8 184.9,307.0 185.0,318.6 185.2,330.0 185.3,344.1 185.5,356.9 185.6,368.0 185.8,377.1 185.9,380.8 186.0,380.4 186.2,373.9 186.3,360.9 186.5,344.3 186.6,326.0 186.8,311.8 186.9,301.6 187.1,300.1 187.2,303.6 187.4,314.3 187.5,325.1 187.7,338.6 187.8,352.0 188.0,363.8 188.1,374.1 188.3,380.0 188.4,380.9 188.6,377.4 188.7,366.5 188.9,351.4 189.0,332.8 189.2,317.5 189.3,304.1 189.5,300.1 189.6,301.5 189.8,309.3 189.9,320.7 190.1,332.7 190.2,346.8 190.4,359.3 190.5,370.1 190.7,378.2 190.8,381.0 191.0,379.6 191.1,371.6 191.3,357.9 191.4,340.7 191.6,323.0 191.7,308.8 191.9,300.9 192.0,300.4 192.2,305.0 192.3,316.5 192.5,327.5 192.6,341.4 192.8,354.5 192.9,365.9 193.1,375.8 193.2,380.5 193.4,380.7 193.5,375.9 193.7,363.8 193.8,347.9 194.0,329.2 194.1,314.8 194.3,302.7 194.4,300.0 194.6,302.4 194.7,311.8 194.9,322.9 195.0,335.6 195.1,349.4 195.3,361.6 195.4,372.1 195.6,379.2 195.7,381.0 195.9,378.6 196.0,369.0 196.2,354.7 196.3,336.7 196.5,320.2 196.6,306.1 196.8,300.5 196.9,300.8 197.1,307.0 197.2,318.6 197.4,330.0 197.5,344.1 197.7,356.9 197.8,368.0 198.0,377.1 198.1,380.8 198.3,380.3 198.4,373.9 198.6,360.9 198.7,344.3 198.9,326.0 199.0,311.8 199.2,301.6 199.3,300.1 199.5,303.6 199.6,314.3 199.8,325.1 199.9,338.6 200.1,352.0 200.2,363.8 200.4,374.1 200.5,380.0 200.7,380.9 200.8,377.4 201.0,366.5 201.1,351.4 201.3,332.8 201.4,317.5 201.6,304.1 201.7,300.1 201.9,301.5 202.0,309.3 202.2,320.7 202.3,332.7 202.5,346.8 202.6,359.3 202.8,370.1 202.9,378.2 203.1,381.0 203.2,379.6 203.4,371.5 203.5,357.9 203.7,340.6 203.8,323.0 203.9,308.8 204.1,300.9 204.2,300.4 204.4,305.0 204.5,316.5 204.7,327.5 204.8,341.4 205.0,354.5 205.1,365.9 205.3,375.8 205.4,380.5 205.6,380.7 205.7,375.9 205.9,363.8 206.0,347.9 206.2,329.2 206.3,314.8 206.5,302.7 206.6,300.0 206.8,302.4 206.9,311.8 207.1,322.9 207.2,335.6 207.4,349.4 207.5,361.6 207.7,372.1 207.8,379.2 208.0,381.0 208.1,378.6 208.3,369.0 208.4,354.7 208.6,336.7 208.7,320.2 208.9,306.1 209.0,300.5 209.2,300.8 209.3,307.0 209.5,318.6 209.6,329.9 209.8,344.1 209.9,356.9 210.1,368.0 210.2,377.1 210.4,380.8 210.5,380.3 210.7,373.9 210.8,360.9 211.0,344.3 211.1,326.0 211.3,311.8 211.4,301.6 211.6,300.1 211.7,303.6 211.9,314.3 212.0,325.1 212.2,338.6 212.3,352.0 212.5,363.8 212.6,374.1 212.8,380.0 212.9,380.9 213.0,377.4 213.2,366.4 213.3,351.4 213.5,332.8 213.6,317.5 213.8,304.1 213.9,300.1 214.1,301.5 214.2,309.3 214.4,320.7 214.5,332.7 214.7,346.8 214.8,359.3 215.0,370.1 215.1,378.2 215.3,380.9 215.4,379.6 215.6,371.5 215.7,357.9 215.9,340.6 216.0,323.0 216.2,308.8 216.3,300.9 216.5,300.4 216.6,305.0 216.8,316.5 216.9,327.4 217.1,341.4 217.2,354.5 217.4,365.9 217.5,375.7 217.7,380.5 217.8,380.7 218.0,375.9 218.1,363.8 218.3,347.9 218.4,329.2 218.6,314.8 218.7,302.7 218.9,300.0 219.0,302.4 219.2,311.8 219.3,322.9 219.5,335.6 219.6,349.4 219.8,361.6 219.9,372.1 220.1,379.2 220.2,381.0 220.4,378.6 220.5,369.0 220.7,354.7 220.8,336.7 221.0,320.2 221.1,306.1 221.3,300.5 221.4,300.8 221.6,307.0 221.7,318.6 221.8,329.9 222.0,344.1 222.1,356.9 222.3,368.0 222.4,377.1 222.6,380.8 222.7,380.3 222.9,373.9 223.0,360.9 223.2,344.3 223.3,326.0 223.5,311.8 223.6,301.6 223.8,300.1 223.9,303.6 224.1,314.3 224.2,325.1 224.4,338.5 224.5,352.0 224.7,363.8 224.8,374.0 225.0,380.0 225.1,380.9 225.3,377.3 225.4,366.4 225.6,351.4 225.7,332.8 225.9,317.5 226.0,304.1 226.2,300.1 226.3,301.5 226.5,309.3 226.6,320.7 226.8,332.7 226.9,346.8 227.1,359.3 227.2,370.0 227.4,378.2 227.5,380.9 227.7,379.6 227.8,371.5 228.0,357.9 228.1,340.6 228.3,323.0 228.4,308.8 228.6,300.9 228.7,300.4 228.9,305.0 229.0,316.5 229.2,327.4 229.3,341.4 229.5,354.5 229.6,365.9 229.8,375.7 229.9,380.5 230.1,380.6 230.2,375.9 230.4,363.7 230.5,347.9 230.7,329.2 230.8,314.8 230.9,302.7 231.1,300.0 231.2,302.4 231.4,311.8 231.5,322.9 231.7,335.6 231.8,349.4 232.0,361.5 232.1,372.1 232.3,379.2 232.4,381.0 232.6,378.6 232.7,369.0 232.9,354.7 233.0,336.7 233.2,320.2 233.3,306.1 233.5,300.5 233.6,300.8 233.8,307.0 233.9,318.6 234.1,329.9 234.2,344.1 234.4,356.9 234.5,367.9 234.7,377.1 234.8,380.7 235.0,380.3 235.1,373.9 235.3,360.9 235.4,344.3 235.6,326.0 235.7,311.8 235.9,301.6 236.0,300.1 236.2,303.6 236.3,314.3 236.5,325.1 236.6,338.5 236.8,352.0 236.9,363.8 237.1,374.0 237.2,380.0 237.4,380.9 237.5,377.3 237.7,366.4 237.8,351.4 238.0,332.8 238.1,317.5 238.3,304.1 238.4,300.1 238.6,301.5 238.7,309.3 238.9,320.7 239.0,332.7 239.2,346.8 239.3,359.2 239.5,370.0 239.6,378.2 239.7,380.9 239.9,379.6 240.0,371.5 240.2,357.8 240.3,340.6 240.5,323.0 240.6,308.8 240.8,300.9 240.9,300.4 241.1,305.0 241.2,316.5 241.4,327.4 241.5,341.4 241.7,354.5 241.8,365.9 242.0,375.7 242.1,380.5 242.3,380.6 242.4,375.8 242.6,363.7 242.7,347.9 242.9,329.1 243.0,314.8 243.2,302.7 243.3,300.0 243.5,302.4 243.6,311.8 243.8,322.9 243.9,335.6 244.1,349.4 244.2,361.5 244.4,372.1 244.5,379.2 244.7,381.0 244.8,378.6 245.0,369.0 245.1,354.7 245.3,336.7 245.4,320.2 245.6,306.1 245.7,300.5 245.9,300.8 246.0,307.0 246.2,318.6 246.3,329.9 246.5,344.1 246.6,356.9 246.8,367.9 246.9,377.0 247.1,380.7 247.2,380.3 247.4,373.9 247.5,360.9 247.7,344.3 247.8,326.0 248.0,311.8 248.1,301.6 248.3,300.1 248.4,303.6 248.6,314.2 248.7,325.1 248.8,338.5 249.0,352.0 249.1,363.7 249.3,374.0 249.4,380.0 249.6,380.8 249.7,377.3 249.9,366.4 250.0,351.4 250.2,332.8 250.3,317.5 250.5,304.1 250.6,300.1 250.8,301.5 250.9,309.3 251.1,320.7 251.2,332.7 251.4,346.8 251.5,359.2 251.7,370.0 251.8,378.2 252.0,380.9 252.1,379.6 252.3,371.5 252.4,357.8 252.6,340.6 252.7,323.0 252.9,308.8 253.0,300.9 253.2,300.4 253.3,305.0 253.5,316.5 253.6,327.4 253.8,341.4 253.9,354.5 254.1,365.9 254.2,375.7 254.4,380.4 254.5,380.6 254.7,375.8 254.8,363.7 255.0,347.9 255.1,329.1 255.3,314.8 255.4,302.7 255.6,300.0 255.7,302.4 255.9,311.8 256.0,322.9 256.2,335.6 256.3,349.4 256.5,361.5 256.6,372.1 256.8,379.2 256.9,380.9 257.1,378.5 257.2,368.9 257.4,354.7 257.5,336.7 257.6,320.2 257.8,306.1 257.9,300.5 258.1,300.8 258.2,307.0 258.4,318.6 258.5,329.9 258.7,344.1 258.8,356.9 259.0,367.9 259.1,377.0 259.3,380.7 259.4,380.3 259.6,373.8 259.7,360.8 259.9,344.3 260.0,325.9 260.2,311.8 260.3,301.6 260.5,300.1 260.6,303.6 260.8,314.2 260.9,325.1 261.1,338.5 261.2,352.0 261.4,363.7 261.5,374.0 261.7,379.9 261.8,380.8 262.0,377.3 262.1,366.4 262.3,351.3 262.4,332.8 262.6,317.5 262.7,304.1 262.9,300.1 263.0,301.5 263.2,309.3 263.3,320.7 263.5,332.7 263.6,346.7 263.8,359.2 263.9,370.0 264.1,378.1 264.2,380.9 264.4,379.5 264.5,371.5 264.7,357.8 264.8,340.6 265.0,323.0 265.1,308.8 265.3,300.9 265.4,300.4 265.6,305.0 265.7,316.5 265.9,327.4 266.0,341.4 266.2,354.5 266.3,365.9 266.5,375.7 266.6,380.4 266.7,380.6 266.9,375.8 267.0,363.7 267.2,347.9 267.3,329.1 267.5,314.8 267.6,302.7 267.8,300.0 267.9,302.4 268.1,311.8 268.2,322.9 268.4,335.6 268.5,349.4 268.7,361.5 268.8,372.0 269.0,379.1 269.1,380.9 269.3,378.5 269.4,368.9 269.6,354.7 269.7,336.7 269.9,320.2 270.0,306.1 270.2,300.5 270.3,300.8 270.5,307.0 270.6,318.6 270.8,329.9 270.9,344.1 271.1,356.9 271.2,367.9 271.4,377.0 271.5,380.7 271.7,380.2 271.8,373.8 272.0,360.8 272.1,344.3 272.3,325.9 272.4,311.8 272.6,301.6 272.7,300.1 272.9,303.6 273.0,314.2 273.2,325.1 273.3,338.5 273.5,352.0 273.6,363.7 273.8,374.0 273.9,379.9 274.1,380.8 274.2,377.3 274.4,366.4 274.5,351.3 274.7,332.8 274.8,317.5 275.0,304.1 275.1,300.1 275.3,301.5 275.4,309.3 275.5,320.7 275.7,332.7 275.8,346.7 276.0,359.2 276.1,370.0 276.3,378.1 276.4,380.8 276.6,379.5 276.7,371.4 276.9,357.8 277.0,340.6 277.2,323.0 277.3,308.8 277.5,300.9 277.6,300.4 277.8,305.0 277.9,316.4 278.1,327.4 278.2,341.4 278.4,354.4 278.5,365.8 278.7,375.6 278.8,380.4 279.0,380.6 279.1,375.8 279.3,363.7 279.4,347.8 279.6,329.1 279.7,314.8 279.9,302.7 280.0,300.0 280.2,302.4 280.3,311.8 280.5,322.9 280.6,335.6 280.8,349.4 280.9,361.5 281.1,372.0 281.2,379.1 281.4,380.9 281.5,378.5 281.7,368.9 281.8,354.6 282.0,336.7 282.1,320.2 282.3,306.1 282.4,300.5 282.6,300.8 282.7,307.0 282.9,318.6 283.0,329.9 283.2,344.0 283.3,356.8 283.5,367.9 283.6,377.0 283.8,380.6 283.9,380.2 284.1,373.8 284.2,360.8 284.4,344.2 284.5,325.9 284.6,311.8 284.8,301.6 284.9,300.1 285.1,303.6 285.2,314.2 285.4,325.1 285.5,338.5 285.7,351.9 285.8,363.7 286.0,373.9 286.1,379.9 286.3,380.8 286.4,377.2 286.6,366.3 286.7,351.3 286.9,332.7 287.0,317.5 287.2,304.1 287.3,300.1 287.5,301.5 287.6,309.3 287.8,320.7 287.9,332.6 288.1,346.7 288.2,359.2 288.4,369.9 288.5,378.1 288.7,380.8 288.8,379.5 289.0,371.4 289.1,357.8 289.3,340.6 289.4,323.0 289.6,308.8 289.7,300.9 289.9,300.4 290.0,305.0 290.2,316.4 290.3,327.4 290.5,341.3 290.6,354.4 290.8,365.8 290.9,375.6 291.1,380.2 291.2,380.3 291.4,375.6 291.5,363.6 291.7,348.1 291.8,330.0 292.0,316.3 292.1,305.0 292.3,302.8 292.4,305.5 292.6,314.8 292.7,325.4 292.9,337.4 293.0,350.3 293.2,361.3 293.3,370.8 293.4,376.9 293.6,378.3 293.7,376.0 293.9,367.6 294.0,355.3 294.2,340.2 294.3,326.7 294.5,315.3 294.6,311.2 294.8,312.0 294.9,317.3 295.1,326.9 295.2,336.1 295.4,347.2 295.5,357.0 295.7,365.3 295.8,371.8 296.0,374.2 296.1,373.5 296.3,368.6 296.4,359.3 296.6,347.9 296.7,335.7 296.9,326.7 297.0,320.6 297.2,320.3 297.3,323.0 297.5,330.0 297.6,336.8 297.8,344.8 297.9,352.5 298.1,358.8 298.2,364.1 298.4,366.8 298.5,366.7 298.7,364.5 298.8,358.8 299.0,351.5 299.1,343.0 299.3,336.4 299.4,331.0 299.6,329.9 299.7,331.0 299.9,334.7 300.0,339.4 300.2,344.0 300.3,348.9 300.5,352.8 300.6,355.7 300.8,357.5 300.9,357.6 301.1,356.5 301.2,354.0 301.4,350.5 301.5,346.7 301.7,343.5 301.8,341.5 302.0,340.9 302.1,341.4 302.3,342.5 302.4,344.2 302.5,345.5 302.7,346.6 302.8,347.4 303.0,347.7 303.1,347.8 303.3,347.6 303.4,347.2 303.6,346.9 303.7,346.6 303.9,346.4 304.0,346.4 304.2,346.4 304.3,346.4 304.5,346.4 304.6,346.4 304.8,346.4 304.9,346.4 305.1,346.4 305.2,346.4 305.4,346.4 305.5,346.4 305.7,346.4 305.8,346.4 306.0,346.4 306.1,346.4 306.3,346.4 306.4,346.4 306.6,346.4 306.7,346.4 306.9,346.4 307.0,346.4 307.2,346.4 307.3,346.4 307.5,346.4 307.6,346.4 307.8,346.4 307.9,346.4 308.1,346.4 308.2,346.4 308.4,346.4 308.5,346.4 308.7,346.4 308.8,346.4 309.0,346.4 309.1,346.4 309.3,346.4 309.4,346.4 309.6,346.4 309.7,346.4 309.9,346.4 310.0,346.4 310.2,346.4 310.3,346.4 310.5,346.4 310.6,346.4 310.8,346.4 310.9,346.4 311.1,346.4 311.2,346.4 311.3,346.4 311.5,346.4 311.6,346.4 311.8,346.4 311.9,346.4 312.1,346.4 312.2,346.4 312.4,346.4 312.5,346.4 312.7,346.4 312.8,346.4 313.0,346.4 313.1,346.4 313.3,346.4 313.4,346.4 313.6,346.4 313.7,346.4 313.9,346.4 314.0,346.4 314.2,346.4 314.3,346.4 314.5,346.4 314.6,346.4 314.8,346.4 314.9,346.4 315.1,346.4 315.2,346.4 315.4,346.4 315.5,346.4 315.7,346.4 315.8,346.4 316.0,346.4 316.1,346.4 316.3,346.4 316.4,346.4 316.6,346.4 316.7,346.4 316.9,346.4 317.0,346.4 317.2,346.4 317.3,346.4 317.5,346.4 317.6,346.4 317.8,346.4 317.9,346.4 318.1,346.4 318.2,346.4 318.4,346.4 318.5,346.4 318.7,346.4 318.8,346.4 319.0,346.4 319.1,346.4 319.3,346.4 319.4,346.4 319.6,346.4 319.7,346.4 319.9,347.5 320.0,348.9 320.2,350.3"/>
<polyline stroke="#0a72b4" stroke-opacity="0.90" points="66.7,308.0 66.9,308.0 67.0,308.0 67.2,308.0 67.3,308.0 67.5,308.0 67.6,308.0 67.8,308.0 67.9,308.0 68.1,308.0 68.2,308.0 68.4,308.0 68.5,308.0 68.7,308.0 68.8,308.0 69.0,308.0 69.1,308.0 69.3,308.0 69.4,308.0 69.6,308.0 69.7,308.0 69.8,308.0 70.0,308.0 70.1,308.0 70.3,308.0 70.4,308.0 70.6,308.0 70.7,308.0 70.9,308.0 71.0,308.0 71.2,308.0 71.3,308.0 71.5,308.0 71.6,308.0 71.8,308.0 71.9,308.0 72.1,308.0 72.2,308.0 72.4,308.0 72.5,308.0 72.7,308.0 72.8,308.0 73.0,308.0 73.1,308.0 73.3,308.0 73.4,308.0 73.6,308.0 73.7,308.0 73.9,308.0 74.0,308.0 74.2,308.0 74.3,308.0 74.5,308.0 74.6,308.0 74.8,308.0 74.9,308.0 75.1,308.0 75.2,308.0 75.4,308.0 75.5,308.2 75.7,308.6 75.8,309.0 76.0,309.4 76.1,309.4 76.3,308.6 76.4,307.0 76.6,304.6 76.7,302.2 76.9,299.9 77.0,298.7 77.2,298.5 77.3,300.1 77.5,302.2 77.6,305.6 77.8,309.6 77.9,313.6 78.1,317.8 78.2,320.8 78.4,322.1 78.5,321.6 78.6,317.5 78.8,311.1 78.9,302.2 79.1,294.2 79.2,286.7 79.4,283.8 79.5,283.9 79.7,287.9 79.8,294.3 80.0,301.5 80.1,310.5 80.3,318.8 80.4,326.5 80.6,332.6 80.7,335.2 80.9,335.0 81.0,329.7 81.2,320.0 81.3,307.0 81.5,293.1 81.6,281.3 81.8,274.3 81.9,273.3 82.1,276.5 82.2,286.0 82.4,295.5 82.5,308.0 82.7,320.1 82.8,331.1 83.0,341.0 83.1,346.2 83.3,347.0 83.4,342.8 83.6,330.9 83.7,314.8 83.9,295.2 84.0,279.7 84.2,266.3 84.3,262.7 84.5,264.7 84.6,274.6 84.8,286.6 84.9,300.7 85.1,316.4 85.2,330.5 85.4,342.9 85.5,351.5 85.7,353.9 85.8,351.2 86.0,339.9 86.1,322.7 86.3,300.8 86.4,280.5 86.6,262.9 86.7,255.7 86.9,255.9 87.0,263.3 87.2,277.7 87.3,291.9 87.5,309.7 87.6,326.0 87.7,340.2 87.9,351.9 88.0,356.7 88.2,356.3 88.3,348.1 88.5,331.3 88.6,309.7 88.8,285.7 88.9,267.1 89.1,253.6 89.2,251.5 89.4,255.8 89.5,269.7 89.7,283.9 89.8,301.6 90.0,319.4 90.1,335.0 90.3,348.7 90.4,356.7 90.6,357.9 90.7,353.2 90.9,338.6 91.0,318.4 91.2,293.4 91.3,272.7 91.5,254.6 91.6,249.1 91.8,250.8 91.9,261.3 92.1,276.7 92.2,292.8 92.4,311.9 92.5,328.9 92.7,343.6 92.8,354.7 93.0,358.5 93.1,356.7 93.3,345.7 93.4,326.9 93.6,303.3 93.7,279.0 93.9,259.4 94.0,248.5 94.2,247.7 94.3,253.9 94.5,269.7 94.6,284.8 94.8,304.1 94.9,322.2 95.1,338.0 95.2,351.7 95.4,358.3 95.5,358.5 95.7,351.9 95.8,335.0 96.0,312.9 96.1,286.7 96.3,266.6 96.4,249.7 96.5,245.8 96.7,249.1 96.8,262.2 97.0,277.6 97.1,295.5 97.3,314.9 97.4,331.9 97.6,346.8 97.7,356.8 97.9,359.3 98.0,355.9 98.2,342.4 98.3,322.2 98.5,296.7 98.6,273.3 98.8,253.3 98.9,245.2 99.1,245.7 99.2,254.3 99.4,270.8 99.5,286.9 99.7,307.0 99.8,325.2 100.0,341.0 100.1,353.9 100.3,359.2 100.4,358.6 100.6,349.4 100.7,330.8 100.9,307.1 101.0,280.8 101.2,260.5 101.3,245.9 101.5,243.6 101.6,248.5 101.8,263.8 101.9,279.4 102.1,298.7 102.2,318.0 102.4,335.0 102.5,349.7 102.7,358.3 102.8,359.6 103.0,354.5 103.1,338.8 103.3,317.1 103.4,290.2 103.6,268.1 103.7,248.7 103.9,242.9 104.0,244.8 104.2,256.1 104.3,272.6 104.5,289.9 104.6,310.3 104.8,328.4 104.9,344.1 105.1,355.9 105.2,359.9 105.4,358.0 105.5,346.2 105.6,326.4 105.8,301.3 105.9,275.7 106.1,255.0 106.2,243.5 106.4,242.8 106.5,249.4 106.7,266.1 106.8,282.1 107.0,302.4 107.1,321.5 107.3,338.2 107.4,352.5 107.6,359.5 107.7,359.7 107.9,352.7 108.0,335.0 108.2,311.9 108.3,284.5 108.5,263.5 108.6,245.9 108.8,241.9 108.9,245.4 109.1,259.2 109.2,275.3 109.4,293.9 109.5,314.2 109.7,331.9 109.8,347.4 110.0,357.8 110.1,360.4 110.3,356.9 110.4,342.8 110.6,321.9 110.7,295.6 110.9,271.4 111.0,250.7 111.2,242.4 111.3,242.9 111.5,251.9 111.6,269.0 111.8,285.6 111.9,306.4 112.1,325.2 112.2,341.4 112.4,354.8 112.5,360.2 112.7,359.6 112.8,350.2 113.0,331.1 113.1,306.7 113.3,279.7 113.4,258.9 113.6,243.9 113.7,241.7 113.9,246.7 114.0,262.5 114.2,278.4 114.3,298.2 114.4,318.0 114.6,335.4 114.7,350.5 114.9,359.3 115.0,360.6 115.2,355.4 115.3,339.3 115.5,317.2 115.6,289.7 115.8,267.2 115.9,247.4 116.1,241.5 116.2,243.5 116.4,255.1 116.5,271.9 116.7,289.6 116.8,310.4 117.0,328.8 117.1,344.7 117.3,356.8 117.4,360.8 117.6,358.9 117.7,347.0 117.9,326.8 118.0,301.3 118.2,275.3 118.3,254.2 118.5,242.5 118.6,241.8 118.8,248.6 118.9,265.5 119.1,281.8 119.2,302.4 119.4,321.8 119.5,338.7 119.7,353.3 119.8,360.3 120.0,360.6 120.1,353.5 120.3,335.5 120.4,312.1 120.6,284.3 120.7,263.0 120.9,245.1 121.0,241.1 121.2,244.6 121.3,258.6 121.5,275.0 121.6,293.8 121.8,314.3 121.9,332.3 122.1,348.0 122.2,358.5 122.4,361.2 122.5,357.6 122.7,343.4 122.8,322.2 123.0,295.5 123.1,271.0 123.3,250.0 123.4,241.6 123.5,242.2 123.7,251.3 123.8,268.6 124.0,285.4 124.1,306.4 124.3,325.5 124.4,341.9 124.6,355.4 124.7,360.9 124.9,360.2 125.0,350.7 125.2,331.3 125.3,306.7 125.5,279.5 125.6,258.4 125.8,243.3 125.9,241.1 126.1,246.2 126.2,262.1 126.4,278.2 126.5,298.2 126.7,318.2 126.8,335.6 127.0,350.9 127.1,359.8 127.3,361.1 127.4,355.8 127.6,339.6 127.7,317.2 127.9,289.6 128.0,266.9 128.2,246.9 128.3,241.0 128.5,243.0 128.6,254.7 128.8,271.6 128.9,289.4 129.1,310.4 129.2,328.9 129.4,344.9 129.5,357.1 129.7,361.1 129.8,359.2 130.0,347.1 130.1,326.8 130.3,301.2 130.4,275.0 130.6,253.9 130.7,242.1 130.9,241.4 131.0,248.2 131.2,265.3 131.3,281.6 131.5,302.3 131.6,321.8 131.8,338.8 131.9,353.4 132.1,360.5 132.2,360.7 132.3,353.6 132.5,335.6 132.6,312.0 132.8,284.1 132.9,262.7 133.1,244.8 133.2,240.7 133.4,244.3 133.5,258.3 133.7,274.8 133.8,293.7 134.0,314.3 134.1,332.3 134.3,348.0 134.4,358.6 134.6,361.2 134.7,357.6 134.9,343.4 135.0,322.1 135.2,295.4 135.3,270.8 135.5,249.8 135.6,241.4 135.8,242.0 135.9,251.1 136.1,268.4 136.2,285.3 136.4,306.4 136.5,325.4 136.7,341.8 136.8,355.4 137.0,360.9 137.1,360.2 137.3,350.7 137.4,331.3 137.6,306.6 137.7,279.4 137.9,258.3 138.0,243.2 138.2,240.9 138.3,246.0 138.5,261.9 138.6,278.1 138.8,298.1 138.9,318.1 139.1,335.6 139.2,350.9 139.4,359.8 139.5,361.1 139.7,355.8 139.8,339.6 140.0,317.2 140.1,289.5 140.3,266.8 140.4,246.9 140.6,240.9 140.7,242.9 140.9,254.6 141.0,271.6 141.2,289.4 141.3,310.3 141.4,328.9 141.6,344.9 141.7,357.1 141.9,361.1 142.0,359.2 142.2,347.1 142.3,326.8 142.5,301.2 142.6,275.0 142.8,253.8 142.9,242.0 143.1,241.4 143.2,248.1 143.4,265.2 143.5,281.6 143.7,302.3 143.8,321.8 144.0,338.8 144.1,353.4 144.3,360.5 144.4,360.7 144.6,353.6 144.7,335.6 144.9,312.0 145.0,284.1 145.2,262.7 145.3,244.8 145.5,240.7 145.6,244.3 145.8,258.3 145.9,274.8 146.1,293.7 146.2,314.3 146.4,332.3 146.5,348.0 146.7,358.6 146.8,361.2 147.0,357.6 147.1,343.4 147.3,322.1 147.4,295.3 147.6,270.8 147.7,249.8 147.9,241.4 148.0,242.0 148.2,251.1 148.3,268.4 148.5,285.3 148.6,306.3 148.8,325.4 148.9,341.8 149.1,355.4 149.2,360.9 149.4,360.2 149.5,350.6 149.7,331.3 149.8,306.6 150.0,279.3 150.1,258.3 150.2,243.1 150.4,240.9 150.5,246.0 150.7,261.9 150.8,278.1 151.0,298.1 151.1,318.1 151.3,335.6 151.4,350.9 151.6,359.8 151.7,361.1 151.9,355.8 152.0,339.6 152.2,317.2 152.3,289.5 152.5,266.8 152.6,246.8 152.8,240.9 152.9,242.9 153.1,254.6 153.2,271.6 153.4,289.4 153.5,310.3 153.7,328.9 153.8,344.9 154.0,357.1 154.1,361.1 154.3,359.2 154.4,347.1 154.6,326.8 154.7,301.2 154.9,274.9 155.0,253.8 155.2,242.0 155.3,241.3 155.5,248.1 155.6,265.2 155.8,281.5 155.9,302.3 156.1,321.8 156.2,338.8 156.4,353.4 156.5,360.5 156.7,360.7 156.8,353.6 157.0,335.6 157.1,312.0 157.3,284.1 157.4,262.7 157.6,244.8 157.7,240.7 157.9,244.3 158.0,258.3 158.2,274.7 158.3,293.7 158.5,314.2 158.6,332.3 158.8,348.0 158.9,358.6 159.1,361.2 159.2,357.6 159.3,343.4 159.5,322.1 159.6,295.3 159.8,270.8 159.9,249.8 160.1,241.4 160.2,241.9 160.4,251.0 160.5,268.4 160.7,285.2 160.8,306.3 161.0,325.4 161.1,341.8 161.3,355.4 161.4,360.9 161.6,360.2 161.7,350.6 161.9,331.3 162.0,306.6 162.2,279.3 162.3,258.3 162.5,243.1 162.6,240.9 162.8,246.0 162.9,261.9 163.1,278.1 163.2,298.0 163.4,318.1 163.5,335.6 163.7,350.9 163.8,359.8 164.0,361.1 164.1,355.8 164.3,339.6 164.4,317.2 164.6,289.5 164.7,266.7 164.9,246.8 165.0,240.9 165.2,242.9 165.3,254.5 165.5,271.5 165.6,289.3 165.8,310.3 165.9,328.9 166.1,344.9 166.2,357.1 166.4,361.1 166.5,359.2 166.7,347.1 166.8,326.8 167.0,301.2 167.1,274.9 167.3,253.7 167.4,242.0 167.6,241.3 167.7,248.1 167.9,265.2 168.0,281.5 168.1,302.3 168.3,321.8 168.4,338.8 168.6,353.4 168.7,360.5 168.9,360.7 169.0,353.6 169.2,335.6 169.3,312.0 169.5,284.1 169.6,262.7 169.8,244.7 169.9,240.7 170.1,244.3 170.2,258.3 170.4,274.7 170.5,293.7 170.7,314.2 170.8,332.3 171.0,348.0 171.1,358.6 171.3,361.2 171.4,357.6 171.6,343.3 171.7,322.1 171.9,295.3 172.0,270.8 172.2,249.7 172.3,241.3 172.5,241.9 172.6,251.0 172.8,268.4 172.9,285.2 173.1,306.3 173.2,325.4 173.4,341.8 173.5,355.4 173.7,360.9 173.8,360.2 174.0,350.6 174.1,331.3 174.3,306.6 174.4,279.3 174.6,258.2 174.7,243.1 174.9,240.8 175.0,246.0 175.2,261.9 175.3,278.0 175.5,298.0 175.6,318.1 175.8,335.6 175.9,350.9 176.1,359.8 176.2,361.1 176.4,355.8 176.5,339.5 176.7,317.2 176.8,289.5 177.0,266.7 177.1,246.8 177.2,240.8 177.4,242.8 177.5,254.5 177.7,271.5 177.8,289.3 178.0,310.3 178.1,328.9 178.3,344.9 178.4,357.1 178.6,361.1 178.7,359.2 178.9,347.1 179.0,326.8 179.2,301.1 179.3,274.9 179.5,253.7 179.6,242.0 179.8,241.3 179.9,248.1 180.1,265.2 180.2,281.5 180.4,302.3 180.5,321.8 180.7,338.8 180.8,353.4 181.0,360.5 181.1,360.7 181.3,353.6 181.4,335.6 181.6,311.9 181.7,284.1 181.9,262.6 182.0,244.7 182.2,240.6 182.3,244.2 182.5,258.2 182.6,274.7 182.8,293.6 182.9,314.2 183.1,332.3 183.2,348.0 183.4,358.6 183.5,361.2 183.7,357.6 183.8,343.3 184.0,322.1 184.1,295.3 184.3,270.8 184.4,249.7 184.6,241.3 184.7,241.9 184.9,251.0 185.0,268.3 185.2,285.2 185.3,306.3 185.5,325.4 185.6,341.8 185.8,355.4 185.9,360.9 186.0,360.2 186.2,350.6 186.3,331.3 186.5,306.6 186.6,279.3 186.8,258.2 186.9,243.1 187.1,240.8 187.2,245.9 187.4,261.9 187.5,278.0 187.7,298.0 187.8,318.1 188.0,335.6 188.1,350.9 188.3,359.8 188.4,361.1 188.6,355.8 188.7,339.5 188.9,317.1 189.0,289.5 189.2,266.7 189.3,246.8 189.5,240.8 189.6,242.8 189.8,254.5 189.9,271.5 190.1,289.3 190.2,310.3 190.4,328.9 190.5,344.9 190.7,357.1 190.8,361.1 191.0,359.2 191.1,347.1 191.3,326.8 191.4,301.1 191.6,274.9 191.7,253.7 191.9,241.9 192.0,241.3 192.2,248.0 192.3,265.1 192.5,281.5 192.6,302.3 192.8,321.8 192.9,338.8 193.1,353.4 193.2,360.5 193.4,360.7 193.5,353.6 193.7,335.5 193.8,311.9 194.0,284.0 194.1,262.6 194.3,244.7 194.4,240.6 194.6,244.2 194.7,258.2 194.9,274.7 195.0,293.6 195.1,314.2 195.3,332.3 195.4,348.0 195.6,358.6 195.7,361.2 195.9,357.6 196.0,343.3 196.2,322.1 196.3,295.3 196.5,270.7 196.6,249.7 196.8,241.3 196.9,241.9 197.1,251.0 197.2,268.3 197.4,285.2 197.5,306.3 197.7,325.4 197.8,341.8 198.0,355.4 198.1,360.9 198.3,360.2 198.4,350.6 198.6,331.3 198.7,306.6 198.9,279.3 199.0,258.2 199.2,243.0 199.3,240.8 199.5,245.9 199.6,261.8 199.8,278.0 199.9,298.0 200.1,318.1 200.2,335.6 200.4,350.9 200.5,359.8 200.7,361.1 200.8,355.8 201.0,339.5 201.1,317.1 201.3,289.4 201.4,266.7 201.6,246.7 201.7,240.8 201.9,242.8 202.0,254.5 202.2,271.5 202.3,289.3 202.5,310.3 202.6,328.9 202.8,344.9 202.9,357.1 203.1,361.1 203.2,359.2 203.4,347.1 203.5,326.8 203.7,301.1 203.8,274.9 203.9,253.7 204.1,241.9 204.2,241.3 204.4,248.0 204.5,265.1 204.7,281.5 204.8,302.3 205.0,321.8 205.1,338.8 205.3,353.4 205.4,360.5 205.6,360.7 205.7,353.6 205.9,335.5 206.0,311.9 206.2,284.0 206.3,262.6 206.5,244.7 206.6,240.6 206.8,244.2 206.9,258.2 207.1,274.7 207.2,293.6 207.4,314.2 207.5,332.3 207.7,348.0 207.8,358.6 208.0,361.2 208.1,357.6 208.3,343.3 208.4,322.1 208.6,295.3 208.7,270.7 208.9,249.7 209.0,241.3 209.2,241.9 209.3,251.0 209.5,268.3 209.6,285.2 209.8,306.3 209.9,325.4 210.1,341.8 210.2,355.4 210.4,360.9 210.5,360.2 210.7,350.6 210.8,331.3 211.0,306.6 211.1,279.3 211.3,258.2 211.4,243.0 211.6,240.8 211.7,245.9 211.9,261.8 212.0,278.0 212.2,298.0 212.3,318.1 212.5,335.6 212.6,350.9 212.8,359.8 212.9,361.1 213.0,355.8 213.2,339.5 213.3,317.1 213.5,289.4 213.6,266.7 213.8,246.7 213.9,240.8 214.1,242.8 214.2,254.5 214.4,271.5 214.5,289.3 214.7,310.3 214.8,328.9 215.0,344.9 215.1,357.1 215.3,361.1 215.4,359.2 215.6,347.1 215.7,326.8 215.9,301.1 216.0,274.9 216.2,253.7 216.3,241.9 216.5,241.2 216.6,248.0 216.8,265.1 216.9,281.5 217.1,302.3 217.2,321.8 217.4,338.8 217.5,353.4 217.7,360.5 217.8,360.7 218.0,353.6 218.1,335.5 218.3,311.9 218.4,284.0 218.6,262.6 218.7,244.7 218.9,240.6 219.0,244.2 219.2,258.2 219.3,274.7 219.5,293.6 219.6,314.2 219.8,332.3 219.9,348.0 220.1,358.6 220.2,361.2 220.4,357.6 220.5,343.3 220.7,322.1 220.8,295.3 221.0,270.7 221.1,249.7 221.3,241.3 221.4,241.8 221.6,251.0 221.7,268.3 221.8,285.2 222.0,306.3 222.1,325.4 222.3,341.8 222.4,355.4 222.6,360.9 222.7,360.2 222.9,350.6 223.0,331.3 223.2,306.6 223.3,279.3 223.5,258.2 223.6,243.0 223.8,240.8 223.9,245.9 224.1,261.8 224.2,278.0 224.4,298.0 224.5,318.1 224.7,335.6 224.8,350.9 225.0,359.8 225.1,361.1 225.3,355.8 225.4,339.5 225.6,317.1 225.7,289.4 225.9,266.7 226.0,246.7 226.2,240.8 226.3,242.8 226.5,254.5 226.6,271.5 226.8,289.3 226.9,310.3 227.1,328.9 227.2,344.9 227.4,357.1 227.5,361.1 227.7,359.2 227.8,347.1 228.0,326.8 228.1,301.1 228.3,274.9 228.4,253.7 228.6,241.9 228.7,241.2 228.9,248.0 229.0,265.1 229.2,281.5 229.3,302.3 229.5,321.8 229.6,338.8 229.8,353.4 229.9,360.5 230.1,360.7 230.2,353.6 230.4,335.5 230.5,311.9 230.7,284.0 230.8,262.6 230.9,244.7 231.1,240.6 231.2,244.2 231.4,258.2 231.5,274.7 231.7,293.6 231.8,314.2 232.0,332.3 232.1,348.0 232.3,358.6 232.4,361.2 232.6,357.6 232.7,343.3 232.9,322.1 233.0,295.3 233.2,270.7 233.3,249.7 233.5,241.3 233.6,241.8 233.8,251.0 233.9,268.3 234.1,285.2 234.2,306.3 234.4,325.4 234.5,341.8 234.7,355.4 234.8,360.9 235.0,360.2 235.1,350.6 235.3,331.3 235.4,306.6 235.6,279.3 235.7,258.2 235.9,243.0 236.0,240.8 236.2,245.9 236.3,261.8 236.5,278.0 236.6,298.0 236.8,318.0 236.9,335.6 237.1,350.9 237.2,359.8 237.4,361.1 237.5,355.8 237.7,339.5 237.8,317.1 238.0,289.4 238.1,266.7 238.3,246.7 238.4,240.8 238.6,242.8 238.7,254.5 238.9,271.5 239.0,289.3 239.2,310.3 239.3,328.9 239.5,344.9 239.6,357.1 239.7,361.1 239.9,359.2 240.0,347.1 240.2,326.8 240.3,301.1 240.5,274.9 240.6,253.7 240.8,241.9 240.9,241.2 241.1,248.0 241.2,265.1 241.4,281.5 241.5,302.2 241.7,321.8 241.8,338.8 242.0,353.4 242.1,360.5 242.3,360.7 242.4,353.6 242.6,335.5 242.7,311.9 242.9,284.0 243.0,262.6 243.2,244.7 243.3,240.6 243.5,244.2 243.6,258.2 243.8,274.7 243.9,293.6 244.1,314.2 244.2,332.3 244.4,348.0 244.5,358.6 244.7,361.2 244.8,357.6 245.0,343.3 245.1,322.1 245.3,295.3 245.4,270.7 245.6,249.7 245.7,241.2 245.9,241.8 246.0,250.9 246.2,268.3 246.3,285.2 246.5,306.3 246.6,325.4 246.8,341.8 246.9,355.4 247.1,360.9 247.2,360.2 247.4,350.6 247.5,331.3 247.7,306.6 247.8,279.2 248.0,258.2 248.1,243.0 248.3,240.8 248.4,245.9 248.6,261.8 248.7,278.0 248.8,298.0 249.0,318.0 249.1,335.6 249.3,350.9 249.4,359.8 249.6,361.1 249.7,355.8 249.9,339.5 250.0,317.1 250.2,289.4 250.3,266.7 250.5,246.7 250.6,240.8 250.8,242.8 250.9,254.5 251.1,271.5 251.2,289.3 251.4,310.3 251.5,328.9 251.7,344.9 251.8,357.1 252.0,361.1 252.1,359.2 252.3,347.1 252.4,326.8 252.6,301.1 252.7,274.9 252.9,253.7 253.0,241.9 253.2,241.2 253.3,248.0 253.5,265.1 253.6,281.5 253.8,302.2 253.9,321.8 254.1,338.8 254.2,353.4 254.4,360.5 254.5,360.7 254.7,353.6 254.8,335.5 255.0,311.9 255.1,284.0 255.3,262.6 255.4,244.7 255.6,240.6 255.7,244.2 255.9,258.2 256.0,274.7 256.2,293.6 256.3,314.2 256.5,332.3 256.6,348.0 256.8,358.6 256.9,361.2 257.1,357.6 257.2,343.3 257.4,322.1 257.5,295.3 257.6,270.7 257.8,249.7 257.9,241.2 258.1,241.8 258.2,250.9 258.4,268.3 258.5,285.2 258.7,306.3 258.8,325.4 259.0,341.8 259.1,355.4 259.3,360.9 259.4,360.2 259.6,350.6 259.7,331.3 259.9,306.6 260.0,279.2 260.2,258.2 260.3,243.0 260.5,240.7 260.6,245.9 260.8,261.8 260.9,278.0 261.1,298.0 261.2,318.0 261.4,335.6 261.5,350.9 261.7,359.8 261.8,361.1 262.0,355.8 262.1,339.5 262.3,317.1 262.4,289.4 262.6,266.7 262.7,246.7 262.9,240.8 263.0,242.8 263.2,254.5 263.3,271.5 263.5,289.3 263.6,310.3 263.8,328.9 263.9,344.9 264.1,357.1 264.2,361.1 264.4,359.2 264.5,347.1 264.7,326.8 264.8,301.1 265.0,274.9 265.1,253.7 265.3,241.9 265.4,241.2 265.6,248.0 265.7,265.1 265.9,281.5 266.0,302.2 266.2,321.8 266.3,338.8 266.5,353.4 266.6,360.5 266.7,360.7 266.9,353.6 267.0,335.5 267.2,311.9 267.3,284.0 267.5,262.6 267.6,244.7 267.8,240.6 267.9,244.2 268.1,258.2 268.2,274.7 268.4,293.6 268.5,314.2 268.7,332.3 268.8,348.0 269.0,358.6 269.1,361.2 269.3,357.6 269.4,343.3 269.6,322.1 269.7,295.3 269.9,270.7 270.0,249.7 270.2,241.2 270.3,241.8 270.5,250.9 270.6,268.3 270.8,285.2 270.9,306.3 271.1,325.4 271.2,341.8 271.4,355.4 271.5,360.9 271.7,360.2 271.8,350.6 272.0,331.3 272.1,306.6 272.3,279.2 272.4,258.2 272.6,243.0 272.7,240.7 272.9,245.9 273.0,261.8 273.2,278.0 273.3,298.0 273.5,318.0 273.6,335.6 273.8,350.9 273.9,359.8 274.1,361.1 274.2,355.8 274.4,339.5 274.5,317.1 274.7,289.4 274.8,266.7 275.0,246.7 275.1,240.8 275.3,242.8 275.4,254.5 275.5,271.5 275.7,289.3 275.8,310.3 276.0,328.9 276.1,344.9 276.3,357.1 276.4,361.1 276.6,359.2 276.7,347.1 276.9,326.8 277.0,301.1 277.2,274.9 277.3,253.7 277.5,241.9 277.6,241.2 277.8,248.0 277.9,265.1 278.1,281.4 278.2,302.2 278.4,321.8 278.5,338.8 278.7,353.4 278.8,360.5 279.0,360.7 279.1,353.6 279.3,335.5 279.4,311.9 279.6,284.0 279.7,262.6 279.9,244.6 280.0,240.6 280.2,244.2 280.3,258.2 280.5,274.7 280.6,293.6 280.8,314.2 280.9,332.3 281.1,348.0 281.2,358.6 281.4,361.2 281.5,357.6 281.7,343.3 281.8,322.1 282.0,295.3 282.1,270.7 282.3,249.7 282.4,241.2 282.6,241.8 282.7,250.9 282.9,268.3 283.0,285.2 283.2,306.3 283.3,325.4 283.5,341.8 283.6,355.4 283.8,360.9 283.9,360.2 284.1,350.6 284.2,331.3 284.4,306.6 284.5,279.2 284.6,258.2 284.8,243.0 284.9,240.7 285.1,245.9 285.2,261.8 285.4,278.0 285.5,298.0 285.7,318.0 285.8,335.6 286.0,350.9 286.1,359.8 286.3,361.1 286.4,355.8 286.6,339.5 286.7,317.1 286.9,289.4 287.0,266.6 287.2,246.7 287.3,240.7 287.5,242.8 287.6,254.5 287.8,271.5 287.9,289.3 288.1,310.3 288.2,328.9 288.4,344.9 288.5,357.1 288.7,361.1 288.8,359.2 289.0,347.1 289.1,326.8 289.3,301.1 289.4,274.9 289.6,253.7 289.7,241.9 289.9,241.2 290.0,248.0 290.2,265.1 290.3,281.4 290.5,302.2 290.6,321.8 290.8,338.8 290.9,353.4 291.1,360.4 291.2,360.6 291.4,353.5 291.5,335.5 291.7,312.1 291.8,284.7 292.0,263.9 292.1,246.7 292.3,243.2 292.4,247.2 292.6,261.1 292.7,277.2 292.9,295.5 293.0,315.0 293.2,331.9 293.3,346.3 293.4,355.7 293.6,357.9 293.7,354.4 293.9,341.4 294.0,322.7 294.2,299.6 294.3,278.9 294.5,261.7 294.6,255.4 294.8,257.0 294.9,265.7 295.1,281.0 295.2,295.4 295.4,312.4 295.5,327.0 295.7,339.0 295.8,348.3 296.0,351.6 296.1,350.6 296.3,343.8 296.4,330.8 296.6,315.0 296.7,298.0 296.9,285.3 297.0,276.7 297.2,275.9 297.3,279.4 297.5,288.9 297.6,298.2 297.8,309.2 297.9,319.8 298.1,328.8 298.2,336.1 298.4,340.0 298.5,339.9 298.7,336.5 298.8,328.1 299.0,317.1 299.1,304.3 299.3,294.3 299.4,286.0 299.6,284.2 299.7,285.7 299.9,291.0 300.0,297.9 300.2,304.7 300.3,312.1 300.5,318.0 300.6,322.4 300.8,325.2 300.9,325.2 301.1,323.5 301.2,319.4 301.4,313.7 301.5,307.6 301.7,302.3 301.8,298.7 302.0,297.3 302.1,298.0 302.3,299.7 302.4,302.4 302.5,304.5 302.7,306.6 302.8,308.1 303.0,308.9 303.1,309.3 303.3,309.0 303.4,308.5 303.6,307.9 303.7,307.3 303.9,307.1 304.0,307.1 304.2,307.1 304.3,307.1 304.5,307.1 304.6,307.1 304.8,307.1 304.9,307.1 305.1,307.1 305.2,307.1 305.4,307.1 305.5,307.1 305.7,307.1 305.8,307.1 306.0,307.1 306.1,307.1 306.3,307.1 306.4,307.1 306.6,307.1 306.7,307.1 306.9,307.1 307.0,307.1 307.2,307.1 307.3,307.1 307.5,307.1 307.6,307.1 307.8,307.1 307.9,307.1 308.1,307.1 308.2,307.1 308.4,307.1 308.5,307.1 308.7,307.1 308.8,307.1 309.0,307.1 309.1,307.1 309.3,307.1 309.4,307.1 309.6,307.1 309.7,307.1 309.9,307.1 310.0,307.1 310.2,307.1 310.3,307.1 310.5,307.1 310.6,307.1 310.8,307.1 310.9,307.1 311.1,307.1 311.2,307.1 311.3,307.1 311.5,307.1 311.6,307.1 311.8,307.1 311.9,307.1 312.1,307.1 312.2,307.1 312.4,307.1 312.5,307.1 312.7,307.1 312.8,307.1 313.0,307.1 313.1,307.1 313.3,307.1 313.4,307.1 313.6,307.1 313.7,307.1 313.9,307.1 314.0,307.1 314.2,307.1 314.3,307.1 314.5,307.1 314.6,307.1 314.8,307.1 314.9,307.1 315.1,307.1 315.2,307.1 315.4,307.1 315.5,307.1 315.7,307.1 315.8,307.1 316.0,307.1 316.1,307.1 316.3,307.1 316.4,307.1 316.6,307.1 316.7,307.1 316.9,307.1 317.0,307.1 317.2,307.1 317.3,307.1 317.5,307.1 317.6,307.1 317.8,307.1 317.9,307.1 318.1,307.1 318.2,307.1 318.4,307.1 318.5,307.1 318.7,307.1 318.8,307.1 319.0,307.1 319.1,307.1 319.3,307.1 319.4,307.1 319.6,307.1 319.7,307.1 319.9,308.2 320.0,310.0 320.2,312.1"/>
</g>
<rect x="55.40" y="231.60" width="277.80" height="168.00" fill="none" stroke="#1c1c1c" stroke-width="1.4"/>
<path d="M96.55 400.10v5.8M156.22 400.10v5.8M215.88 400.10v5.8M275.55 400.10v5.8M54.90 399.60h-5.8M54.90 363.90h-5.8M54.90 328.20h-5.8M54.90 292.50h-5.8M54.90 256.80h-5.8" stroke="#1c1c1c" stroke-width="1.3" fill="none"/>
<g font-family="'Liberation Serif', serif" font-size="14.67" fill="#1a1a1a" stroke="#1a1a1a" stroke-width="0.12">
<text transform="translate(97.15 422.60) scale(1 1.090)" text-anchor="middle" word-spacing="-0.2">940</text>
<text transform="translate(156.82 422.60) scale(1 1.090)" text-anchor="middle" word-spacing="-0.2">960</text>
<text transform="translate(216.48 422.60) scale(1 1.090)" text-anchor="middle" word-spacing="-0.2">980</text>
<text transform="translate(276.15 422.60) scale(1 1.090)" text-anchor="middle" word-spacing="-0.2">1000</text>
<text transform="translate(44.30 405.00) scale(1 1.090)" text-anchor="end" word-spacing="-0.2">70</text>
<text transform="translate(44.30 369.30) scale(1 1.090)" text-anchor="end" word-spacing="-0.2">80</text>
<text transform="translate(44.30 333.60) scale(1 1.090)" text-anchor="end" word-spacing="-0.2">90</text>
<text transform="translate(44.30 297.90) scale(1 1.090)" text-anchor="end" word-spacing="-0.2">100</text>
<text transform="translate(44.30 262.20) scale(1 1.090)" text-anchor="end" word-spacing="-0.2">110</text>
<text transform="translate(194.30 441.40) scale(1 1.090)" text-anchor="middle" word-spacing="-0.2"><tspan font-style="italic">t</tspan> in s</text>
<text transform="translate(10.70 316.10) rotate(-90) scale(1.035 1)" text-anchor="middle" word-spacing="0.2"><tspan font-style="italic">C</tspan> in pF</text>
</g>
<rect x="236.80" y="236.90" width="91.00" height="32.80" rx="2.2" ry="2.2" fill="#fff" fill-opacity="0.8" stroke="#ccc" stroke-opacity="0.8" stroke-width="1.07"/>
<path d="M239.70 245.50h22.6" stroke="#f18030" stroke-width="2.70"/>
<path d="M239.70 260.50h22.6" stroke="#0a72b4" stroke-opacity="0.90" stroke-width="2.70"/>
<g font-family="'Liberation Serif', serif" font-size="11.73" fill="#1a1a1a" stroke="#1a1a1a" stroke-width="0.1">
<text x="269.50" y="248.80">Experiment</text>
<text x="269.50" y="263.70">Simulation</text>
</g>
<path d="M448.00 231.60V399.60M512.10 231.60V399.60M576.20 231.60V399.60M640.30 231.60V399.60M406.40 399.60H684.20M406.40 363.90H684.20M406.40 328.20H684.20M406.40 292.50H684.20M406.40 256.80H684.20" stroke="#b9b9b9" stroke-width="1.25" fill="none"/>
<g clip-path="url(#c4)" fill="none" stroke-width="2.70" stroke-linejoin="round" stroke-linecap="butt">
<polyline stroke="#f18030" points="418.2,343.3 418.6,340.7 419.0,341.2 419.3,344.6 419.7,349.4 420.1,353.5 420.5,352.9 420.9,346.3 421.3,339.5 421.7,337.6 422.0,340.5 422.4,346.5 422.8,353.3 423.2,357.3 423.6,352.7 424.0,342.6 424.3,335.5 424.7,335.4 425.1,341.2 425.5,350.2 425.9,358.7 426.3,359.9 426.7,350.4 427.0,337.6 427.4,332.1 427.8,334.9 428.2,343.7 428.6,354.9 429.0,363.1 429.3,359.6 429.7,344.9 430.1,331.9 430.5,329.5 430.9,336.2 431.3,348.1 431.7,360.7 432.0,366.2 432.4,356.3 432.8,338.2 433.2,327.3 433.6,328.6 434.0,339.1 434.3,354.2 434.7,367.1 435.1,367.4 435.5,350.5 435.9,331.1 436.3,324.3 436.7,330.0 437.0,344.0 437.4,360.6 437.8,371.6 438.2,363.9 438.6,341.9 439.0,324.3 439.3,322.4 439.7,333.2 440.1,351.0 440.5,368.4 440.9,373.9 441.3,358.1 441.7,332.9 442.0,319.8 442.4,322.9 442.8,338.2 443.2,358.5 443.6,374.7 444.0,372.5 444.3,348.3 444.7,324.1 445.1,317.3 445.5,326.3 445.9,344.9 446.3,365.4 446.7,377.5 447.0,365.0 447.4,337.1 447.8,317.2 448.2,316.7 448.6,331.1 449.0,353.2 449.3,373.6 449.7,377.4 450.1,356.1 450.5,326.6 450.9,313.4 451.3,318.8 451.7,337.3 452.0,360.6 452.4,377.8 452.8,372.1 453.2,343.3 453.6,317.1 454.0,311.7 454.3,323.5 454.7,345.1 455.1,367.7 455.5,378.8 455.9,362.4 456.3,331.0 456.7,311.1 457.0,312.5 457.4,329.6 457.8,354.2 458.2,375.5 458.6,376.9 459.0,351.6 459.3,320.6 459.7,308.7 460.1,316.5 460.5,337.2 460.9,361.8 461.3,378.7 461.7,369.3 462.0,338.0 462.4,311.8 462.8,308.2 463.2,322.4 463.6,346.2 464.0,369.9 464.3,378.9 464.7,359.1 465.1,325.8 465.5,307.2 465.9,310.4 466.3,329.6 466.7,355.6 467.0,376.8 467.4,375.7 467.8,346.7 468.2,315.6 468.6,305.8 469.0,315.8 469.3,338.1 469.7,363.4 470.1,379.1 470.5,365.9 470.9,333.0 471.3,308.0 471.7,306.2 472.0,322.5 472.4,348.0 472.8,372.2 473.2,378.5 473.6,355.5 474.0,321.2 474.3,304.6 474.7,309.6 475.1,330.4 475.5,357.2 475.9,377.7 476.3,373.6 476.7,341.8 477.0,311.4 477.4,303.9 477.8,316.1 478.2,339.7 478.6,365.2 479.0,379.3 479.3,362.8 479.7,328.5 480.1,305.2 480.5,305.5 480.9,323.5 481.3,350.2 481.7,374.2 482.0,377.7 482.4,351.7 482.8,317.3 483.2,302.9 483.6,310.0 484.0,332.1 484.3,359.0 484.7,378.4 485.1,370.7 485.5,337.4 485.9,308.1 486.3,302.9 486.7,317.0 487.0,341.9 487.4,367.5 487.8,379.1 488.2,359.7 488.6,324.5 489.0,303.1 489.3,305.4 489.7,325.0 490.1,352.5 490.5,375.8 490.9,376.5 491.3,347.5 491.7,313.8 492.0,301.7 492.4,311.0 492.8,334.1 493.2,361.0 493.6,378.8 494.0,367.4 494.3,333.1 494.7,305.5 495.1,302.3 495.5,318.4 495.9,344.5 496.3,370.1 496.7,378.7 497.0,356.5 497.4,320.7 497.8,301.7 498.2,305.8 498.6,326.8 499.0,354.7 499.3,377.0 499.7,374.9 500.1,343.1 500.5,310.5 500.9,301.0 501.3,312.4 501.7,336.4 502.0,363.2 502.4,379.2 502.8,364.2 503.2,329.0 503.6,303.4 504.0,302.4 504.3,320.1 504.7,347.3 505.1,372.6 505.5,378.2 505.9,353.1 506.3,317.2 506.7,300.7 507.0,306.7 507.4,328.9 507.8,356.9 508.2,377.9 508.6,372.4 509.0,338.7 509.3,307.5 509.7,300.5 510.1,313.9 510.5,338.9 510.9,365.5 511.3,379.2 511.7,361.1 512.0,325.2 512.4,301.7 512.8,302.8 513.2,322.0 513.6,350.0 514.0,374.7 514.3,377.2 514.7,349.4 515.1,314.0 515.5,299.9 515.9,308.1 516.3,331.2 516.7,359.1 517.0,378.5 517.4,369.3 517.8,334.6 518.2,304.9 518.6,300.2 519.0,315.6 519.3,341.7 519.7,368.1 520.1,379.0 520.5,358.0 520.9,321.5 521.3,300.3 521.7,303.3 522.0,324.0 522.4,352.5 522.8,376.1 523.2,375.9 523.6,345.1 524.0,310.9 524.3,299.3 524.7,309.6 525.1,333.7 525.5,361.3 525.9,379.0 526.3,365.9 526.7,330.5 527.0,302.8 527.4,300.3 527.8,317.4 528.2,344.6 528.6,370.7 529.0,378.6 529.3,354.8 529.7,318.1 530.1,299.4 530.5,304.2 530.9,326.2 531.3,354.8 531.7,377.3 532.0,374.0 532.4,340.7 532.8,307.9 533.2,299.0 533.6,311.4 534.0,336.3 534.3,363.5 534.7,379.2 535.1,362.8 535.5,326.6 535.9,301.2 536.3,300.8 536.7,319.4 537.0,347.5 537.4,373.2 537.8,377.9 538.2,351.4 538.6,314.8 539.0,298.8 539.3,305.7 539.7,328.7 540.1,357.2 540.5,378.1 540.9,371.3 541.3,336.5 541.7,305.2 542.0,299.0 542.4,313.3 542.8,339.1 543.2,366.0 543.6,379.2 544.0,359.8 544.3,323.0 544.7,299.9 545.1,301.7 545.5,321.7 545.9,350.4 546.3,375.1 546.6,376.8 547.0,347.5 547.4,312.0 547.8,298.5 548.2,307.6 548.6,331.4 549.0,359.5 549.3,378.6 549.7,368.0 550.1,332.6 550.5,303.2 550.9,299.2 551.3,315.4 551.6,342.2 552.0,368.8 552.4,378.8 552.8,356.7 553.2,319.7 553.6,299.1 554.0,302.8 554.3,324.1 554.7,353.0 555.1,376.4 555.5,375.3 555.9,343.3 556.3,309.2 556.6,298.5 557.0,309.6 557.4,334.1 557.8,361.8 558.2,379.0 558.6,364.7 559.0,328.8 559.3,301.7 559.7,299.9 560.1,317.6 560.5,345.3 560.9,371.5 561.3,378.3 561.6,353.5 562.0,316.5 562.4,298.7 562.8,304.2 563.2,326.7 563.6,355.5 564.0,377.5 564.3,373.1 564.7,339.0 565.1,306.5 565.5,298.6 565.9,311.7 566.3,337.0 566.6,364.2 567.0,379.2 567.4,361.6 567.8,325.1 568.2,300.3 568.6,300.7 569.0,319.9 569.3,348.4 569.7,373.8 570.1,377.5 570.5,350.0 570.9,313.6 571.3,298.4 571.6,306.0 572.0,329.3 572.4,357.8 572.8,378.3 573.2,370.1 573.6,335.0 574.0,304.2 574.3,298.7 574.7,313.7 575.1,339.9 575.5,366.9 575.9,379.0 576.3,358.6 576.6,321.7 577.0,299.3 577.4,301.8 577.8,322.3 578.2,351.1 578.6,375.5 579.0,376.2 579.3,346.0 579.7,310.8 580.1,298.2 580.5,308.0 580.9,332.1 581.3,360.2 581.6,378.7 582.0,366.8 582.4,331.1 582.8,302.4 583.2,299.1 583.6,315.9 584.0,343.1 584.3,369.6 584.7,378.6 585.1,355.5 585.5,318.4 585.9,298.7 586.3,303.0 586.6,324.8 587.0,353.7 587.4,376.8 587.8,374.6 588.2,341.7 588.6,308.1 589.0,298.2 589.3,310.1 589.7,334.9 590.1,362.5 590.5,379.0 590.9,363.5 591.3,327.3 591.6,301.0 592.0,299.9 592.4,318.2 592.8,346.2 593.2,372.3 593.6,378.0 594.0,352.2 594.3,315.3 594.7,298.3 595.1,304.6 595.5,327.4 595.9,356.1 596.3,377.7 596.6,372.1 597.0,337.5 597.4,305.5 597.8,298.4 598.2,312.1 598.6,337.8 599.0,365.0 599.3,379.1 599.7,360.5 600.1,323.8 600.5,299.7 600.9,300.9 601.3,320.5 601.6,349.2 602.0,374.4 602.4,377.0 602.8,348.6 603.2,312.5 603.6,298.1 604.0,306.4 604.3,330.1 604.7,358.5 605.1,378.3 605.5,368.9 605.9,333.5 606.3,303.3 606.6,298.6 607.0,314.2 607.4,340.8 607.8,367.7 608.2,378.8 608.6,357.5 609.0,320.4 609.3,298.9 609.7,302.0 610.1,323.0 610.5,351.9 610.9,375.8 611.3,375.6 611.6,344.4 612.0,309.7 612.4,298.0 612.8,308.5 613.2,332.9 613.6,360.8 614.0,378.7 614.3,365.5 614.7,329.7 615.1,301.7 615.5,299.2 615.9,316.5 616.3,344.0 616.6,370.4 617.0,378.3 617.4,354.3 617.8,317.2 618.2,298.4 618.6,303.3 619.0,325.5 619.3,354.4 619.7,377.0 620.1,373.7 620.5,340.1 620.9,307.0 621.3,298.1 621.6,310.6 622.0,335.7 622.4,363.2 622.8,378.9 623.2,362.4 623.6,326.0 624.0,300.4 624.3,300.0 624.7,318.8 625.1,347.1 625.5,372.9 625.9,377.6 626.3,350.9 626.6,314.2 627.0,298.1 627.4,305.0 627.8,328.1 628.2,356.8 628.6,377.9 629.0,370.9 629.3,336.0 629.7,304.6 630.1,298.3 630.5,312.7 630.9,338.6 631.3,365.7 631.6,378.9 632.0,359.4 632.4,322.5 632.8,299.3 633.2,301.1 633.6,321.2 634.0,350.0 634.3,374.8 634.7,376.4 635.1,347.1 635.5,311.4 635.9,297.9 636.3,307.0 636.6,330.9 637.0,359.1 637.4,378.3 637.8,367.6 638.2,332.1 638.6,302.6 639.0,298.7 639.3,314.8 639.7,341.7 640.1,368.4 640.5,378.5 640.9,356.3 641.3,319.2 641.6,298.5 642.0,302.2 642.4,323.7 642.8,352.6 643.2,376.1 643.6,374.9 644.0,342.8 644.3,308.7 644.7,297.9 645.1,309.1 645.5,333.7 645.9,361.4 646.3,378.6 646.6,364.3 647.0,328.3 647.4,301.1 647.8,299.3 648.2,317.1 648.6,344.9 649.0,371.1 649.3,377.9 649.7,353.1 650.1,316.1 650.5,298.2 650.9,303.7 651.3,326.2 651.6,355.0 652.0,377.1 652.4,372.7 652.8,338.6 653.2,306.1 653.6,298.1 654.0,311.2 654.3,336.5 654.7,363.8 655.1,378.7 655.5,361.2 655.9,324.7 656.3,299.9 656.6,300.3 657.0,319.5 657.4,347.9 657.8,373.4 658.2,377.1 658.6,349.6 659.0,313.1 659.3,298.0 659.7,305.6 660.1,328.9 660.5,357.4 660.9,377.8 661.3,369.7 661.6,334.6 662.0,303.8 662.4,298.3 662.8,313.3 663.2,339.5 663.6,366.4 664.0,378.5 664.3,358.2 664.7,321.3 665.1,298.9 665.5,301.4 665.9,321.9 666.3,350.7 666.6,375.0 667.0,375.7 667.4,345.5 667.8,310.4 668.2,297.9 668.6,307.6 669.0,331.7 669.3,359.7 669.7,378.2 670.1,366.3 670.5,330.7 670.9,302.0 671.3,342.5 671.7,351.8 672.2,327.1"/>
<polyline stroke="#0a72b4" stroke-opacity="0.90" points="418.2,302.7 418.6,298.8 419.0,299.8 419.3,304.9 419.7,312.1 420.1,318.1 420.5,317.2 420.9,307.5 421.3,297.7 421.7,295.0 422.0,299.1 422.4,307.8 422.8,317.7 423.2,323.4 423.6,316.8 424.0,302.3 424.3,292.1 424.7,292.1 425.1,300.4 425.5,313.3 425.9,325.4 426.3,327.2 426.7,313.6 427.0,295.2 427.4,287.3 427.8,291.3 428.2,304.0 428.6,320.0 429.0,331.9 429.3,326.8 429.7,305.7 430.1,286.9 430.5,283.5 430.9,293.1 431.3,310.4 431.7,328.5 432.0,336.6 432.4,322.2 432.8,295.9 433.2,280.0 433.6,281.8 434.0,297.1 434.3,319.2 434.7,338.1 435.1,338.4 435.5,313.7 435.9,285.1 436.3,274.9 436.7,283.2 437.0,303.9 437.4,328.4 437.8,344.7 438.2,333.3 438.6,300.6 439.0,274.3 439.3,271.4 439.7,287.5 440.1,314.1 440.5,340.4 440.9,348.7 441.3,324.8 441.7,286.7 442.0,266.7 442.4,271.4 442.8,294.5 443.2,325.4 443.6,350.0 444.0,346.7 444.3,309.7 444.7,272.7 445.1,262.3 445.5,275.9 445.9,304.2 446.3,335.7 446.7,354.0 447.0,334.9 447.4,292.1 447.8,261.5 448.2,260.6 448.6,282.7 449.0,316.6 449.3,347.9 449.7,353.8 450.1,321.1 450.5,275.8 450.9,255.6 451.3,263.9 451.7,292.6 452.0,328.4 452.4,355.0 452.8,346.3 453.2,302.0 453.6,261.8 454.0,253.6 454.3,271.8 454.7,305.1 455.1,340.1 455.5,357.3 455.9,331.9 456.3,283.7 456.7,253.0 457.0,255.2 457.4,281.5 457.8,319.6 458.2,352.6 458.6,355.0 459.0,315.8 459.3,267.8 459.7,249.5 460.1,261.5 460.5,293.7 460.9,332.0 461.3,358.1 461.7,343.6 462.0,295.1 462.4,254.7 462.8,249.1 463.2,271.2 463.6,308.2 464.0,345.0 464.3,358.9 464.7,328.2 465.1,276.8 465.5,248.0 465.9,253.0 466.3,282.7 466.7,323.0 467.0,355.8 467.4,354.1 467.8,309.3 468.2,261.4 468.6,246.2 469.0,261.7 469.3,296.2 469.7,335.2 470.1,359.4 470.5,339.1 470.9,288.4 471.3,249.9 471.7,247.3 472.0,272.3 472.4,311.6 472.8,348.8 473.2,358.5 473.6,323.1 474.0,270.5 474.3,245.0 474.7,252.8 475.1,284.8 475.5,325.8 475.9,357.4 476.3,351.1 476.7,302.2 477.0,255.7 477.4,244.2 477.8,262.9 478.2,299.1 478.6,338.3 479.0,359.8 479.3,334.6 479.7,282.0 480.1,246.3 480.5,246.8 480.9,274.4 481.3,315.4 481.7,352.1 482.0,357.4 482.4,317.7 482.8,265.0 483.2,243.0 483.6,254.0 484.0,287.7 484.3,328.9 484.7,358.6 485.1,346.7 485.5,295.8 485.9,251.1 486.3,243.2 486.7,264.9 487.0,302.9 487.4,342.0 487.8,359.7 488.2,330.0 488.6,276.3 489.0,243.7 489.3,247.3 489.7,277.1 490.1,319.1 490.5,354.6 490.9,355.7 491.3,311.6 491.7,260.3 492.0,241.9 492.4,256.1 492.8,291.2 493.2,332.2 493.6,359.3 494.0,341.8 494.3,289.7 494.7,247.7 495.1,242.9 495.5,267.4 495.9,307.2 496.3,346.1 496.7,359.2 497.0,325.4 497.4,271.0 497.8,242.1 498.2,248.3 498.6,280.3 499.0,322.7 499.3,356.5 499.7,353.4 500.1,305.1 500.5,255.7 500.9,241.2 501.3,258.6 501.7,295.1 502.0,335.6 502.4,359.9 502.8,337.1 503.2,283.9 503.6,245.1 504.0,243.5 504.3,270.4 504.7,311.6 505.1,350.0 505.5,358.5 505.9,320.5 506.3,266.2 506.7,241.1 507.0,250.3 507.4,283.9 507.8,326.2 508.2,358.1 508.6,349.8 509.0,298.8 509.3,251.6 509.7,241.1 510.1,261.4 510.5,299.2 510.9,339.3 511.3,360.1 511.7,332.7 512.0,278.5 512.4,243.1 512.8,244.7 513.2,273.7 513.6,316.0 514.0,353.2 514.3,357.1 514.7,315.1 515.1,261.8 515.5,240.6 515.9,252.9 516.3,287.8 516.7,329.8 517.0,359.1 517.4,345.2 517.8,292.9 518.2,248.2 518.6,241.3 519.0,264.4 519.3,303.7 519.7,343.4 520.1,359.8 520.5,328.3 520.9,273.5 521.3,241.6 521.7,246.2 522.0,277.2 522.4,320.0 522.8,355.5 523.2,355.2 523.6,309.0 524.0,257.6 524.3,240.3 524.7,255.8 525.1,291.9 525.5,333.3 525.9,359.8 526.3,340.2 526.7,287.2 527.0,245.7 527.4,241.9 527.8,267.6 528.2,308.3 528.6,347.5 529.0,359.2 529.3,323.7 529.7,268.7 530.1,240.7 530.5,248.0 530.9,280.9 531.3,323.8 531.7,357.3 532.0,352.5 532.4,302.6 532.8,253.5 533.2,240.3 533.6,258.8 534.0,296.1 534.3,336.9 534.7,360.3 535.1,335.7 535.5,281.6 535.9,243.6 536.3,243.1 536.7,271.0 537.0,313.0 537.4,351.3 537.8,358.3 538.2,318.7 538.6,264.2 539.0,240.3 539.3,250.5 539.7,284.9 540.1,327.4 540.5,358.7 540.9,348.5 541.3,296.6 541.7,249.9 542.0,240.6 542.4,261.9 542.8,300.5 543.2,340.7 543.6,360.3 544.0,331.3 544.3,276.5 544.7,242.0 545.1,244.7 545.5,274.6 545.9,317.4 546.3,354.2 546.6,356.7 547.0,313.1 547.4,260.1 547.8,240.0 548.2,253.5 548.6,289.0 549.0,331.0 549.3,359.6 549.7,343.6 550.1,290.9 550.5,247.0 550.9,241.1 551.3,265.2 551.6,305.2 552.0,344.9 552.4,359.9 552.8,326.9 553.2,271.7 553.6,241.0 554.0,246.5 554.3,278.3 554.7,321.3 555.1,356.3 555.5,354.6 555.9,306.9 556.3,256.1 556.6,240.1 557.0,256.7 557.4,293.3 557.8,334.6 558.2,360.2 558.6,338.8 559.0,285.3 559.3,244.9 559.7,242.2 560.1,268.6 560.5,310.0 560.9,349.0 561.3,359.2 561.6,322.2 562.0,267.1 562.4,240.5 562.8,248.7 563.2,282.2 563.6,325.1 564.0,358.0 564.3,351.5 564.7,300.6 565.1,252.2 565.5,240.3 565.9,259.9 566.3,297.6 566.6,338.2 567.0,360.5 567.4,334.4 567.8,279.9 568.2,243.0 568.6,243.6 569.0,272.2 569.3,314.6 569.7,352.6 570.1,358.0 570.5,317.0 570.9,262.8 571.3,240.1 571.6,251.5 572.0,286.3 572.4,328.7 572.8,359.2 573.2,347.1 573.6,294.7 574.0,248.8 574.3,240.7 574.7,263.0 575.1,302.1 575.5,342.2 575.9,360.3 576.3,330.0 576.6,274.9 577.0,241.6 577.4,245.3 577.8,275.9 578.2,318.8 578.6,355.1 579.0,356.2 579.3,311.2 579.7,258.8 580.1,240.0 580.5,254.6 580.9,290.5 581.3,332.3 581.6,359.9 582.0,342.1 582.4,289.0 582.8,246.2 583.2,241.4 583.6,266.4 584.0,306.8 584.3,346.4 584.7,359.8 585.1,325.4 585.5,270.2 585.9,240.8 586.3,247.2 586.6,279.6 587.0,322.7 587.4,357.1 587.8,353.8 588.2,304.8 588.6,254.8 589.0,240.1 589.3,257.8 589.7,294.7 590.1,335.9 590.5,360.4 590.9,337.4 591.3,283.5 591.6,244.2 592.0,242.6 592.4,269.8 592.8,311.6 593.2,350.4 593.6,359.0 594.0,320.6 594.3,265.6 594.7,240.3 595.1,249.6 595.5,283.6 595.9,326.4 596.3,358.6 596.6,350.2 597.0,298.7 597.4,251.0 597.8,240.5 598.2,260.9 598.6,299.1 599.0,339.6 599.3,360.6 599.7,333.0 600.1,278.3 600.5,242.5 600.9,244.2 601.3,273.4 601.6,316.1 602.0,353.6 602.4,357.6 602.8,315.2 603.2,261.4 603.6,240.1 604.0,252.5 604.3,287.7 604.7,330.0 605.1,359.5 605.5,345.5 605.9,292.9 606.3,247.9 606.6,240.9 607.0,264.1 607.4,303.7 607.8,343.7 608.2,360.3 608.6,328.5 609.0,273.3 609.3,241.2 609.7,245.9 610.1,277.1 610.5,320.2 610.9,355.9 611.3,355.5 611.6,309.1 612.0,257.4 612.4,240.0 612.8,255.6 613.2,291.9 613.6,333.5 614.0,360.2 614.3,340.5 614.7,287.2 615.1,245.5 615.5,241.8 615.9,267.5 616.3,308.5 616.6,347.9 617.0,359.6 617.4,323.9 617.8,268.6 618.2,240.6 618.6,247.9 619.0,281.0 619.3,324.0 619.7,357.7 620.1,352.8 620.5,302.8 620.9,253.5 621.3,240.2 621.6,258.8 622.0,296.2 622.4,337.1 622.8,360.6 623.2,336.0 623.6,281.7 624.0,243.6 624.3,243.1 624.7,271.0 625.1,313.2 625.5,351.6 625.9,358.7 626.3,318.9 626.6,264.2 627.0,240.2 627.4,250.5 627.8,285.0 628.2,327.6 628.6,359.0 629.0,348.8 629.3,296.7 629.7,249.9 630.1,240.6 630.5,262.0 630.9,300.6 631.3,341.0 631.6,360.6 632.0,331.5 632.4,276.6 632.8,242.0 633.2,244.7 633.6,274.7 634.0,317.6 634.3,354.5 634.7,357.0 635.1,313.3 635.5,260.1 635.9,240.0 636.3,253.5 636.6,289.1 637.0,331.2 637.4,359.8 637.8,343.9 638.2,291.0 638.6,247.0 639.0,241.1 639.3,265.3 639.7,305.3 640.1,345.1 640.5,360.1 640.9,327.1 641.3,271.8 641.6,241.0 642.0,246.5 642.4,278.4 642.8,321.5 643.2,356.6 643.6,354.8 644.0,307.0 644.3,256.1 644.7,240.1 645.1,256.7 645.5,293.4 645.9,334.7 646.3,360.4 646.6,339.0 647.0,285.4 647.4,244.9 647.8,242.2 648.2,268.7 648.6,310.1 649.0,349.2 649.3,359.4 649.7,322.3 650.1,267.1 650.5,240.5 650.9,248.7 651.3,282.3 651.6,325.3 652.0,358.2 652.4,351.6 652.8,300.7 653.2,252.2 653.6,240.3 654.0,259.9 654.3,297.7 654.7,338.4 655.1,360.7 655.5,334.5 655.9,280.0 656.3,243.0 656.6,243.6 657.0,272.2 657.4,314.7 657.8,352.7 658.2,358.2 658.6,317.2 659.0,262.8 659.3,240.1 659.7,251.5 660.1,286.4 660.5,328.9 660.9,359.4 661.3,347.2 661.6,294.8 662.0,248.8 662.4,240.7 662.8,263.1 663.2,302.2 663.6,342.3 664.0,360.5 664.3,330.1 664.7,275.0 665.1,241.6 665.5,245.3 665.9,275.9 666.3,318.9 666.6,355.2 667.0,356.3 667.4,311.3 667.8,258.8 668.2,240.0 668.6,254.6 669.0,290.5 669.3,332.4 669.7,360.1 670.1,342.2 670.5,289.1 670.9,246.2 671.3,241.4"/>
</g>
<rect x="406.40" y="231.60" width="277.80" height="168.00" fill="none" stroke="#1c1c1c" stroke-width="1.4"/>
<path d="M448.00 400.10v5.8M512.10 400.10v5.8M576.20 400.10v5.8M640.30 400.10v5.8M405.90 399.60h-5.8M405.90 363.90h-5.8M405.90 328.20h-5.8M405.90 292.50h-5.8M405.90 256.80h-5.8" stroke="#1c1c1c" stroke-width="1.3" fill="none"/>
<g font-family="'Liberation Serif', serif" font-size="14.67" fill="#1a1a1a" stroke="#1a1a1a" stroke-width="0.12">
<text transform="translate(448.60 422.60) scale(1 1.090)" text-anchor="middle" word-spacing="-0.2">1020</text>
<text transform="translate(512.70 422.60) scale(1 1.090)" text-anchor="middle" word-spacing="-0.2">1030</text>
<text transform="translate(576.80 422.60) scale(1 1.090)" text-anchor="middle" word-spacing="-0.2">1040</text>
<text transform="translate(640.90 422.60) scale(1 1.090)" text-anchor="middle" word-spacing="-0.2">1050</text>
<text transform="translate(395.30 405.00) scale(1 1.090)" text-anchor="end" word-spacing="-0.2">70</text>
<text transform="translate(395.30 369.30) scale(1 1.090)" text-anchor="end" word-spacing="-0.2">80</text>
<text transform="translate(395.30 333.60) scale(1 1.090)" text-anchor="end" word-spacing="-0.2">90</text>
<text transform="translate(395.30 297.90) scale(1 1.090)" text-anchor="end" word-spacing="-0.2">100</text>
<text transform="translate(395.30 262.20) scale(1 1.090)" text-anchor="end" word-spacing="-0.2">110</text>
<text transform="translate(545.30 441.40) scale(1 1.090)" text-anchor="middle" word-spacing="-0.2"><tspan font-style="italic">t</tspan> in s</text>
<text transform="translate(361.70 316.10) rotate(-90) scale(1.035 1)" text-anchor="middle" word-spacing="0.2"><tspan font-style="italic">C</tspan> in pF</text>
</g>
<rect x="411.10" y="236.90" width="91.00" height="32.80" rx="2.2" ry="2.2" fill="#fff" fill-opacity="0.8" stroke="#ccc" stroke-opacity="0.8" stroke-width="1.07"/>
<path d="M414.00 245.50h22.6" stroke="#f18030" stroke-width="2.70"/>
<path d="M414.00 260.50h22.6" stroke="#0a72b4" stroke-opacity="0.90" stroke-width="2.70"/>
<g font-family="'Liberation Serif', serif" font-size="11.73" fill="#1a1a1a" stroke="#1a1a1a" stroke-width="0.1">
<text x="443.80" y="248.80">Experiment</text>
<text x="443.80" y="263.70">Simulation</text>
</g>
</svg>
</body></html>
